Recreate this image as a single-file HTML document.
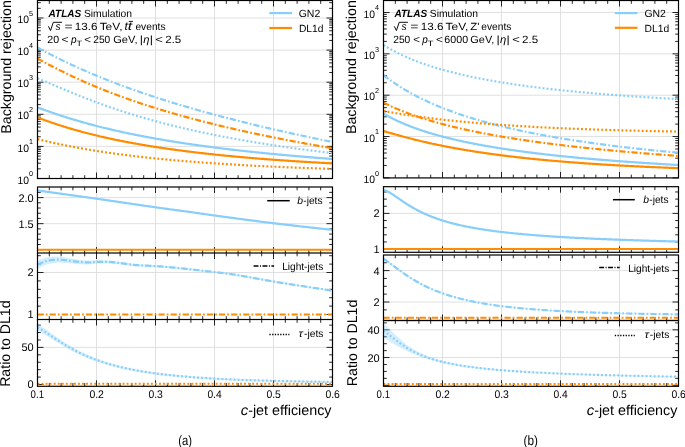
<!DOCTYPE html>
<html><head><meta charset="utf-8"><style>
html,body{margin:0;padding:0;background:#fff;}
body{width:685px;height:447px;overflow:hidden;}
svg{display:block;text-rendering:geometricPrecision;will-change:transform;}
</style></head><body>
<svg width="685" height="447" viewBox="0 0 685 447" font-family="'Liberation Sans', sans-serif">
<rect width="685" height="447" fill="#fff"/>
<defs>
<clipPath id="Amain"><rect x="37.5" y="0.5" width="295" height="178"/></clipPath>
<clipPath id="Ab"><rect x="37.5" y="187" width="295" height="66"/></clipPath>
<clipPath id="Al"><rect x="37.5" y="253" width="295" height="66.5"/></clipPath>
<clipPath id="At"><rect x="37.5" y="319.5" width="295" height="66.8"/></clipPath>
<clipPath id="Bmain"><rect x="383.5" y="0.5" width="295" height="177.4"/></clipPath>
<clipPath id="Bb"><rect x="383.5" y="186.7" width="295" height="65.6"/></clipPath>
<clipPath id="Bl"><rect x="383.5" y="255" width="295" height="65.5"/></clipPath>
<clipPath id="Bt"><rect x="383.5" y="320.5" width="295" height="65.8"/></clipPath>
</defs>
<line x1="96.5" y1="0.5" x2="96.5" y2="178.5" stroke="#dcdcdc" stroke-width="0.9"/>
<line x1="155.5" y1="0.5" x2="155.5" y2="178.5" stroke="#dcdcdc" stroke-width="0.9"/>
<line x1="214.5" y1="0.5" x2="214.5" y2="178.5" stroke="#dcdcdc" stroke-width="0.9"/>
<line x1="273.5" y1="0.5" x2="273.5" y2="178.5" stroke="#dcdcdc" stroke-width="0.9"/>
<line x1="37.5" y1="146.4" x2="332.5" y2="146.4" stroke="#dcdcdc" stroke-width="0.9"/>
<line x1="37.5" y1="114.3" x2="332.5" y2="114.3" stroke="#dcdcdc" stroke-width="0.9"/>
<line x1="37.5" y1="82.2" x2="332.5" y2="82.2" stroke="#dcdcdc" stroke-width="0.9"/>
<line x1="37.5" y1="50.1" x2="332.5" y2="50.1" stroke="#dcdcdc" stroke-width="0.9"/>
<line x1="37.5" y1="18" x2="332.5" y2="18" stroke="#dcdcdc" stroke-width="0.9"/>
<line x1="96.5" y1="187" x2="96.5" y2="253" stroke="#dcdcdc" stroke-width="0.9"/>
<line x1="155.5" y1="187" x2="155.5" y2="253" stroke="#dcdcdc" stroke-width="0.9"/>
<line x1="214.5" y1="187" x2="214.5" y2="253" stroke="#dcdcdc" stroke-width="0.9"/>
<line x1="273.5" y1="187" x2="273.5" y2="253" stroke="#dcdcdc" stroke-width="0.9"/>
<line x1="37.5" y1="197.6" x2="332.5" y2="197.6" stroke="#dcdcdc" stroke-width="0.9"/>
<line x1="37.5" y1="223.65" x2="332.5" y2="223.65" stroke="#dcdcdc" stroke-width="0.9"/>
<line x1="96.5" y1="253" x2="96.5" y2="319.5" stroke="#dcdcdc" stroke-width="0.9"/>
<line x1="155.5" y1="253" x2="155.5" y2="319.5" stroke="#dcdcdc" stroke-width="0.9"/>
<line x1="214.5" y1="253" x2="214.5" y2="319.5" stroke="#dcdcdc" stroke-width="0.9"/>
<line x1="273.5" y1="253" x2="273.5" y2="319.5" stroke="#dcdcdc" stroke-width="0.9"/>
<line x1="37.5" y1="272.5" x2="332.5" y2="272.5" stroke="#dcdcdc" stroke-width="0.9"/>
<line x1="96.5" y1="319.5" x2="96.5" y2="386.3" stroke="#dcdcdc" stroke-width="0.9"/>
<line x1="155.5" y1="319.5" x2="155.5" y2="386.3" stroke="#dcdcdc" stroke-width="0.9"/>
<line x1="214.5" y1="319.5" x2="214.5" y2="386.3" stroke="#dcdcdc" stroke-width="0.9"/>
<line x1="273.5" y1="319.5" x2="273.5" y2="386.3" stroke="#dcdcdc" stroke-width="0.9"/>
<line x1="37.5" y1="347.4" x2="332.5" y2="347.4" stroke="#dcdcdc" stroke-width="0.9"/>
<line x1="442.5" y1="0.5" x2="442.5" y2="177.9" stroke="#dcdcdc" stroke-width="0.9"/>
<line x1="501.5" y1="0.5" x2="501.5" y2="177.9" stroke="#dcdcdc" stroke-width="0.9"/>
<line x1="560.5" y1="0.5" x2="560.5" y2="177.9" stroke="#dcdcdc" stroke-width="0.9"/>
<line x1="619.5" y1="0.5" x2="619.5" y2="177.9" stroke="#dcdcdc" stroke-width="0.9"/>
<line x1="383.5" y1="136.55" x2="678.5" y2="136.55" stroke="#dcdcdc" stroke-width="0.9"/>
<line x1="383.5" y1="95.2" x2="678.5" y2="95.2" stroke="#dcdcdc" stroke-width="0.9"/>
<line x1="383.5" y1="53.85" x2="678.5" y2="53.85" stroke="#dcdcdc" stroke-width="0.9"/>
<line x1="383.5" y1="12.5" x2="678.5" y2="12.5" stroke="#dcdcdc" stroke-width="0.9"/>
<line x1="442.5" y1="186.7" x2="442.5" y2="252.3" stroke="#dcdcdc" stroke-width="0.9"/>
<line x1="501.5" y1="186.7" x2="501.5" y2="252.3" stroke="#dcdcdc" stroke-width="0.9"/>
<line x1="560.5" y1="186.7" x2="560.5" y2="252.3" stroke="#dcdcdc" stroke-width="0.9"/>
<line x1="619.5" y1="186.7" x2="619.5" y2="252.3" stroke="#dcdcdc" stroke-width="0.9"/>
<line x1="383.5" y1="213.4" x2="678.5" y2="213.4" stroke="#dcdcdc" stroke-width="0.9"/>
<line x1="442.5" y1="255" x2="442.5" y2="320.5" stroke="#dcdcdc" stroke-width="0.9"/>
<line x1="501.5" y1="255" x2="501.5" y2="320.5" stroke="#dcdcdc" stroke-width="0.9"/>
<line x1="560.5" y1="255" x2="560.5" y2="320.5" stroke="#dcdcdc" stroke-width="0.9"/>
<line x1="619.5" y1="255" x2="619.5" y2="320.5" stroke="#dcdcdc" stroke-width="0.9"/>
<line x1="383.5" y1="302" x2="678.5" y2="302" stroke="#dcdcdc" stroke-width="0.9"/>
<line x1="383.5" y1="270.6" x2="678.5" y2="270.6" stroke="#dcdcdc" stroke-width="0.9"/>
<line x1="442.5" y1="320.5" x2="442.5" y2="386.3" stroke="#dcdcdc" stroke-width="0.9"/>
<line x1="501.5" y1="320.5" x2="501.5" y2="386.3" stroke="#dcdcdc" stroke-width="0.9"/>
<line x1="560.5" y1="320.5" x2="560.5" y2="386.3" stroke="#dcdcdc" stroke-width="0.9"/>
<line x1="619.5" y1="320.5" x2="619.5" y2="386.3" stroke="#dcdcdc" stroke-width="0.9"/>
<line x1="383.5" y1="357.56" x2="678.5" y2="357.56" stroke="#dcdcdc" stroke-width="0.9"/>
<line x1="383.5" y1="329.82" x2="678.5" y2="329.82" stroke="#dcdcdc" stroke-width="0.9"/>
<path d="M37.5 0.5v6M37.5 178.5v-6M49.3 0.5v3.3M49.3 178.5v-3.3M61.1 0.5v3.3M61.1 178.5v-3.3M72.9 0.5v3.3M72.9 178.5v-3.3M84.7 0.5v3.3M84.7 178.5v-3.3M96.5 0.5v6M96.5 178.5v-6M108.3 0.5v3.3M108.3 178.5v-3.3M120.1 0.5v3.3M120.1 178.5v-3.3M131.9 0.5v3.3M131.9 178.5v-3.3M143.7 0.5v3.3M143.7 178.5v-3.3M155.5 0.5v6M155.5 178.5v-6M167.3 0.5v3.3M167.3 178.5v-3.3M179.1 0.5v3.3M179.1 178.5v-3.3M190.9 0.5v3.3M190.9 178.5v-3.3M202.7 0.5v3.3M202.7 178.5v-3.3M214.5 0.5v6M214.5 178.5v-6M226.3 0.5v3.3M226.3 178.5v-3.3M238.1 0.5v3.3M238.1 178.5v-3.3M249.9 0.5v3.3M249.9 178.5v-3.3M261.7 0.5v3.3M261.7 178.5v-3.3M273.5 0.5v6M273.5 178.5v-6M285.3 0.5v3.3M285.3 178.5v-3.3M297.1 0.5v3.3M297.1 178.5v-3.3M308.9 0.5v3.3M308.9 178.5v-3.3M320.7 0.5v3.3M320.7 178.5v-3.3M332.5 0.5v6M332.5 178.5v-6" stroke="#000" stroke-width="0.85" fill="none"/>
<path d="M37.5 178.5h6M332.5 178.5h-6M37.5 146.4h6M332.5 146.4h-6M37.5 114.3h6M332.5 114.3h-6M37.5 82.2h6M332.5 82.2h-6M37.5 50.1h6M332.5 50.1h-6M37.5 18h6M332.5 18h-6M37.5 168.84h3.3M332.5 168.84h-3.3M37.5 163.18h3.3M332.5 163.18h-3.3M37.5 159.17h3.3M332.5 159.17h-3.3M37.5 156.06h3.3M332.5 156.06h-3.3M37.5 153.52h3.3M332.5 153.52h-3.3M37.5 151.37h3.3M332.5 151.37h-3.3M37.5 149.51h3.3M332.5 149.51h-3.3M37.5 147.87h3.3M332.5 147.87h-3.3M37.5 136.74h3.3M332.5 136.74h-3.3M37.5 131.08h3.3M332.5 131.08h-3.3M37.5 127.07h3.3M332.5 127.07h-3.3M37.5 123.96h3.3M332.5 123.96h-3.3M37.5 121.42h3.3M332.5 121.42h-3.3M37.5 119.27h3.3M332.5 119.27h-3.3M37.5 117.41h3.3M332.5 117.41h-3.3M37.5 115.77h3.3M332.5 115.77h-3.3M37.5 104.64h3.3M332.5 104.64h-3.3M37.5 98.98h3.3M332.5 98.98h-3.3M37.5 94.97h3.3M332.5 94.97h-3.3M37.5 91.86h3.3M332.5 91.86h-3.3M37.5 89.32h3.3M332.5 89.32h-3.3M37.5 87.17h3.3M332.5 87.17h-3.3M37.5 85.31h3.3M332.5 85.31h-3.3M37.5 83.67h3.3M332.5 83.67h-3.3M37.5 72.54h3.3M332.5 72.54h-3.3M37.5 66.88h3.3M332.5 66.88h-3.3M37.5 62.87h3.3M332.5 62.87h-3.3M37.5 59.76h3.3M332.5 59.76h-3.3M37.5 57.22h3.3M332.5 57.22h-3.3M37.5 55.07h3.3M332.5 55.07h-3.3M37.5 53.21h3.3M332.5 53.21h-3.3M37.5 51.57h3.3M332.5 51.57h-3.3M37.5 40.44h3.3M332.5 40.44h-3.3M37.5 34.78h3.3M332.5 34.78h-3.3M37.5 30.77h3.3M332.5 30.77h-3.3M37.5 27.66h3.3M332.5 27.66h-3.3M37.5 25.12h3.3M332.5 25.12h-3.3M37.5 22.97h3.3M332.5 22.97h-3.3M37.5 21.11h3.3M332.5 21.11h-3.3M37.5 19.47h3.3M332.5 19.47h-3.3M37.5 8.34h3.3M332.5 8.34h-3.3M37.5 2.68h3.3M332.5 2.68h-3.3" stroke="#000" stroke-width="0.85" fill="none"/>
<path d="M37.5 187v6M37.5 253v-6M49.3 187v3.3M49.3 253v-3.3M61.1 187v3.3M61.1 253v-3.3M72.9 187v3.3M72.9 253v-3.3M84.7 187v3.3M84.7 253v-3.3M96.5 187v6M96.5 253v-6M108.3 187v3.3M108.3 253v-3.3M120.1 187v3.3M120.1 253v-3.3M131.9 187v3.3M131.9 253v-3.3M143.7 187v3.3M143.7 253v-3.3M155.5 187v6M155.5 253v-6M167.3 187v3.3M167.3 253v-3.3M179.1 187v3.3M179.1 253v-3.3M190.9 187v3.3M190.9 253v-3.3M202.7 187v3.3M202.7 253v-3.3M214.5 187v6M214.5 253v-6M226.3 187v3.3M226.3 253v-3.3M238.1 187v3.3M238.1 253v-3.3M249.9 187v3.3M249.9 253v-3.3M261.7 187v3.3M261.7 253v-3.3M273.5 187v6M273.5 253v-6M285.3 187v3.3M285.3 253v-3.3M297.1 187v3.3M297.1 253v-3.3M308.9 187v3.3M308.9 253v-3.3M320.7 187v3.3M320.7 253v-3.3M332.5 187v6M332.5 253v-6" stroke="#000" stroke-width="0.85" fill="none"/>
<path d="M37.5 249.7h6M332.5 249.7h-6M37.5 223.65h6M332.5 223.65h-6M37.5 197.6h6M332.5 197.6h-6M37.5 244.49h3.3M332.5 244.49h-3.3M37.5 239.28h3.3M332.5 239.28h-3.3M37.5 234.07h3.3M332.5 234.07h-3.3M37.5 228.86h3.3M332.5 228.86h-3.3M37.5 218.44h3.3M332.5 218.44h-3.3M37.5 213.23h3.3M332.5 213.23h-3.3M37.5 208.02h3.3M332.5 208.02h-3.3M37.5 202.81h3.3M332.5 202.81h-3.3M37.5 192.39h3.3M332.5 192.39h-3.3" stroke="#000" stroke-width="0.85" fill="none"/>
<path d="M37.5 253v6M37.5 319.5v-6M49.3 253v3.3M49.3 319.5v-3.3M61.1 253v3.3M61.1 319.5v-3.3M72.9 253v3.3M72.9 319.5v-3.3M84.7 253v3.3M84.7 319.5v-3.3M96.5 253v6M96.5 319.5v-6M108.3 253v3.3M108.3 319.5v-3.3M120.1 253v3.3M120.1 319.5v-3.3M131.9 253v3.3M131.9 319.5v-3.3M143.7 253v3.3M143.7 319.5v-3.3M155.5 253v6M155.5 319.5v-6M167.3 253v3.3M167.3 319.5v-3.3M179.1 253v3.3M179.1 319.5v-3.3M190.9 253v3.3M190.9 319.5v-3.3M202.7 253v3.3M202.7 319.5v-3.3M214.5 253v6M214.5 319.5v-6M226.3 253v3.3M226.3 319.5v-3.3M238.1 253v3.3M238.1 319.5v-3.3M249.9 253v3.3M249.9 319.5v-3.3M261.7 253v3.3M261.7 319.5v-3.3M273.5 253v6M273.5 319.5v-6M285.3 253v3.3M285.3 319.5v-3.3M297.1 253v3.3M297.1 319.5v-3.3M308.9 253v3.3M308.9 319.5v-3.3M320.7 253v3.3M320.7 319.5v-3.3M332.5 253v6M332.5 319.5v-6" stroke="#000" stroke-width="0.85" fill="none"/>
<path d="M37.5 314.5h6M332.5 314.5h-6M37.5 272.5h6M332.5 272.5h-6M37.5 306.1h3.3M332.5 306.1h-3.3M37.5 297.7h3.3M332.5 297.7h-3.3M37.5 289.3h3.3M332.5 289.3h-3.3M37.5 280.9h3.3M332.5 280.9h-3.3M37.5 264.1h3.3M332.5 264.1h-3.3M37.5 255.7h3.3M332.5 255.7h-3.3" stroke="#000" stroke-width="0.85" fill="none"/>
<path d="M37.5 319.5v6M37.5 386.3v-6M49.3 319.5v3.3M49.3 386.3v-3.3M61.1 319.5v3.3M61.1 386.3v-3.3M72.9 319.5v3.3M72.9 386.3v-3.3M84.7 319.5v3.3M84.7 386.3v-3.3M96.5 319.5v6M96.5 386.3v-6M108.3 319.5v3.3M108.3 386.3v-3.3M120.1 319.5v3.3M120.1 386.3v-3.3M131.9 319.5v3.3M131.9 386.3v-3.3M143.7 319.5v3.3M143.7 386.3v-3.3M155.5 319.5v6M155.5 386.3v-6M167.3 319.5v3.3M167.3 386.3v-3.3M179.1 319.5v3.3M179.1 386.3v-3.3M190.9 319.5v3.3M190.9 386.3v-3.3M202.7 319.5v3.3M202.7 386.3v-3.3M214.5 319.5v6M214.5 386.3v-6M226.3 319.5v3.3M226.3 386.3v-3.3M238.1 319.5v3.3M238.1 386.3v-3.3M249.9 319.5v3.3M249.9 386.3v-3.3M261.7 319.5v3.3M261.7 386.3v-3.3M273.5 319.5v6M273.5 386.3v-6M285.3 319.5v3.3M285.3 386.3v-3.3M297.1 319.5v3.3M297.1 386.3v-3.3M308.9 319.5v3.3M308.9 386.3v-3.3M320.7 319.5v3.3M320.7 386.3v-3.3M332.5 319.5v6M332.5 386.3v-6" stroke="#000" stroke-width="0.85" fill="none"/>
<path d="M37.5 384.5h6M332.5 384.5h-6M37.5 347.4h6M332.5 347.4h-6M37.5 377.08h3.3M332.5 377.08h-3.3M37.5 369.66h3.3M332.5 369.66h-3.3M37.5 362.24h3.3M332.5 362.24h-3.3M37.5 354.82h3.3M332.5 354.82h-3.3M37.5 339.98h3.3M332.5 339.98h-3.3M37.5 332.56h3.3M332.5 332.56h-3.3M37.5 325.14h3.3M332.5 325.14h-3.3" stroke="#000" stroke-width="0.85" fill="none"/>
<path d="M383.5 0.5v6M383.5 177.9v-6M395.3 0.5v3.3M395.3 177.9v-3.3M407.1 0.5v3.3M407.1 177.9v-3.3M418.9 0.5v3.3M418.9 177.9v-3.3M430.7 0.5v3.3M430.7 177.9v-3.3M442.5 0.5v6M442.5 177.9v-6M454.3 0.5v3.3M454.3 177.9v-3.3M466.1 0.5v3.3M466.1 177.9v-3.3M477.9 0.5v3.3M477.9 177.9v-3.3M489.7 0.5v3.3M489.7 177.9v-3.3M501.5 0.5v6M501.5 177.9v-6M513.3 0.5v3.3M513.3 177.9v-3.3M525.1 0.5v3.3M525.1 177.9v-3.3M536.9 0.5v3.3M536.9 177.9v-3.3M548.7 0.5v3.3M548.7 177.9v-3.3M560.5 0.5v6M560.5 177.9v-6M572.3 0.5v3.3M572.3 177.9v-3.3M584.1 0.5v3.3M584.1 177.9v-3.3M595.9 0.5v3.3M595.9 177.9v-3.3M607.7 0.5v3.3M607.7 177.9v-3.3M619.5 0.5v6M619.5 177.9v-6M631.3 0.5v3.3M631.3 177.9v-3.3M643.1 0.5v3.3M643.1 177.9v-3.3M654.9 0.5v3.3M654.9 177.9v-3.3M666.7 0.5v3.3M666.7 177.9v-3.3M678.5 0.5v6M678.5 177.9v-6" stroke="#000" stroke-width="0.85" fill="none"/>
<path d="M383.5 177.9h6M678.5 177.9h-6M383.5 136.55h6M678.5 136.55h-6M383.5 95.2h6M678.5 95.2h-6M383.5 53.85h6M678.5 53.85h-6M383.5 12.5h6M678.5 12.5h-6M383.5 165.45h3.3M678.5 165.45h-3.3M383.5 158.17h3.3M678.5 158.17h-3.3M383.5 153h3.3M678.5 153h-3.3M383.5 149h3.3M678.5 149h-3.3M383.5 145.72h3.3M678.5 145.72h-3.3M383.5 142.96h3.3M678.5 142.96h-3.3M383.5 140.56h3.3M678.5 140.56h-3.3M383.5 138.44h3.3M678.5 138.44h-3.3M383.5 124.1h3.3M678.5 124.1h-3.3M383.5 116.82h3.3M678.5 116.82h-3.3M383.5 111.65h3.3M678.5 111.65h-3.3M383.5 107.65h3.3M678.5 107.65h-3.3M383.5 104.37h3.3M678.5 104.37h-3.3M383.5 101.61h3.3M678.5 101.61h-3.3M383.5 99.21h3.3M678.5 99.21h-3.3M383.5 97.09h3.3M678.5 97.09h-3.3M383.5 82.75h3.3M678.5 82.75h-3.3M383.5 75.47h3.3M678.5 75.47h-3.3M383.5 70.3h3.3M678.5 70.3h-3.3M383.5 66.3h3.3M678.5 66.3h-3.3M383.5 63.02h3.3M678.5 63.02h-3.3M383.5 60.26h3.3M678.5 60.26h-3.3M383.5 57.86h3.3M678.5 57.86h-3.3M383.5 55.74h3.3M678.5 55.74h-3.3M383.5 41.4h3.3M678.5 41.4h-3.3M383.5 34.12h3.3M678.5 34.12h-3.3M383.5 28.95h3.3M678.5 28.95h-3.3M383.5 24.95h3.3M678.5 24.95h-3.3M383.5 21.67h3.3M678.5 21.67h-3.3M383.5 18.91h3.3M678.5 18.91h-3.3M383.5 16.51h3.3M678.5 16.51h-3.3M383.5 14.39h3.3M678.5 14.39h-3.3" stroke="#000" stroke-width="0.85" fill="none"/>
<path d="M383.5 186.7v6M383.5 252.3v-6M395.3 186.7v3.3M395.3 252.3v-3.3M407.1 186.7v3.3M407.1 252.3v-3.3M418.9 186.7v3.3M418.9 252.3v-3.3M430.7 186.7v3.3M430.7 252.3v-3.3M442.5 186.7v6M442.5 252.3v-6M454.3 186.7v3.3M454.3 252.3v-3.3M466.1 186.7v3.3M466.1 252.3v-3.3M477.9 186.7v3.3M477.9 252.3v-3.3M489.7 186.7v3.3M489.7 252.3v-3.3M501.5 186.7v6M501.5 252.3v-6M513.3 186.7v3.3M513.3 252.3v-3.3M525.1 186.7v3.3M525.1 252.3v-3.3M536.9 186.7v3.3M536.9 252.3v-3.3M548.7 186.7v3.3M548.7 252.3v-3.3M560.5 186.7v6M560.5 252.3v-6M572.3 186.7v3.3M572.3 252.3v-3.3M584.1 186.7v3.3M584.1 252.3v-3.3M595.9 186.7v3.3M595.9 252.3v-3.3M607.7 186.7v3.3M607.7 252.3v-3.3M619.5 186.7v6M619.5 252.3v-6M631.3 186.7v3.3M631.3 252.3v-3.3M643.1 186.7v3.3M643.1 252.3v-3.3M654.9 186.7v3.3M654.9 252.3v-3.3M666.7 186.7v3.3M666.7 252.3v-3.3M678.5 186.7v6M678.5 252.3v-6" stroke="#000" stroke-width="0.85" fill="none"/>
<path d="M383.5 249.1h6M678.5 249.1h-6M383.5 213.4h6M678.5 213.4h-6M383.5 241.96h3.3M678.5 241.96h-3.3M383.5 234.82h3.3M678.5 234.82h-3.3M383.5 227.68h3.3M678.5 227.68h-3.3M383.5 220.54h3.3M678.5 220.54h-3.3M383.5 206.26h3.3M678.5 206.26h-3.3M383.5 199.12h3.3M678.5 199.12h-3.3M383.5 191.98h3.3M678.5 191.98h-3.3" stroke="#000" stroke-width="0.85" fill="none"/>
<path d="M383.5 255v6M383.5 320.5v-6M395.3 255v3.3M395.3 320.5v-3.3M407.1 255v3.3M407.1 320.5v-3.3M418.9 255v3.3M418.9 320.5v-3.3M430.7 255v3.3M430.7 320.5v-3.3M442.5 255v6M442.5 320.5v-6M454.3 255v3.3M454.3 320.5v-3.3M466.1 255v3.3M466.1 320.5v-3.3M477.9 255v3.3M477.9 320.5v-3.3M489.7 255v3.3M489.7 320.5v-3.3M501.5 255v6M501.5 320.5v-6M513.3 255v3.3M513.3 320.5v-3.3M525.1 255v3.3M525.1 320.5v-3.3M536.9 255v3.3M536.9 320.5v-3.3M548.7 255v3.3M548.7 320.5v-3.3M560.5 255v6M560.5 320.5v-6M572.3 255v3.3M572.3 320.5v-3.3M584.1 255v3.3M584.1 320.5v-3.3M595.9 255v3.3M595.9 320.5v-3.3M607.7 255v3.3M607.7 320.5v-3.3M619.5 255v6M619.5 320.5v-6M631.3 255v3.3M631.3 320.5v-3.3M643.1 255v3.3M643.1 320.5v-3.3M654.9 255v3.3M654.9 320.5v-3.3M666.7 255v3.3M666.7 320.5v-3.3M678.5 255v6M678.5 320.5v-6" stroke="#000" stroke-width="0.85" fill="none"/>
<path d="M383.5 302h6M678.5 302h-6M383.5 270.6h6M678.5 270.6h-6M383.5 317.7h3.3M678.5 317.7h-3.3M383.5 309.85h3.3M678.5 309.85h-3.3M383.5 294.15h3.3M678.5 294.15h-3.3M383.5 286.3h3.3M678.5 286.3h-3.3M383.5 278.45h3.3M678.5 278.45h-3.3M383.5 262.75h3.3M678.5 262.75h-3.3" stroke="#000" stroke-width="0.85" fill="none"/>
<path d="M383.5 320.5v6M383.5 386.3v-6M395.3 320.5v3.3M395.3 386.3v-3.3M407.1 320.5v3.3M407.1 386.3v-3.3M418.9 320.5v3.3M418.9 386.3v-3.3M430.7 320.5v3.3M430.7 386.3v-3.3M442.5 320.5v6M442.5 386.3v-6M454.3 320.5v3.3M454.3 386.3v-3.3M466.1 320.5v3.3M466.1 386.3v-3.3M477.9 320.5v3.3M477.9 386.3v-3.3M489.7 320.5v3.3M489.7 386.3v-3.3M501.5 320.5v6M501.5 386.3v-6M513.3 320.5v3.3M513.3 386.3v-3.3M525.1 320.5v3.3M525.1 386.3v-3.3M536.9 320.5v3.3M536.9 386.3v-3.3M548.7 320.5v3.3M548.7 386.3v-3.3M560.5 320.5v6M560.5 386.3v-6M572.3 320.5v3.3M572.3 386.3v-3.3M584.1 320.5v3.3M584.1 386.3v-3.3M595.9 320.5v3.3M595.9 386.3v-3.3M607.7 320.5v3.3M607.7 386.3v-3.3M619.5 320.5v6M619.5 386.3v-6M631.3 320.5v3.3M631.3 386.3v-3.3M643.1 320.5v3.3M643.1 386.3v-3.3M654.9 320.5v3.3M654.9 386.3v-3.3M666.7 320.5v3.3M666.7 386.3v-3.3M678.5 320.5v6M678.5 386.3v-6" stroke="#000" stroke-width="0.85" fill="none"/>
<path d="M383.5 385.3h6M678.5 385.3h-6M383.5 357.56h6M678.5 357.56h-6M383.5 329.82h6M678.5 329.82h-6M383.5 378.37h3.3M678.5 378.37h-3.3M383.5 371.43h3.3M678.5 371.43h-3.3M383.5 364.5h3.3M678.5 364.5h-3.3M383.5 350.62h3.3M678.5 350.62h-3.3M383.5 343.69h3.3M678.5 343.69h-3.3M383.5 336.75h3.3M678.5 336.75h-3.3M383.5 322.88h3.3M678.5 322.88h-3.3" stroke="#000" stroke-width="0.85" fill="none"/>
<path d="M37.5 47.5 L38.5 48.05 L39.5 48.59 L40.5 49.12 L41.5 49.66 L42.5 50.19 L43.5 50.73 L44.5 51.26 L45.5 51.78 L46.5 52.31 L47.5 52.83 L48.5 53.35 L49.5 53.87 L50.5 54.39 L51.5 54.9 L52.5 55.41 L53.5 55.92 L54.5 56.43 L55.5 56.93 L56.5 57.44 L57.5 57.94 L58.5 58.43 L59.5 58.93 L60.5 59.42 L61.5 59.91 L62.5 60.4 L63.5 60.88 L64.5 61.37 L65.5 61.85 L66.5 62.33 L67.5 62.8 L68.5 63.28 L69.5 63.75 L70.5 64.22 L71.5 64.68 L72.5 65.15 L73.5 65.61 L74.5 66.07 L75.5 66.53 L76.5 66.99 L77.5 67.44 L78.5 67.89 L79.5 68.34 L80.5 68.79 L81.5 69.23 L82.5 69.67 L83.5 70.12 L84.5 70.55 L85.5 70.99 L86.5 71.43 L87.5 71.86 L88.5 72.29 L89.5 72.72 L90.5 73.14 L91.5 73.57 L92.5 73.99 L93.5 74.41 L94.5 74.83 L95.5 75.25 L96.5 75.66 L97.5 76.07 L98.5 76.49 L99.5 76.89 L100.5 77.3 L101.5 77.71 L102.5 78.11 L103.5 78.51 L104.5 78.91 L105.5 79.31 L106.5 79.71 L107.5 80.1 L108.5 80.5 L109.5 80.89 L110.5 81.28 L111.5 81.67 L112.5 82.05 L113.5 82.44 L114.5 82.82 L115.5 83.2 L116.5 83.58 L117.5 83.96 L118.5 84.34 L119.5 84.71 L120.5 85.09 L121.5 85.46 L122.5 85.83 L123.5 86.2 L124.5 86.57 L125.5 86.93 L126.5 87.3 L127.5 87.66 L128.5 88.02 L129.5 88.38 L130.5 88.74 L131.5 89.1 L132.5 89.46 L133.5 89.81 L134.5 90.16 L135.5 90.52 L136.5 90.87 L137.5 91.22 L138.5 91.56 L139.5 91.91 L140.5 92.26 L141.5 92.6 L142.5 92.94 L143.5 93.28 L144.5 93.62 L145.5 93.96 L146.5 94.3 L147.5 94.63 L148.5 94.97 L149.5 95.3 L150.5 95.63 L151.5 95.97 L152.5 96.3 L153.5 96.62 L154.5 96.95 L155.5 97.28 L156.5 97.6 L157.5 97.93 L158.5 98.25 L159.5 98.57 L160.5 98.89 L161.5 99.21 L162.5 99.53 L163.5 99.85 L164.5 100.16 L165.5 100.48 L166.5 100.79 L167.5 101.1 L168.5 101.42 L169.5 101.73 L170.5 102.04 L171.5 102.34 L172.5 102.65 L173.5 102.96 L174.5 103.26 L175.5 103.57 L176.5 103.87 L177.5 104.17 L178.5 104.47 L179.5 104.78 L180.5 105.07 L181.5 105.37 L182.5 105.67 L183.5 105.97 L184.5 106.26 L185.5 106.56 L186.5 106.85 L187.5 107.14 L188.5 107.43 L189.5 107.72 L190.5 108.01 L191.5 108.3 L192.5 108.59 L193.5 108.88 L194.5 109.16 L195.5 109.45 L196.5 109.73 L197.5 110.02 L198.5 110.3 L199.5 110.58 L200.5 110.86 L201.5 111.14 L202.5 111.42 L203.5 111.7 L204.5 111.98 L205.5 112.25 L206.5 112.53 L207.5 112.8 L208.5 113.08 L209.5 113.35 L210.5 113.62 L211.5 113.89 L212.5 114.16 L213.5 114.43 L214.5 114.7 L215.5 114.97 L216.5 115.24 L217.5 115.51 L218.5 115.77 L219.5 116.04 L220.5 116.3 L221.5 116.57 L222.5 116.83 L223.5 117.09 L224.5 117.35 L225.5 117.61 L226.5 117.87 L227.5 118.13 L228.5 118.39 L229.5 118.65 L230.5 118.91 L231.5 119.16 L232.5 119.42 L233.5 119.67 L234.5 119.93 L235.5 120.18 L236.5 120.43 L237.5 120.69 L238.5 120.94 L239.5 121.19 L240.5 121.44 L241.5 121.69 L242.5 121.94 L243.5 122.18 L244.5 122.43 L245.5 122.68 L246.5 122.93 L247.5 123.17 L248.5 123.42 L249.5 123.66 L250.5 123.9 L251.5 124.15 L252.5 124.39 L253.5 124.63 L254.5 124.87 L255.5 125.11 L256.5 125.35 L257.5 125.59 L258.5 125.83 L259.5 126.07 L260.5 126.3 L261.5 126.54 L262.5 126.78 L263.5 127.01 L264.5 127.25 L265.5 127.48 L266.5 127.71 L267.5 127.95 L268.5 128.18 L269.5 128.41 L270.5 128.64 L271.5 128.87 L272.5 129.1 L273.5 129.33 L274.5 129.56 L275.5 129.79 L276.5 130.02 L277.5 130.25 L278.5 130.47 L279.5 130.7 L280.5 130.92 L281.5 131.15 L282.5 131.37 L283.5 131.6 L284.5 131.82 L285.5 132.05 L286.5 132.27 L287.5 132.49 L288.5 132.71 L289.5 132.93 L290.5 133.15 L291.5 133.37 L292.5 133.59 L293.5 133.81 L294.5 134.03 L295.5 134.25 L296.5 134.46 L297.5 134.68 L298.5 134.9 L299.5 135.11 L300.5 135.33 L301.5 135.54 L302.5 135.76 L303.5 135.97 L304.5 136.18 L305.5 136.4 L306.5 136.61 L307.5 136.82 L308.5 137.03 L309.5 137.24 L310.5 137.45 L311.5 137.66 L312.5 137.87 L313.5 138.08 L314.5 138.29 L315.5 138.5 L316.5 138.71 L317.5 138.91 L318.5 139.12 L319.5 139.33 L320.5 139.53 L321.5 139.74 L322.5 139.94 L323.5 140.15 L324.5 140.35 L325.5 140.55 L326.5 140.76 L327.5 140.96 L328.5 141.16 L329.5 141.36 L330.5 141.57 L331.5 141.77 L332.5 141.97" fill="none" stroke="#87cefa" stroke-width="2.2" stroke-dasharray="6.2 2.1 1.7 2.1" clip-path="url(#Amain)"/>
<path d="M37.5 58.52 L38.5 59.07 L39.5 59.61 L40.5 60.16 L41.5 60.7 L42.5 61.24 L43.5 61.77 L44.5 62.31 L45.5 62.85 L46.5 63.38 L47.5 63.91 L48.5 64.44 L49.5 64.97 L50.5 65.49 L51.5 66.01 L52.5 66.53 L53.5 67.05 L54.5 67.57 L55.5 68.08 L56.5 68.59 L57.5 69.1 L58.5 69.6 L59.5 70.11 L60.5 70.61 L61.5 71.11 L62.5 71.6 L63.5 72.09 L64.5 72.59 L65.5 73.07 L66.5 73.56 L67.5 74.04 L68.5 74.52 L69.5 75 L70.5 75.48 L71.5 75.95 L72.5 76.42 L73.5 76.89 L74.5 77.35 L75.5 77.82 L76.5 78.28 L77.5 78.74 L78.5 79.19 L79.5 79.65 L80.5 80.1 L81.5 80.55 L82.5 80.99 L83.5 81.43 L84.5 81.88 L85.5 82.32 L86.5 82.75 L87.5 83.19 L88.5 83.62 L89.5 84.05 L90.5 84.48 L91.5 84.9 L92.5 85.32 L93.5 85.74 L94.5 86.16 L95.5 86.58 L96.5 86.99 L97.5 87.4 L98.5 87.81 L99.5 88.22 L100.5 88.63 L101.5 89.03 L102.5 89.43 L103.5 89.83 L104.5 90.23 L105.5 90.62 L106.5 91.02 L107.5 91.41 L108.5 91.8 L109.5 92.18 L110.5 92.57 L111.5 92.95 L112.5 93.33 L113.5 93.71 L114.5 94.09 L115.5 94.47 L116.5 94.84 L117.5 95.21 L118.5 95.58 L119.5 95.95 L120.5 96.32 L121.5 96.68 L122.5 97.04 L123.5 97.41 L124.5 97.76 L125.5 98.12 L126.5 98.48 L127.5 98.83 L128.5 99.18 L129.5 99.54 L130.5 99.88 L131.5 100.23 L132.5 100.58 L133.5 100.92 L134.5 101.26 L135.5 101.6 L136.5 101.94 L137.5 102.28 L138.5 102.62 L139.5 102.95 L140.5 103.29 L141.5 103.62 L142.5 103.95 L143.5 104.28 L144.5 104.6 L145.5 104.93 L146.5 105.25 L147.5 105.57 L148.5 105.9 L149.5 106.22 L150.5 106.53 L151.5 106.85 L152.5 107.17 L153.5 107.48 L154.5 107.79 L155.5 108.1 L156.5 108.41 L157.5 108.72 L158.5 109.03 L159.5 109.33 L160.5 109.64 L161.5 109.94 L162.5 110.24 L163.5 110.55 L164.5 110.84 L165.5 111.14 L166.5 111.44 L167.5 111.73 L168.5 112.03 L169.5 112.32 L170.5 112.61 L171.5 112.9 L172.5 113.19 L173.5 113.48 L174.5 113.77 L175.5 114.05 L176.5 114.34 L177.5 114.62 L178.5 114.91 L179.5 115.19 L180.5 115.47 L181.5 115.75 L182.5 116.02 L183.5 116.3 L184.5 116.58 L185.5 116.85 L186.5 117.12 L187.5 117.4 L188.5 117.67 L189.5 117.94 L190.5 118.21 L191.5 118.47 L192.5 118.74 L193.5 119.01 L194.5 119.27 L195.5 119.54 L196.5 119.8 L197.5 120.06 L198.5 120.32 L199.5 120.58 L200.5 120.84 L201.5 121.1 L202.5 121.35 L203.5 121.61 L204.5 121.86 L205.5 122.12 L206.5 122.37 L207.5 122.62 L208.5 122.87 L209.5 123.12 L210.5 123.37 L211.5 123.62 L212.5 123.87 L213.5 124.12 L214.5 124.36 L215.5 124.61 L216.5 124.85 L217.5 125.09 L218.5 125.33 L219.5 125.58 L220.5 125.82 L221.5 126.06 L222.5 126.29 L223.5 126.53 L224.5 126.77 L225.5 127 L226.5 127.24 L227.5 127.47 L228.5 127.71 L229.5 127.94 L230.5 128.17 L231.5 128.4 L232.5 128.63 L233.5 128.86 L234.5 129.09 L235.5 129.32 L236.5 129.55 L237.5 129.77 L238.5 130 L239.5 130.22 L240.5 130.45 L241.5 130.67 L242.5 130.89 L243.5 131.11 L244.5 131.33 L245.5 131.55 L246.5 131.77 L247.5 131.99 L248.5 132.21 L249.5 132.43 L250.5 132.64 L251.5 132.86 L252.5 133.08 L253.5 133.29 L254.5 133.5 L255.5 133.72 L256.5 133.93 L257.5 134.14 L258.5 134.35 L259.5 134.56 L260.5 134.77 L261.5 134.98 L262.5 135.19 L263.5 135.4 L264.5 135.6 L265.5 135.81 L266.5 136.01 L267.5 136.22 L268.5 136.42 L269.5 136.63 L270.5 136.83 L271.5 137.03 L272.5 137.23 L273.5 137.43 L274.5 137.63 L275.5 137.83 L276.5 138.03 L277.5 138.23 L278.5 138.43 L279.5 138.63 L280.5 138.82 L281.5 139.02 L282.5 139.21 L283.5 139.41 L284.5 139.6 L285.5 139.8 L286.5 139.99 L287.5 140.18 L288.5 140.37 L289.5 140.57 L290.5 140.76 L291.5 140.95 L292.5 141.14 L293.5 141.33 L294.5 141.51 L295.5 141.7 L296.5 141.89 L297.5 142.08 L298.5 142.26 L299.5 142.45 L300.5 142.63 L301.5 142.82 L302.5 143 L303.5 143.18 L304.5 143.37 L305.5 143.55 L306.5 143.73 L307.5 143.91 L308.5 144.09 L309.5 144.27 L310.5 144.45 L311.5 144.63 L312.5 144.81 L313.5 144.99 L314.5 145.17 L315.5 145.34 L316.5 145.52 L317.5 145.7 L318.5 145.87 L319.5 146.05 L320.5 146.22 L321.5 146.4 L322.5 146.57 L323.5 146.74 L324.5 146.92 L325.5 147.09 L326.5 147.26 L327.5 147.43 L328.5 147.6 L329.5 147.77 L330.5 147.94 L331.5 148.11 L332.5 148.28" fill="none" stroke="#ff8c00" stroke-width="2.2" stroke-dasharray="6.2 2.1 1.7 2.1" clip-path="url(#Amain)"/>
<path d="M37.5 78.46 L38.5 78.84 L39.5 79.23 L40.5 79.62 L41.5 80.02 L42.5 80.42 L43.5 80.82 L44.5 81.23 L45.5 81.64 L46.5 82.05 L47.5 82.46 L48.5 82.88 L49.5 83.3 L50.5 83.72 L51.5 84.14 L52.5 84.56 L53.5 84.98 L54.5 85.4 L55.5 85.83 L56.5 86.25 L57.5 86.67 L58.5 87.1 L59.5 87.52 L60.5 87.94 L61.5 88.36 L62.5 88.79 L63.5 89.21 L64.5 89.63 L65.5 90.05 L66.5 90.47 L67.5 90.88 L68.5 91.3 L69.5 91.72 L70.5 92.13 L71.5 92.54 L72.5 92.95 L73.5 93.36 L74.5 93.77 L75.5 94.18 L76.5 94.59 L77.5 94.99 L78.5 95.39 L79.5 95.8 L80.5 96.19 L81.5 96.59 L82.5 96.99 L83.5 97.38 L84.5 97.78 L85.5 98.17 L86.5 98.56 L87.5 98.94 L88.5 99.33 L89.5 99.71 L90.5 100.1 L91.5 100.48 L92.5 100.86 L93.5 101.23 L94.5 101.61 L95.5 101.98 L96.5 102.35 L97.5 102.72 L98.5 103.09 L99.5 103.45 L100.5 103.82 L101.5 104.18 L102.5 104.54 L103.5 104.9 L104.5 105.26 L105.5 105.61 L106.5 105.96 L107.5 106.32 L108.5 106.66 L109.5 107.01 L110.5 107.36 L111.5 107.7 L112.5 108.04 L113.5 108.38 L114.5 108.72 L115.5 109.06 L116.5 109.39 L117.5 109.73 L118.5 110.06 L119.5 110.39 L120.5 110.72 L121.5 111.04 L122.5 111.37 L123.5 111.69 L124.5 112.01 L125.5 112.33 L126.5 112.65 L127.5 112.96 L128.5 113.28 L129.5 113.59 L130.5 113.9 L131.5 114.21 L132.5 114.52 L133.5 114.82 L134.5 115.13 L135.5 115.43 L136.5 115.73 L137.5 116.03 L138.5 116.33 L139.5 116.62 L140.5 116.92 L141.5 117.21 L142.5 117.5 L143.5 117.79 L144.5 118.08 L145.5 118.37 L146.5 118.65 L147.5 118.94 L148.5 119.22 L149.5 119.5 L150.5 119.78 L151.5 120.06 L152.5 120.33 L153.5 120.61 L154.5 120.88 L155.5 121.15 L156.5 121.42 L157.5 121.69 L158.5 121.96 L159.5 122.23 L160.5 122.49 L161.5 122.75 L162.5 123.02 L163.5 123.28 L164.5 123.54 L165.5 123.79 L166.5 124.05 L167.5 124.31 L168.5 124.56 L169.5 124.81 L170.5 125.06 L171.5 125.31 L172.5 125.56 L173.5 125.81 L174.5 126.06 L175.5 126.3 L176.5 126.55 L177.5 126.79 L178.5 127.03 L179.5 127.27 L180.5 127.51 L181.5 127.74 L182.5 127.98 L183.5 128.22 L184.5 128.45 L185.5 128.68 L186.5 128.91 L187.5 129.14 L188.5 129.37 L189.5 129.6 L190.5 129.83 L191.5 130.05 L192.5 130.28 L193.5 130.5 L194.5 130.72 L195.5 130.95 L196.5 131.17 L197.5 131.38 L198.5 131.6 L199.5 131.82 L200.5 132.03 L201.5 132.25 L202.5 132.46 L203.5 132.68 L204.5 132.89 L205.5 133.1 L206.5 133.31 L207.5 133.51 L208.5 133.72 L209.5 133.93 L210.5 134.13 L211.5 134.34 L212.5 134.54 L213.5 134.74 L214.5 134.94 L215.5 135.14 L216.5 135.34 L217.5 135.54 L218.5 135.74 L219.5 135.94 L220.5 136.13 L221.5 136.33 L222.5 136.52 L223.5 136.71 L224.5 136.9 L225.5 137.09 L226.5 137.28 L227.5 137.47 L228.5 137.66 L229.5 137.85 L230.5 138.03 L231.5 138.22 L232.5 138.4 L233.5 138.59 L234.5 138.77 L235.5 138.95 L236.5 139.13 L237.5 139.31 L238.5 139.49 L239.5 139.67 L240.5 139.85 L241.5 140.02 L242.5 140.2 L243.5 140.37 L244.5 140.55 L245.5 140.72 L246.5 140.89 L247.5 141.07 L248.5 141.24 L249.5 141.41 L250.5 141.58 L251.5 141.74 L252.5 141.91 L253.5 142.08 L254.5 142.24 L255.5 142.41 L256.5 142.57 L257.5 142.74 L258.5 142.9 L259.5 143.06 L260.5 143.23 L261.5 143.39 L262.5 143.55 L263.5 143.71 L264.5 143.86 L265.5 144.02 L266.5 144.18 L267.5 144.33 L268.5 144.49 L269.5 144.65 L270.5 144.8 L271.5 144.95 L272.5 145.11 L273.5 145.26 L274.5 145.41 L275.5 145.56 L276.5 145.71 L277.5 145.86 L278.5 146.01 L279.5 146.16 L280.5 146.3 L281.5 146.45 L282.5 146.6 L283.5 146.74 L284.5 146.89 L285.5 147.03 L286.5 147.17 L287.5 147.32 L288.5 147.46 L289.5 147.6 L290.5 147.74 L291.5 147.88 L292.5 148.02 L293.5 148.16 L294.5 148.3 L295.5 148.43 L296.5 148.57 L297.5 148.71 L298.5 148.84 L299.5 148.98 L300.5 149.11 L301.5 149.25 L302.5 149.38 L303.5 149.51 L304.5 149.65 L305.5 149.78 L306.5 149.91 L307.5 150.04 L308.5 150.17 L309.5 150.3 L310.5 150.43 L311.5 150.55 L312.5 150.68 L313.5 150.81 L314.5 150.94 L315.5 151.06 L316.5 151.19 L317.5 151.31 L318.5 151.44 L319.5 151.56 L320.5 151.68 L321.5 151.81 L322.5 151.93 L323.5 152.05 L324.5 152.17 L325.5 152.29 L326.5 152.41 L327.5 152.53 L328.5 152.65 L329.5 152.77 L330.5 152.88 L331.5 153 L332.5 153.12" fill="none" stroke="#87cefa" stroke-width="2.2" stroke-dasharray="1.9 2.15" clip-path="url(#Amain)"/>
<path d="M37.5 107.42 L38.5 107.79 L39.5 108.15 L40.5 108.51 L41.5 108.88 L42.5 109.24 L43.5 109.6 L44.5 109.96 L45.5 110.31 L46.5 110.67 L47.5 111.02 L48.5 111.37 L49.5 111.72 L50.5 112.07 L51.5 112.42 L52.5 112.76 L53.5 113.11 L54.5 113.45 L55.5 113.79 L56.5 114.12 L57.5 114.46 L58.5 114.79 L59.5 115.12 L60.5 115.45 L61.5 115.78 L62.5 116.1 L63.5 116.43 L64.5 116.75 L65.5 117.06 L66.5 117.38 L67.5 117.7 L68.5 118.01 L69.5 118.32 L70.5 118.63 L71.5 118.93 L72.5 119.24 L73.5 119.54 L74.5 119.84 L75.5 120.14 L76.5 120.43 L77.5 120.73 L78.5 121.02 L79.5 121.31 L80.5 121.6 L81.5 121.88 L82.5 122.17 L83.5 122.45 L84.5 122.73 L85.5 123.01 L86.5 123.28 L87.5 123.56 L88.5 123.83 L89.5 124.1 L90.5 124.37 L91.5 124.64 L92.5 124.9 L93.5 125.17 L94.5 125.43 L95.5 125.69 L96.5 125.95 L97.5 126.2 L98.5 126.46 L99.5 126.71 L100.5 126.96 L101.5 127.21 L102.5 127.46 L103.5 127.71 L104.5 127.95 L105.5 128.2 L106.5 128.44 L107.5 128.68 L108.5 128.92 L109.5 129.15 L110.5 129.39 L111.5 129.62 L112.5 129.86 L113.5 130.09 L114.5 130.32 L115.5 130.54 L116.5 130.77 L117.5 131 L118.5 131.22 L119.5 131.44 L120.5 131.66 L121.5 131.88 L122.5 132.1 L123.5 132.32 L124.5 132.53 L125.5 132.74 L126.5 132.96 L127.5 133.17 L128.5 133.38 L129.5 133.59 L130.5 133.79 L131.5 134 L132.5 134.2 L133.5 134.41 L134.5 134.61 L135.5 134.81 L136.5 135.01 L137.5 135.21 L138.5 135.4 L139.5 135.6 L140.5 135.79 L141.5 135.99 L142.5 136.18 L143.5 136.37 L144.5 136.56 L145.5 136.75 L146.5 136.94 L147.5 137.12 L148.5 137.31 L149.5 137.49 L150.5 137.68 L151.5 137.86 L152.5 138.04 L153.5 138.22 L154.5 138.4 L155.5 138.58 L156.5 138.75 L157.5 138.93 L158.5 139.1 L159.5 139.28 L160.5 139.45 L161.5 139.62 L162.5 139.79 L163.5 139.96 L164.5 140.13 L165.5 140.3 L166.5 140.47 L167.5 140.63 L168.5 140.8 L169.5 140.96 L170.5 141.13 L171.5 141.29 L172.5 141.45 L173.5 141.61 L174.5 141.77 L175.5 141.93 L176.5 142.08 L177.5 142.24 L178.5 142.4 L179.5 142.55 L180.5 142.71 L181.5 142.86 L182.5 143.01 L183.5 143.16 L184.5 143.32 L185.5 143.47 L186.5 143.61 L187.5 143.76 L188.5 143.91 L189.5 144.06 L190.5 144.2 L191.5 144.35 L192.5 144.49 L193.5 144.64 L194.5 144.78 L195.5 144.92 L196.5 145.06 L197.5 145.2 L198.5 145.34 L199.5 145.48 L200.5 145.62 L201.5 145.76 L202.5 145.89 L203.5 146.03 L204.5 146.17 L205.5 146.3 L206.5 146.44 L207.5 146.57 L208.5 146.7 L209.5 146.83 L210.5 146.96 L211.5 147.09 L212.5 147.22 L213.5 147.35 L214.5 147.48 L215.5 147.61 L216.5 147.74 L217.5 147.86 L218.5 147.99 L219.5 148.12 L220.5 148.24 L221.5 148.36 L222.5 148.49 L223.5 148.61 L224.5 148.73 L225.5 148.85 L226.5 148.97 L227.5 149.09 L228.5 149.21 L229.5 149.33 L230.5 149.45 L231.5 149.57 L232.5 149.69 L233.5 149.8 L234.5 149.92 L235.5 150.04 L236.5 150.15 L237.5 150.26 L238.5 150.38 L239.5 150.49 L240.5 150.6 L241.5 150.72 L242.5 150.83 L243.5 150.94 L244.5 151.05 L245.5 151.16 L246.5 151.27 L247.5 151.38 L248.5 151.49 L249.5 151.59 L250.5 151.7 L251.5 151.81 L252.5 151.91 L253.5 152.02 L254.5 152.13 L255.5 152.23 L256.5 152.34 L257.5 152.44 L258.5 152.54 L259.5 152.64 L260.5 152.75 L261.5 152.85 L262.5 152.95 L263.5 153.05 L264.5 153.15 L265.5 153.25 L266.5 153.35 L267.5 153.45 L268.5 153.55 L269.5 153.65 L270.5 153.74 L271.5 153.84 L272.5 153.94 L273.5 154.03 L274.5 154.13 L275.5 154.22 L276.5 154.32 L277.5 154.41 L278.5 154.51 L279.5 154.6 L280.5 154.69 L281.5 154.79 L282.5 154.88 L283.5 154.97 L284.5 155.06 L285.5 155.15 L286.5 155.24 L287.5 155.33 L288.5 155.42 L289.5 155.51 L290.5 155.6 L291.5 155.69 L292.5 155.78 L293.5 155.87 L294.5 155.95 L295.5 156.04 L296.5 156.13 L297.5 156.21 L298.5 156.3 L299.5 156.38 L300.5 156.47 L301.5 156.55 L302.5 156.64 L303.5 156.72 L304.5 156.81 L305.5 156.89 L306.5 156.97 L307.5 157.05 L308.5 157.14 L309.5 157.22 L310.5 157.3 L311.5 157.38 L312.5 157.46 L313.5 157.54 L314.5 157.62 L315.5 157.7 L316.5 157.78 L317.5 157.86 L318.5 157.94 L319.5 158.01 L320.5 158.09 L321.5 158.17 L322.5 158.25 L323.5 158.32 L324.5 158.4 L325.5 158.47 L326.5 158.55 L327.5 158.63 L328.5 158.7 L329.5 158.77 L330.5 158.85 L331.5 158.92 L332.5 159" fill="none" stroke="#87cefa" stroke-width="2.2" clip-path="url(#Amain)"/>
<path d="M37.5 117.47 L38.5 117.84 L39.5 118.22 L40.5 118.59 L41.5 118.95 L42.5 119.32 L43.5 119.68 L44.5 120.05 L45.5 120.41 L46.5 120.76 L47.5 121.12 L48.5 121.47 L49.5 121.82 L50.5 122.17 L51.5 122.51 L52.5 122.85 L53.5 123.19 L54.5 123.53 L55.5 123.86 L56.5 124.2 L57.5 124.53 L58.5 124.85 L59.5 125.18 L60.5 125.5 L61.5 125.82 L62.5 126.13 L63.5 126.45 L64.5 126.76 L65.5 127.07 L66.5 127.38 L67.5 127.68 L68.5 127.98 L69.5 128.28 L70.5 128.58 L71.5 128.87 L72.5 129.17 L73.5 129.46 L74.5 129.74 L75.5 130.03 L76.5 130.31 L77.5 130.59 L78.5 130.87 L79.5 131.15 L80.5 131.42 L81.5 131.69 L82.5 131.96 L83.5 132.23 L84.5 132.5 L85.5 132.76 L86.5 133.02 L87.5 133.28 L88.5 133.54 L89.5 133.79 L90.5 134.04 L91.5 134.29 L92.5 134.54 L93.5 134.79 L94.5 135.03 L95.5 135.28 L96.5 135.52 L97.5 135.76 L98.5 136 L99.5 136.23 L100.5 136.46 L101.5 136.7 L102.5 136.93 L103.5 137.15 L104.5 137.38 L105.5 137.61 L106.5 137.83 L107.5 138.05 L108.5 138.27 L109.5 138.49 L110.5 138.7 L111.5 138.92 L112.5 139.13 L113.5 139.34 L114.5 139.55 L115.5 139.76 L116.5 139.97 L117.5 140.17 L118.5 140.38 L119.5 140.58 L120.5 140.78 L121.5 140.98 L122.5 141.17 L123.5 141.37 L124.5 141.56 L125.5 141.76 L126.5 141.95 L127.5 142.14 L128.5 142.33 L129.5 142.52 L130.5 142.7 L131.5 142.89 L132.5 143.07 L133.5 143.25 L134.5 143.43 L135.5 143.61 L136.5 143.79 L137.5 143.97 L138.5 144.14 L139.5 144.32 L140.5 144.49 L141.5 144.66 L142.5 144.83 L143.5 145 L144.5 145.17 L145.5 145.34 L146.5 145.5 L147.5 145.67 L148.5 145.83 L149.5 146 L150.5 146.16 L151.5 146.32 L152.5 146.48 L153.5 146.63 L154.5 146.79 L155.5 146.95 L156.5 147.1 L157.5 147.25 L158.5 147.41 L159.5 147.56 L160.5 147.71 L161.5 147.86 L162.5 148.01 L163.5 148.15 L164.5 148.3 L165.5 148.45 L166.5 148.59 L167.5 148.73 L168.5 148.88 L169.5 149.02 L170.5 149.16 L171.5 149.3 L172.5 149.44 L173.5 149.58 L174.5 149.71 L175.5 149.85 L176.5 149.98 L177.5 150.12 L178.5 150.25 L179.5 150.38 L180.5 150.52 L181.5 150.65 L182.5 150.78 L183.5 150.9 L184.5 151.03 L185.5 151.16 L186.5 151.29 L187.5 151.41 L188.5 151.54 L189.5 151.66 L190.5 151.78 L191.5 151.91 L192.5 152.03 L193.5 152.15 L194.5 152.27 L195.5 152.39 L196.5 152.51 L197.5 152.62 L198.5 152.74 L199.5 152.86 L200.5 152.97 L201.5 153.09 L202.5 153.2 L203.5 153.32 L204.5 153.43 L205.5 153.54 L206.5 153.65 L207.5 153.76 L208.5 153.87 L209.5 153.98 L210.5 154.09 L211.5 154.2 L212.5 154.3 L213.5 154.41 L214.5 154.52 L215.5 154.62 L216.5 154.72 L217.5 154.83 L218.5 154.93 L219.5 155.03 L220.5 155.14 L221.5 155.24 L222.5 155.34 L223.5 155.44 L224.5 155.54 L225.5 155.64 L226.5 155.73 L227.5 155.83 L228.5 155.93 L229.5 156.02 L230.5 156.12 L231.5 156.21 L232.5 156.31 L233.5 156.4 L234.5 156.5 L235.5 156.59 L236.5 156.68 L237.5 156.77 L238.5 156.86 L239.5 156.95 L240.5 157.04 L241.5 157.13 L242.5 157.22 L243.5 157.31 L244.5 157.4 L245.5 157.49 L246.5 157.57 L247.5 157.66 L248.5 157.75 L249.5 157.83 L250.5 157.91 L251.5 158 L252.5 158.08 L253.5 158.17 L254.5 158.25 L255.5 158.33 L256.5 158.41 L257.5 158.49 L258.5 158.57 L259.5 158.65 L260.5 158.73 L261.5 158.81 L262.5 158.89 L263.5 158.97 L264.5 159.05 L265.5 159.13 L266.5 159.2 L267.5 159.28 L268.5 159.35 L269.5 159.43 L270.5 159.51 L271.5 159.58 L272.5 159.65 L273.5 159.73 L274.5 159.8 L275.5 159.87 L276.5 159.95 L277.5 160.02 L278.5 160.09 L279.5 160.16 L280.5 160.23 L281.5 160.3 L282.5 160.37 L283.5 160.44 L284.5 160.51 L285.5 160.58 L286.5 160.65 L287.5 160.72 L288.5 160.78 L289.5 160.85 L290.5 160.92 L291.5 160.98 L292.5 161.05 L293.5 161.11 L294.5 161.18 L295.5 161.24 L296.5 161.31 L297.5 161.37 L298.5 161.44 L299.5 161.5 L300.5 161.56 L301.5 161.62 L302.5 161.69 L303.5 161.75 L304.5 161.81 L305.5 161.87 L306.5 161.93 L307.5 161.99 L308.5 162.05 L309.5 162.11 L310.5 162.17 L311.5 162.23 L312.5 162.29 L313.5 162.34 L314.5 162.4 L315.5 162.46 L316.5 162.52 L317.5 162.57 L318.5 162.63 L319.5 162.69 L320.5 162.74 L321.5 162.8 L322.5 162.85 L323.5 162.91 L324.5 162.96 L325.5 163.02 L326.5 163.07 L327.5 163.12 L328.5 163.18 L329.5 163.23 L330.5 163.28 L331.5 163.33 L332.5 163.39" fill="none" stroke="#ff8c00" stroke-width="2.2" clip-path="url(#Amain)"/>
<path d="M37.5 139.16 L38.5 139.4 L39.5 139.63 L40.5 139.87 L41.5 140.11 L42.5 140.34 L43.5 140.57 L44.5 140.81 L45.5 141.04 L46.5 141.27 L47.5 141.49 L48.5 141.72 L49.5 141.95 L50.5 142.17 L51.5 142.39 L52.5 142.62 L53.5 142.84 L54.5 143.06 L55.5 143.27 L56.5 143.49 L57.5 143.7 L58.5 143.92 L59.5 144.13 L60.5 144.34 L61.5 144.54 L62.5 144.75 L63.5 144.96 L64.5 145.16 L65.5 145.36 L66.5 145.56 L67.5 145.76 L68.5 145.96 L69.5 146.16 L70.5 146.35 L71.5 146.54 L72.5 146.74 L73.5 146.93 L74.5 147.11 L75.5 147.3 L76.5 147.49 L77.5 147.67 L78.5 147.85 L79.5 148.04 L80.5 148.22 L81.5 148.39 L82.5 148.57 L83.5 148.75 L84.5 148.92 L85.5 149.1 L86.5 149.27 L87.5 149.44 L88.5 149.61 L89.5 149.77 L90.5 149.94 L91.5 150.11 L92.5 150.27 L93.5 150.43 L94.5 150.59 L95.5 150.75 L96.5 150.91 L97.5 151.07 L98.5 151.23 L99.5 151.38 L100.5 151.54 L101.5 151.69 L102.5 151.84 L103.5 151.99 L104.5 152.14 L105.5 152.29 L106.5 152.43 L107.5 152.58 L108.5 152.72 L109.5 152.87 L110.5 153.01 L111.5 153.15 L112.5 153.29 L113.5 153.43 L114.5 153.57 L115.5 153.71 L116.5 153.84 L117.5 153.98 L118.5 154.11 L119.5 154.24 L120.5 154.38 L121.5 154.51 L122.5 154.64 L123.5 154.77 L124.5 154.89 L125.5 155.02 L126.5 155.15 L127.5 155.27 L128.5 155.4 L129.5 155.52 L130.5 155.64 L131.5 155.76 L132.5 155.88 L133.5 156 L134.5 156.12 L135.5 156.24 L136.5 156.36 L137.5 156.47 L138.5 156.59 L139.5 156.7 L140.5 156.82 L141.5 156.93 L142.5 157.04 L143.5 157.15 L144.5 157.26 L145.5 157.37 L146.5 157.48 L147.5 157.59 L148.5 157.7 L149.5 157.8 L150.5 157.91 L151.5 158.01 L152.5 158.12 L153.5 158.22 L154.5 158.32 L155.5 158.43 L156.5 158.53 L157.5 158.63 L158.5 158.73 L159.5 158.83 L160.5 158.93 L161.5 159.02 L162.5 159.12 L163.5 159.22 L164.5 159.31 L165.5 159.41 L166.5 159.5 L167.5 159.6 L168.5 159.69 L169.5 159.78 L170.5 159.87 L171.5 159.96 L172.5 160.05 L173.5 160.14 L174.5 160.23 L175.5 160.32 L176.5 160.41 L177.5 160.5 L178.5 160.58 L179.5 160.67 L180.5 160.76 L181.5 160.84 L182.5 160.93 L183.5 161.01 L184.5 161.09 L185.5 161.18 L186.5 161.26 L187.5 161.34 L188.5 161.42 L189.5 161.5 L190.5 161.58 L191.5 161.66 L192.5 161.74 L193.5 161.82 L194.5 161.9 L195.5 161.97 L196.5 162.05 L197.5 162.13 L198.5 162.2 L199.5 162.28 L200.5 162.35 L201.5 162.43 L202.5 162.5 L203.5 162.57 L204.5 162.65 L205.5 162.72 L206.5 162.79 L207.5 162.86 L208.5 162.93 L209.5 163 L210.5 163.07 L211.5 163.14 L212.5 163.21 L213.5 163.28 L214.5 163.35 L215.5 163.41 L216.5 163.48 L217.5 163.55 L218.5 163.61 L219.5 163.68 L220.5 163.75 L221.5 163.81 L222.5 163.88 L223.5 163.94 L224.5 164 L225.5 164.07 L226.5 164.13 L227.5 164.19 L228.5 164.25 L229.5 164.32 L230.5 164.38 L231.5 164.44 L232.5 164.5 L233.5 164.56 L234.5 164.62 L235.5 164.68 L236.5 164.74 L237.5 164.79 L238.5 164.85 L239.5 164.91 L240.5 164.97 L241.5 165.02 L242.5 165.08 L243.5 165.14 L244.5 165.19 L245.5 165.25 L246.5 165.3 L247.5 165.36 L248.5 165.41 L249.5 165.47 L250.5 165.52 L251.5 165.57 L252.5 165.63 L253.5 165.68 L254.5 165.73 L255.5 165.78 L256.5 165.84 L257.5 165.89 L258.5 165.94 L259.5 165.99 L260.5 166.04 L261.5 166.09 L262.5 166.14 L263.5 166.19 L264.5 166.24 L265.5 166.29 L266.5 166.33 L267.5 166.38 L268.5 166.43 L269.5 166.48 L270.5 166.52 L271.5 166.57 L272.5 166.62 L273.5 166.66 L274.5 166.71 L275.5 166.76 L276.5 166.8 L277.5 166.85 L278.5 166.89 L279.5 166.94 L280.5 166.98 L281.5 167.02 L282.5 167.07 L283.5 167.11 L284.5 167.15 L285.5 167.2 L286.5 167.24 L287.5 167.28 L288.5 167.32 L289.5 167.36 L290.5 167.41 L291.5 167.45 L292.5 167.49 L293.5 167.53 L294.5 167.57 L295.5 167.61 L296.5 167.65 L297.5 167.69 L298.5 167.73 L299.5 167.77 L300.5 167.81 L301.5 167.84 L302.5 167.88 L303.5 167.92 L304.5 167.96 L305.5 168 L306.5 168.03 L307.5 168.07 L308.5 168.11 L309.5 168.14 L310.5 168.18 L311.5 168.22 L312.5 168.25 L313.5 168.29 L314.5 168.32 L315.5 168.36 L316.5 168.39 L317.5 168.43 L318.5 168.46 L319.5 168.5 L320.5 168.53 L321.5 168.56 L322.5 168.6 L323.5 168.63 L324.5 168.66 L325.5 168.7 L326.5 168.73 L327.5 168.76 L328.5 168.79 L329.5 168.83 L330.5 168.86 L331.5 168.89 L332.5 168.92" fill="none" stroke="#ff8c00" stroke-width="2.2" stroke-dasharray="1.9 2.15" clip-path="url(#Amain)"/>
<line x1="37.5" y1="249.7" x2="332.5" y2="249.7" stroke="#ff8c00" stroke-width="2.0"/>
<path d="M37.5 190.5 L38.5 190.64 L39.5 190.77 L40.5 190.91 L41.5 191.04 L42.5 191.18 L43.5 191.32 L44.5 191.45 L45.5 191.59 L46.5 191.73 L47.5 191.86 L48.5 192 L49.5 192.14 L50.5 192.27 L51.5 192.41 L52.5 192.55 L53.5 192.68 L54.5 192.82 L55.5 192.96 L56.5 193.1 L57.5 193.24 L58.5 193.37 L59.5 193.51 L60.5 193.65 L61.5 193.79 L62.5 193.93 L63.5 194.06 L64.5 194.2 L65.5 194.34 L66.5 194.48 L67.5 194.62 L68.5 194.76 L69.5 194.9 L70.5 195.04 L71.5 195.18 L72.5 195.32 L73.5 195.46 L74.5 195.6 L75.5 195.74 L76.5 195.88 L77.5 196.02 L78.5 196.16 L79.5 196.3 L80.5 196.44 L81.5 196.58 L82.5 196.72 L83.5 196.86 L84.5 197 L85.5 197.14 L86.5 197.28 L87.5 197.42 L88.5 197.57 L89.5 197.71 L90.5 197.85 L91.5 197.99 L92.5 198.13 L93.5 198.27 L94.5 198.42 L95.5 198.56 L96.5 198.7 L97.5 198.84 L98.5 198.99 L99.5 199.13 L100.5 199.27 L101.5 199.42 L102.5 199.56 L103.5 199.71 L104.5 199.85 L105.5 200 L106.5 200.14 L107.5 200.29 L108.5 200.43 L109.5 200.58 L110.5 200.73 L111.5 200.87 L112.5 201.02 L113.5 201.17 L114.5 201.31 L115.5 201.46 L116.5 201.61 L117.5 201.76 L118.5 201.9 L119.5 202.05 L120.5 202.2 L121.5 202.35 L122.5 202.5 L123.5 202.64 L124.5 202.79 L125.5 202.94 L126.5 203.09 L127.5 203.24 L128.5 203.38 L129.5 203.53 L130.5 203.68 L131.5 203.83 L132.5 203.97 L133.5 204.12 L134.5 204.27 L135.5 204.42 L136.5 204.56 L137.5 204.71 L138.5 204.86 L139.5 205 L140.5 205.15 L141.5 205.29 L142.5 205.44 L143.5 205.58 L144.5 205.73 L145.5 205.87 L146.5 206.02 L147.5 206.16 L148.5 206.31 L149.5 206.45 L150.5 206.59 L151.5 206.73 L152.5 206.88 L153.5 207.02 L154.5 207.16 L155.5 207.3 L156.5 207.44 L157.5 207.58 L158.5 207.72 L159.5 207.86 L160.5 207.99 L161.5 208.13 L162.5 208.27 L163.5 208.4 L164.5 208.54 L165.5 208.68 L166.5 208.81 L167.5 208.95 L168.5 209.08 L169.5 209.22 L170.5 209.35 L171.5 209.49 L172.5 209.62 L173.5 209.75 L174.5 209.89 L175.5 210.02 L176.5 210.16 L177.5 210.29 L178.5 210.43 L179.5 210.56 L180.5 210.7 L181.5 210.83 L182.5 210.97 L183.5 211.1 L184.5 211.24 L185.5 211.38 L186.5 211.51 L187.5 211.65 L188.5 211.79 L189.5 211.93 L190.5 212.07 L191.5 212.21 L192.5 212.35 L193.5 212.49 L194.5 212.64 L195.5 212.78 L196.5 212.92 L197.5 213.07 L198.5 213.21 L199.5 213.36 L200.5 213.5 L201.5 213.65 L202.5 213.79 L203.5 213.94 L204.5 214.08 L205.5 214.23 L206.5 214.37 L207.5 214.52 L208.5 214.66 L209.5 214.8 L210.5 214.94 L211.5 215.08 L212.5 215.22 L213.5 215.36 L214.5 215.5 L215.5 215.64 L216.5 215.77 L217.5 215.91 L218.5 216.05 L219.5 216.18 L220.5 216.32 L221.5 216.46 L222.5 216.59 L223.5 216.73 L224.5 216.87 L225.5 217 L226.5 217.14 L227.5 217.27 L228.5 217.41 L229.5 217.54 L230.5 217.68 L231.5 217.81 L232.5 217.95 L233.5 218.08 L234.5 218.21 L235.5 218.35 L236.5 218.48 L237.5 218.61 L238.5 218.75 L239.5 218.88 L240.5 219.01 L241.5 219.14 L242.5 219.27 L243.5 219.41 L244.5 219.54 L245.5 219.67 L246.5 219.8 L247.5 219.93 L248.5 220.06 L249.5 220.19 L250.5 220.32 L251.5 220.45 L252.5 220.58 L253.5 220.71 L254.5 220.83 L255.5 220.96 L256.5 221.09 L257.5 221.22 L258.5 221.34 L259.5 221.47 L260.5 221.6 L261.5 221.72 L262.5 221.85 L263.5 221.97 L264.5 222.1 L265.5 222.22 L266.5 222.34 L267.5 222.47 L268.5 222.59 L269.5 222.71 L270.5 222.84 L271.5 222.96 L272.5 223.08 L273.5 223.2 L274.5 223.32 L275.5 223.44 L276.5 223.56 L277.5 223.68 L278.5 223.8 L279.5 223.92 L280.5 224.04 L281.5 224.16 L282.5 224.28 L283.5 224.39 L284.5 224.51 L285.5 224.63 L286.5 224.75 L287.5 224.86 L288.5 224.98 L289.5 225.1 L290.5 225.21 L291.5 225.33 L292.5 225.44 L293.5 225.56 L294.5 225.67 L295.5 225.79 L296.5 225.9 L297.5 226.02 L298.5 226.13 L299.5 226.25 L300.5 226.36 L301.5 226.47 L302.5 226.58 L303.5 226.7 L304.5 226.81 L305.5 226.92 L306.5 227.03 L307.5 227.14 L308.5 227.25 L309.5 227.36 L310.5 227.47 L311.5 227.58 L312.5 227.69 L313.5 227.8 L314.5 227.91 L315.5 228.02 L316.5 228.13 L317.5 228.24 L318.5 228.35 L319.5 228.45 L320.5 228.56 L321.5 228.67 L322.5 228.77 L323.5 228.88 L324.5 228.99 L325.5 229.09 L326.5 229.2 L327.5 229.3 L328.5 229.41 L329.5 229.51 L330.5 229.61 L331.5 229.72 L332.5 229.82" fill="none" stroke="#87cefa" stroke-width="2.2" clip-path="url(#Ab)"/>
<path d="M37.5 260.8 L38.5 260.33 L39.5 259.88 L40.5 259.46 L41.5 259.05 L42.5 258.67 L43.5 258.33 L44.5 258.01 L45.5 257.72 L46.5 257.47 L47.5 257.26 L48.5 257.09 L49.5 256.96 L50.5 256.87 L51.5 256.78 L52.5 256.71 L53.5 256.65 L54.5 256.6 L55.5 256.57 L56.5 256.56 L57.5 256.58 L58.5 256.62 L59.5 256.69 L60.5 256.78 L61.5 256.9 L62.5 257.03 L63.5 257.18 L64.5 257.34 L65.5 257.5 L66.5 257.67 L67.5 257.84 L68.5 258.01 L69.5 258.16 L70.5 258.31 L71.5 258.47 L72.5 258.63 L73.5 258.8 L74.5 258.97 L75.5 259.15 L76.5 259.32 L77.5 259.48 L78.5 259.64 L79.5 259.78 L80.5 259.91 L81.5 260.02 L82.5 260.12 L83.5 260.21 L84.5 260.3 L85.5 260.38 L86.5 260.46 L87.5 260.53 L88.5 260.59 L89.5 260.64 L90.5 260.67 L91.5 260.64 L92.5 260.57 L93.5 260.47 L94.5 260.38 L95.5 260.32 L96.5 260.3 L97.5 260.29 L98.5 260.28 L99.5 260.28 L100.5 260.27 L101.5 260.27 L102.5 260.27 L103.5 260.27 L104.5 260.28 L105.5 260.29 L106.5 260.3 L107.5 260.33 L108.5 260.38 L109.5 260.46 L110.5 260.54 L111.5 260.65 L112.5 260.76 L113.5 260.88 L114.5 261.01 L115.5 261.14 L116.5 261.28 L117.5 261.41 L118.5 261.54 L119.5 261.66 L120.5 261.78 L121.5 261.91 L122.5 262.04 L123.5 262.18 L124.5 262.33 L125.5 262.48 L126.5 262.63 L127.5 262.79 L128.5 262.94 L129.5 263.09 L130.5 263.23 L131.5 263.37 L132.5 263.5 L133.5 263.62 L134.5 263.73 L135.5 263.83 L136.5 263.91 L137.5 263.99 L138.5 264.06 L139.5 264.13 L140.5 264.2 L141.5 264.26 L142.5 264.31 L143.5 264.37 L144.5 264.42 L145.5 264.47 L146.5 264.53 L147.5 264.58 L148.5 264.63 L149.5 264.68 L150.5 264.74 L151.5 264.8 L152.5 264.86 L153.5 264.92 L154.5 264.99 L155.5 265.06 L156.5 265.13 L157.5 265.21 L158.5 265.29 L159.5 265.37 L160.5 265.45 L161.5 265.53 L162.5 265.6 L163.5 265.69 L164.5 265.77 L165.5 265.85 L166.5 265.94 L167.5 266.02 L168.5 266.11 L169.5 266.2 L170.5 266.3 L171.5 266.39 L172.5 266.48 L173.5 266.58 L174.5 266.68 L175.5 266.78 L176.5 266.88 L177.5 266.98 L178.5 267.08 L179.5 267.18 L180.5 267.29 L181.5 267.39 L182.5 267.5 L183.5 267.61 L184.5 267.72 L185.5 267.83 L186.5 267.94 L187.5 268.05 L188.5 268.16 L189.5 268.27 L190.5 268.38 L191.5 268.5 L192.5 268.61 L193.5 268.72 L194.5 268.84 L195.5 268.95 L196.5 269.07 L197.5 269.19 L198.5 269.3 L199.5 269.42 L200.5 269.54 L201.5 269.65 L202.5 269.77 L203.5 269.89 L204.5 270 L205.5 270.12 L206.5 270.24 L207.5 270.35 L208.5 270.47 L209.5 270.59 L210.5 270.7 L211.5 270.82 L212.5 270.93 L213.5 271.05 L214.5 271.16 L215.5 271.28 L216.5 271.39 L217.5 271.51 L218.5 271.62 L219.5 271.74 L220.5 271.86 L221.5 271.98 L222.5 272.1 L223.5 272.22 L224.5 272.35 L225.5 272.48 L226.5 272.61 L227.5 272.74 L228.5 272.87 L229.5 273.01 L230.5 273.15 L231.5 273.3 L232.5 273.44 L233.5 273.59 L234.5 273.75 L235.5 273.9 L236.5 274.06 L237.5 274.22 L238.5 274.39 L239.5 274.55 L240.5 274.72 L241.5 274.89 L242.5 275.07 L243.5 275.24 L244.5 275.41 L245.5 275.59 L246.5 275.77 L247.5 275.95 L248.5 276.13 L249.5 276.31 L250.5 276.5 L251.5 276.68 L252.5 276.86 L253.5 277.05 L254.5 277.23 L255.5 277.42 L256.5 277.6 L257.5 277.79 L258.5 277.97 L259.5 278.16 L260.5 278.34 L261.5 278.53 L262.5 278.71 L263.5 278.89 L264.5 279.07 L265.5 279.25 L266.5 279.43 L267.5 279.61 L268.5 279.78 L269.5 279.96 L270.5 280.13 L271.5 280.3 L272.5 280.47 L273.5 280.63 L274.5 280.8 L275.5 280.96 L276.5 281.12 L277.5 281.29 L278.5 281.45 L279.5 281.62 L280.5 281.78 L281.5 281.94 L282.5 282.1 L283.5 282.27 L284.5 282.43 L285.5 282.59 L286.5 282.75 L287.5 282.91 L288.5 283.07 L289.5 283.23 L290.5 283.39 L291.5 283.55 L292.5 283.71 L293.5 283.87 L294.5 284.03 L295.5 284.19 L296.5 284.35 L297.5 284.51 L298.5 284.66 L299.5 284.82 L300.5 284.98 L301.5 285.14 L302.5 285.29 L303.5 285.45 L304.5 285.6 L305.5 285.76 L306.5 285.92 L307.5 286.07 L308.5 286.22 L309.5 286.38 L310.5 286.53 L311.5 286.69 L312.5 286.84 L313.5 286.99 L314.5 287.15 L315.5 287.3 L316.5 287.45 L317.5 287.6 L318.5 287.75 L319.5 287.9 L320.5 288.05 L321.5 288.2 L322.5 288.35 L323.5 288.5 L324.5 288.65 L325.5 288.8 L326.5 288.95 L327.5 289.1 L328.5 289.24 L329.5 289.39 L330.5 289.54 L331.5 289.68 L332.5 289.83 L332.5 291.43 L331.5 291.29 L330.5 291.14 L329.5 291 L328.5 290.85 L327.5 290.71 L326.5 290.56 L325.5 290.42 L324.5 290.27 L323.5 290.12 L322.5 289.98 L321.5 289.83 L320.5 289.68 L319.5 289.53 L318.5 289.38 L317.5 289.24 L316.5 289.09 L315.5 288.94 L314.5 288.79 L313.5 288.64 L312.5 288.49 L311.5 288.34 L310.5 288.18 L309.5 288.03 L308.5 287.88 L307.5 287.73 L306.5 287.58 L305.5 287.42 L304.5 287.27 L303.5 287.12 L302.5 286.96 L301.5 286.81 L300.5 286.65 L299.5 286.5 L298.5 286.34 L297.5 286.19 L296.5 286.03 L295.5 285.88 L294.5 285.72 L293.5 285.56 L292.5 285.41 L291.5 285.25 L290.5 285.09 L289.5 284.93 L288.5 284.77 L287.5 284.62 L286.5 284.46 L285.5 284.3 L284.5 284.14 L283.5 283.98 L282.5 283.82 L281.5 283.66 L280.5 283.5 L279.5 283.34 L278.5 283.18 L277.5 283.02 L276.5 282.85 L275.5 282.69 L274.5 282.53 L273.5 282.37 L272.5 282.2 L271.5 282.04 L270.5 281.87 L269.5 281.7 L268.5 281.53 L267.5 281.36 L266.5 281.18 L265.5 281.01 L264.5 280.83 L263.5 280.65 L262.5 280.47 L261.5 280.29 L260.5 280.11 L259.5 279.93 L258.5 279.75 L257.5 279.56 L256.5 279.38 L255.5 279.2 L254.5 279.01 L253.5 278.83 L252.5 278.65 L251.5 278.47 L250.5 278.29 L249.5 278.11 L248.5 277.93 L247.5 277.75 L246.5 277.57 L245.5 277.39 L244.5 277.22 L243.5 277.05 L242.5 276.87 L241.5 276.7 L240.5 276.54 L239.5 276.37 L238.5 276.21 L237.5 276.04 L236.5 275.88 L235.5 275.73 L234.5 275.57 L233.5 275.42 L232.5 275.28 L231.5 275.13 L230.5 274.99 L229.5 274.85 L228.5 274.71 L227.5 274.58 L226.5 274.45 L225.5 274.33 L224.5 274.2 L223.5 274.08 L222.5 273.96 L221.5 273.84 L220.5 273.72 L219.5 273.6 L218.5 273.49 L217.5 273.37 L216.5 273.26 L215.5 273.15 L214.5 273.04 L213.5 272.92 L212.5 272.81 L211.5 272.7 L210.5 272.59 L209.5 272.47 L208.5 272.36 L207.5 272.24 L206.5 272.13 L205.5 272.01 L204.5 271.9 L203.5 271.79 L202.5 271.67 L201.5 271.56 L200.5 271.44 L199.5 271.33 L198.5 271.21 L197.5 271.1 L196.5 270.99 L195.5 270.87 L194.5 270.76 L193.5 270.65 L192.5 270.53 L191.5 270.42 L190.5 270.31 L189.5 270.2 L188.5 270.09 L187.5 269.98 L186.5 269.87 L185.5 269.77 L184.5 269.66 L183.5 269.55 L182.5 269.45 L181.5 269.34 L180.5 269.24 L179.5 269.14 L178.5 269.04 L177.5 268.94 L176.5 268.84 L175.5 268.74 L174.5 268.64 L173.5 268.55 L172.5 268.45 L171.5 268.36 L170.5 268.27 L169.5 268.18 L168.5 268.09 L167.5 268.01 L166.5 267.92 L165.5 267.84 L164.5 267.76 L163.5 267.68 L162.5 267.6 L161.5 267.52 L160.5 267.45 L159.5 267.38 L158.5 267.32 L157.5 267.26 L156.5 267.2 L155.5 267.14 L154.5 267.09 L153.5 267.04 L152.5 267 L151.5 266.96 L150.5 266.92 L149.5 266.88 L148.5 266.85 L147.5 266.81 L146.5 266.78 L145.5 266.75 L144.5 266.72 L143.5 266.68 L142.5 266.64 L141.5 266.61 L140.5 266.56 L139.5 266.52 L138.5 266.47 L137.5 266.42 L136.5 266.36 L135.5 266.29 L134.5 266.21 L133.5 266.12 L132.5 266.02 L131.5 265.91 L130.5 265.79 L129.5 265.66 L128.5 265.53 L127.5 265.4 L126.5 265.27 L125.5 265.13 L124.5 265 L123.5 264.87 L122.5 264.75 L121.5 264.63 L120.5 264.53 L119.5 264.43 L118.5 264.32 L117.5 264.21 L116.5 264.1 L115.5 263.98 L114.5 263.87 L113.5 263.76 L112.5 263.66 L111.5 263.56 L110.5 263.48 L109.5 263.41 L108.5 263.36 L107.5 263.32 L106.5 263.31 L105.5 263.32 L104.5 263.33 L103.5 263.34 L102.5 263.36 L101.5 263.38 L100.5 263.4 L99.5 263.42 L98.5 263.44 L97.5 263.47 L96.5 263.5 L95.5 263.59 L94.5 263.73 L93.5 263.89 L92.5 264.06 L91.5 264.21 L90.5 264.31 L89.5 264.35 L88.5 264.38 L87.5 264.39 L86.5 264.39 L85.5 264.38 L84.5 264.37 L83.5 264.35 L82.5 264.34 L81.5 264.32 L80.5 264.28 L79.5 264.22 L78.5 264.15 L77.5 264.07 L76.5 263.97 L75.5 263.88 L74.5 263.77 L73.5 263.67 L72.5 263.58 L71.5 263.48 L70.5 263.4 L69.5 263.33 L68.5 263.24 L67.5 263.15 L66.5 263.06 L65.5 262.96 L64.5 262.86 L63.5 262.78 L62.5 262.7 L61.5 262.64 L60.5 262.6 L59.5 262.58 L58.5 262.59 L57.5 262.63 L56.5 262.71 L55.5 262.81 L54.5 262.94 L53.5 263.09 L52.5 263.25 L51.5 263.42 L50.5 263.6 L49.5 263.79 L48.5 264.02 L47.5 264.29 L46.5 264.6 L45.5 264.94 L44.5 265.32 L43.5 265.74 L42.5 266.19 L41.5 266.66 L40.5 267.16 L39.5 267.69 L38.5 268.23 L37.5 268.8Z" fill="#87cefa" fill-opacity="0.35" stroke="none" clip-path="url(#Al)"/>
<line x1="37.5" y1="314.5" x2="332.5" y2="314.5" stroke="#ff8c00" stroke-width="2.0" stroke-dasharray="6.2 2.1 1.7 2.1"/>
<path d="M37.5 264.8 L38.5 264.28 L39.5 263.78 L40.5 263.31 L41.5 262.86 L42.5 262.43 L43.5 262.03 L44.5 261.67 L45.5 261.33 L46.5 261.03 L47.5 260.77 L48.5 260.55 L49.5 260.37 L50.5 260.23 L51.5 260.1 L52.5 259.98 L53.5 259.87 L54.5 259.77 L55.5 259.69 L56.5 259.63 L57.5 259.6 L58.5 259.6 L59.5 259.63 L60.5 259.69 L61.5 259.77 L62.5 259.87 L63.5 259.98 L64.5 260.1 L65.5 260.23 L66.5 260.36 L67.5 260.5 L68.5 260.62 L69.5 260.74 L70.5 260.86 L71.5 260.97 L72.5 261.1 L73.5 261.24 L74.5 261.37 L75.5 261.51 L76.5 261.65 L77.5 261.77 L78.5 261.89 L79.5 262 L80.5 262.09 L81.5 262.17 L82.5 262.23 L83.5 262.28 L84.5 262.33 L85.5 262.38 L86.5 262.43 L87.5 262.46 L88.5 262.48 L89.5 262.5 L90.5 262.49 L91.5 262.42 L92.5 262.31 L93.5 262.18 L94.5 262.05 L95.5 261.95 L96.5 261.9 L97.5 261.88 L98.5 261.86 L99.5 261.85 L100.5 261.84 L101.5 261.82 L102.5 261.81 L103.5 261.81 L104.5 261.8 L105.5 261.8 L106.5 261.8 L107.5 261.83 L108.5 261.87 L109.5 261.93 L110.5 262.01 L111.5 262.1 L112.5 262.21 L113.5 262.32 L114.5 262.44 L115.5 262.56 L116.5 262.69 L117.5 262.81 L118.5 262.93 L119.5 263.05 L120.5 263.15 L121.5 263.27 L122.5 263.4 L123.5 263.53 L124.5 263.67 L125.5 263.81 L126.5 263.95 L127.5 264.09 L128.5 264.24 L129.5 264.38 L130.5 264.51 L131.5 264.64 L132.5 264.76 L133.5 264.87 L134.5 264.97 L135.5 265.06 L136.5 265.14 L137.5 265.2 L138.5 265.27 L139.5 265.33 L140.5 265.38 L141.5 265.43 L142.5 265.48 L143.5 265.52 L144.5 265.57 L145.5 265.61 L146.5 265.65 L147.5 265.7 L148.5 265.74 L149.5 265.78 L150.5 265.83 L151.5 265.88 L152.5 265.93 L153.5 265.98 L154.5 266.04 L155.5 266.1 L156.5 266.17 L157.5 266.23 L158.5 266.3 L159.5 266.37 L160.5 266.45 L161.5 266.52 L162.5 266.6 L163.5 266.68 L164.5 266.76 L165.5 266.84 L166.5 266.93 L167.5 267.02 L168.5 267.1 L169.5 267.19 L170.5 267.28 L171.5 267.38 L172.5 267.47 L173.5 267.56 L174.5 267.66 L175.5 267.76 L176.5 267.86 L177.5 267.96 L178.5 268.06 L179.5 268.16 L180.5 268.26 L181.5 268.37 L182.5 268.47 L183.5 268.58 L184.5 268.69 L185.5 268.8 L186.5 268.9 L187.5 269.01 L188.5 269.12 L189.5 269.24 L190.5 269.35 L191.5 269.46 L192.5 269.57 L193.5 269.69 L194.5 269.8 L195.5 269.91 L196.5 270.03 L197.5 270.14 L198.5 270.26 L199.5 270.37 L200.5 270.49 L201.5 270.6 L202.5 270.72 L203.5 270.84 L204.5 270.95 L205.5 271.07 L206.5 271.18 L207.5 271.3 L208.5 271.41 L209.5 271.53 L210.5 271.64 L211.5 271.76 L212.5 271.87 L213.5 271.99 L214.5 272.1 L215.5 272.21 L216.5 272.33 L217.5 272.44 L218.5 272.56 L219.5 272.67 L220.5 272.79 L221.5 272.91 L222.5 273.03 L223.5 273.15 L224.5 273.28 L225.5 273.4 L226.5 273.53 L227.5 273.66 L228.5 273.79 L229.5 273.93 L230.5 274.07 L231.5 274.21 L232.5 274.36 L233.5 274.51 L234.5 274.66 L235.5 274.82 L236.5 274.97 L237.5 275.13 L238.5 275.3 L239.5 275.46 L240.5 275.63 L241.5 275.8 L242.5 275.97 L243.5 276.14 L244.5 276.32 L245.5 276.49 L246.5 276.67 L247.5 276.85 L248.5 277.03 L249.5 277.21 L250.5 277.39 L251.5 277.57 L252.5 277.76 L253.5 277.94 L254.5 278.12 L255.5 278.31 L256.5 278.49 L257.5 278.68 L258.5 278.86 L259.5 279.04 L260.5 279.23 L261.5 279.41 L262.5 279.59 L263.5 279.77 L264.5 279.95 L265.5 280.13 L266.5 280.31 L267.5 280.48 L268.5 280.66 L269.5 280.83 L270.5 281 L271.5 281.17 L272.5 281.34 L273.5 281.5 L274.5 281.66 L275.5 281.83 L276.5 281.99 L277.5 282.15 L278.5 282.31 L279.5 282.48 L280.5 282.64 L281.5 282.8 L282.5 282.96 L283.5 283.12 L284.5 283.28 L285.5 283.44 L286.5 283.6 L287.5 283.76 L288.5 283.92 L289.5 284.08 L290.5 284.24 L291.5 284.4 L292.5 284.56 L293.5 284.72 L294.5 284.88 L295.5 285.03 L296.5 285.19 L297.5 285.35 L298.5 285.5 L299.5 285.66 L300.5 285.82 L301.5 285.97 L302.5 286.13 L303.5 286.28 L304.5 286.44 L305.5 286.59 L306.5 286.75 L307.5 286.9 L308.5 287.05 L309.5 287.21 L310.5 287.36 L311.5 287.51 L312.5 287.66 L313.5 287.81 L314.5 287.97 L315.5 288.12 L316.5 288.27 L317.5 288.42 L318.5 288.57 L319.5 288.72 L320.5 288.87 L321.5 289.02 L322.5 289.16 L323.5 289.31 L324.5 289.46 L325.5 289.61 L326.5 289.75 L327.5 289.9 L328.5 290.05 L329.5 290.19 L330.5 290.34 L331.5 290.48 L332.5 290.63" fill="none" stroke="#87cefa" stroke-width="2.2" stroke-dasharray="6.2 2.1 1.7 2.1" clip-path="url(#Al)"/>
<path d="M37.5 324.1 L38.5 324.68 L39.5 325.28 L40.5 325.9 L41.5 326.54 L42.5 327.19 L43.5 327.86 L44.5 328.54 L45.5 329.22 L46.5 329.91 L47.5 330.61 L48.5 331.32 L49.5 332.02 L50.5 332.73 L51.5 333.44 L52.5 334.15 L53.5 334.85 L54.5 335.56 L55.5 336.26 L56.5 336.95 L57.5 337.65 L58.5 338.33 L59.5 339.01 L60.5 339.69 L61.5 340.36 L62.5 341.02 L63.5 341.68 L64.5 342.33 L65.5 342.97 L66.5 343.6 L67.5 344.23 L68.5 344.84 L69.5 345.45 L70.5 346.04 L71.5 346.62 L72.5 347.18 L73.5 347.74 L74.5 348.29 L75.5 348.82 L76.5 349.36 L77.5 349.88 L78.5 350.4 L79.5 350.9 L80.5 351.4 L81.5 351.89 L82.5 352.38 L83.5 352.85 L84.5 353.32 L85.5 353.78 L86.5 354.23 L87.5 354.68 L88.5 355.12 L89.5 355.55 L90.5 355.97 L91.5 356.39 L92.5 356.8 L93.5 357.2 L94.5 357.6 L95.5 357.99 L96.5 358.37 L97.5 358.75 L98.5 359.12 L99.5 359.48 L100.5 359.84 L101.5 360.19 L102.5 360.54 L103.5 360.88 L104.5 361.22 L105.5 361.54 L106.5 361.87 L107.5 362.19 L108.5 362.5 L109.5 362.81 L110.5 363.11 L111.5 363.41 L112.5 363.7 L113.5 363.99 L114.5 364.28 L115.5 364.56 L116.5 364.83 L117.5 365.1 L118.5 365.37 L119.5 365.63 L120.5 365.88 L121.5 366.12 L122.5 366.36 L123.5 366.59 L124.5 366.82 L125.5 367.04 L126.5 367.26 L127.5 367.48 L128.5 367.69 L129.5 367.9 L130.5 368.11 L131.5 368.31 L132.5 368.51 L133.5 368.71 L134.5 368.9 L135.5 369.09 L136.5 369.28 L137.5 369.46 L138.5 369.64 L139.5 369.82 L140.5 369.99 L141.5 370.17 L142.5 370.34 L143.5 370.5 L144.5 370.67 L145.5 370.83 L146.5 370.99 L147.5 371.14 L148.5 371.3 L149.5 371.45 L150.5 371.6 L151.5 371.74 L152.5 371.89 L153.5 372.03 L154.5 372.17 L155.5 372.31 L156.5 372.44 L157.5 372.58 L158.5 372.71 L159.5 372.84 L160.5 372.97 L161.5 373.09 L162.5 373.22 L163.5 373.34 L164.5 373.46 L165.5 373.58 L166.5 373.69 L167.5 373.81 L168.5 373.92 L169.5 374.03 L170.5 374.14 L171.5 374.25 L172.5 374.35 L173.5 374.46 L174.5 374.56 L175.5 374.66 L176.5 374.76 L177.5 374.86 L178.5 374.96 L179.5 375.06 L180.5 375.15 L181.5 375.24 L182.5 375.34 L183.5 375.43 L184.5 375.52 L185.5 375.6 L186.5 375.69 L187.5 375.77 L188.5 375.86 L189.5 375.94 L190.5 376.02 L191.5 376.1 L192.5 376.18 L193.5 376.26 L194.5 376.34 L195.5 376.42 L196.5 376.49 L197.5 376.57 L198.5 376.64 L199.5 376.71 L200.5 376.78 L201.5 376.85 L202.5 376.92 L203.5 376.99 L204.5 377.06 L205.5 377.12 L206.5 377.19 L207.5 377.25 L208.5 377.32 L209.5 377.38 L210.5 377.44 L211.5 377.5 L212.5 377.56 L213.5 377.62 L214.5 377.68 L215.5 377.74 L216.5 377.8 L217.5 377.85 L218.5 377.91 L219.5 377.96 L220.5 378.02 L221.5 378.07 L222.5 378.12 L223.5 378.18 L224.5 378.23 L225.5 378.28 L226.5 378.33 L227.5 378.38 L228.5 378.43 L229.5 378.47 L230.5 378.52 L231.5 378.57 L232.5 378.61 L233.5 378.66 L234.5 378.71 L235.5 378.75 L236.5 378.79 L237.5 378.84 L238.5 378.88 L239.5 378.92 L240.5 378.97 L241.5 379.01 L242.5 379.05 L243.5 379.09 L244.5 379.13 L245.5 379.17 L246.5 379.21 L247.5 379.24 L248.5 379.28 L249.5 379.32 L250.5 379.36 L251.5 379.39 L252.5 379.43 L253.5 379.46 L254.5 379.5 L255.5 379.53 L256.5 379.57 L257.5 379.6 L258.5 379.64 L259.5 379.67 L260.5 379.7 L261.5 379.73 L262.5 379.77 L263.5 379.8 L264.5 379.83 L265.5 379.86 L266.5 379.89 L267.5 379.92 L268.5 379.95 L269.5 379.98 L270.5 380.01 L271.5 380.04 L272.5 380.07 L273.5 380.09 L274.5 380.12 L275.5 380.15 L276.5 380.18 L277.5 380.2 L278.5 380.23 L279.5 380.25 L280.5 380.28 L281.5 380.31 L282.5 380.33 L283.5 380.36 L284.5 380.38 L285.5 380.41 L286.5 380.43 L287.5 380.45 L288.5 380.48 L289.5 380.5 L290.5 380.52 L291.5 380.55 L292.5 380.57 L293.5 380.59 L294.5 380.61 L295.5 380.63 L296.5 380.66 L297.5 380.68 L298.5 380.7 L299.5 380.72 L300.5 380.74 L301.5 380.76 L302.5 380.78 L303.5 380.8 L304.5 380.82 L305.5 380.84 L306.5 380.86 L307.5 380.88 L308.5 380.9 L309.5 380.91 L310.5 380.93 L311.5 380.95 L312.5 380.97 L313.5 380.99 L314.5 381 L315.5 381.02 L316.5 381.04 L317.5 381.06 L318.5 381.07 L319.5 381.09 L320.5 381.11 L321.5 381.12 L322.5 381.14 L323.5 381.15 L324.5 381.17 L325.5 381.18 L326.5 381.2 L327.5 381.22 L328.5 381.23 L329.5 381.25 L330.5 381.26 L331.5 381.28 L332.5 381.29 L332.5 382.49 L331.5 382.48 L330.5 382.47 L329.5 382.46 L328.5 382.45 L327.5 382.44 L326.5 382.43 L325.5 382.42 L324.5 382.41 L323.5 382.4 L322.5 382.39 L321.5 382.38 L320.5 382.37 L319.5 382.36 L318.5 382.35 L317.5 382.34 L316.5 382.33 L315.5 382.32 L314.5 382.3 L313.5 382.29 L312.5 382.28 L311.5 382.27 L310.5 382.26 L309.5 382.24 L308.5 382.23 L307.5 382.22 L306.5 382.2 L305.5 382.19 L304.5 382.18 L303.5 382.16 L302.5 382.15 L301.5 382.13 L300.5 382.12 L299.5 382.1 L298.5 382.09 L297.5 382.07 L296.5 382.06 L295.5 382.04 L294.5 382.03 L293.5 382.01 L292.5 381.99 L291.5 381.98 L290.5 381.96 L289.5 381.94 L288.5 381.92 L287.5 381.91 L286.5 381.89 L285.5 381.87 L284.5 381.85 L283.5 381.83 L282.5 381.81 L281.5 381.79 L280.5 381.77 L279.5 381.75 L278.5 381.73 L277.5 381.71 L276.5 381.69 L275.5 381.67 L274.5 381.65 L273.5 381.63 L272.5 381.6 L271.5 381.58 L270.5 381.56 L269.5 381.53 L268.5 381.51 L267.5 381.49 L266.5 381.46 L265.5 381.44 L264.5 381.41 L263.5 381.39 L262.5 381.36 L261.5 381.33 L260.5 381.31 L259.5 381.28 L258.5 381.25 L257.5 381.23 L256.5 381.2 L255.5 381.17 L254.5 381.14 L253.5 381.11 L252.5 381.08 L251.5 381.05 L250.5 381.02 L249.5 380.99 L248.5 380.96 L247.5 380.92 L246.5 380.89 L245.5 380.86 L244.5 380.82 L243.5 380.79 L242.5 380.76 L241.5 380.72 L240.5 380.68 L239.5 380.65 L238.5 380.61 L237.5 380.57 L236.5 380.54 L235.5 380.5 L234.5 380.46 L233.5 380.42 L232.5 380.38 L231.5 380.34 L230.5 380.3 L229.5 380.26 L228.5 380.21 L227.5 380.17 L226.5 380.13 L225.5 380.08 L224.5 380.04 L223.5 379.99 L222.5 379.94 L221.5 379.9 L220.5 379.85 L219.5 379.8 L218.5 379.75 L217.5 379.7 L216.5 379.65 L215.5 379.6 L214.5 379.55 L213.5 379.49 L212.5 379.44 L211.5 379.38 L210.5 379.33 L209.5 379.27 L208.5 379.22 L207.5 379.16 L206.5 379.1 L205.5 379.04 L204.5 378.98 L203.5 378.92 L202.5 378.85 L201.5 378.79 L200.5 378.73 L199.5 378.66 L198.5 378.59 L197.5 378.53 L196.5 378.46 L195.5 378.39 L194.5 378.32 L193.5 378.25 L192.5 378.17 L191.5 378.1 L190.5 378.03 L189.5 377.95 L188.5 377.87 L187.5 377.79 L186.5 377.71 L185.5 377.63 L184.5 377.55 L183.5 377.47 L182.5 377.38 L181.5 377.3 L180.5 377.21 L179.5 377.12 L178.5 377.03 L177.5 376.94 L176.5 376.84 L175.5 376.75 L174.5 376.65 L173.5 376.56 L172.5 376.46 L171.5 376.36 L170.5 376.25 L169.5 376.15 L168.5 376.05 L167.5 375.94 L166.5 375.83 L165.5 375.72 L164.5 375.61 L163.5 375.49 L162.5 375.38 L161.5 375.26 L160.5 375.14 L159.5 375.02 L158.5 374.89 L157.5 374.77 L156.5 374.64 L155.5 374.51 L154.5 374.38 L153.5 374.24 L152.5 374.11 L151.5 373.97 L150.5 373.83 L149.5 373.68 L148.5 373.54 L147.5 373.39 L146.5 373.24 L145.5 373.08 L144.5 372.93 L143.5 372.77 L142.5 372.61 L141.5 372.44 L140.5 372.28 L139.5 372.11 L138.5 371.94 L137.5 371.76 L136.5 371.58 L135.5 371.4 L134.5 371.22 L133.5 371.03 L132.5 370.84 L131.5 370.65 L130.5 370.45 L129.5 370.25 L128.5 370.04 L127.5 369.84 L126.5 369.62 L125.5 369.41 L124.5 369.19 L123.5 368.97 L122.5 368.74 L121.5 368.51 L120.5 368.28 L119.5 368.04 L118.5 367.81 L117.5 367.58 L116.5 367.34 L115.5 367.1 L114.5 366.85 L113.5 366.6 L112.5 366.34 L111.5 366.08 L110.5 365.82 L109.5 365.55 L108.5 365.27 L107.5 364.99 L106.5 364.7 L105.5 364.41 L104.5 364.11 L103.5 363.81 L102.5 363.5 L101.5 363.19 L100.5 362.86 L99.5 362.54 L98.5 362.21 L97.5 361.87 L96.5 361.52 L95.5 361.17 L94.5 360.81 L93.5 360.45 L92.5 360.08 L91.5 359.7 L90.5 359.32 L89.5 358.92 L88.5 358.52 L87.5 358.12 L86.5 357.71 L85.5 357.28 L84.5 356.86 L83.5 356.42 L82.5 355.98 L81.5 355.52 L80.5 355.07 L79.5 354.6 L78.5 354.12 L77.5 353.64 L76.5 353.15 L75.5 352.65 L74.5 352.14 L73.5 351.63 L72.5 351.1 L71.5 350.57 L70.5 350.03 L69.5 349.49 L68.5 348.95 L67.5 348.41 L66.5 347.86 L65.5 347.3 L64.5 346.73 L63.5 346.16 L62.5 345.58 L61.5 344.99 L60.5 344.39 L59.5 343.79 L58.5 343.18 L57.5 342.57 L56.5 341.95 L55.5 341.33 L54.5 340.7 L53.5 340.07 L52.5 339.44 L51.5 338.81 L50.5 338.17 L49.5 337.54 L48.5 336.91 L47.5 336.28 L46.5 335.65 L45.5 335.03 L44.5 334.42 L43.5 333.81 L42.5 333.22 L41.5 332.64 L40.5 332.08 L39.5 331.53 L38.5 331 L37.5 330.5Z" fill="#87cefa" fill-opacity="0.35" stroke="none" clip-path="url(#At)"/>
<line x1="37.5" y1="383.76" x2="332.5" y2="383.76" stroke="#ff8c00" stroke-width="2.0" stroke-dasharray="1.9 2.15"/>
<path d="M37.5 327.3 L38.5 327.84 L39.5 328.4 L40.5 328.99 L41.5 329.59 L42.5 330.21 L43.5 330.84 L44.5 331.48 L45.5 332.13 L46.5 332.78 L47.5 333.44 L48.5 334.11 L49.5 334.78 L50.5 335.45 L51.5 336.12 L52.5 336.79 L53.5 337.46 L54.5 338.13 L55.5 338.79 L56.5 339.45 L57.5 340.11 L58.5 340.76 L59.5 341.4 L60.5 342.04 L61.5 342.67 L62.5 343.3 L63.5 343.92 L64.5 344.53 L65.5 345.13 L66.5 345.73 L67.5 346.32 L68.5 346.9 L69.5 347.47 L70.5 348.04 L71.5 348.59 L72.5 349.14 L73.5 349.68 L74.5 350.21 L75.5 350.74 L76.5 351.25 L77.5 351.76 L78.5 352.26 L79.5 352.75 L80.5 353.23 L81.5 353.71 L82.5 354.18 L83.5 354.64 L84.5 355.09 L85.5 355.53 L86.5 355.97 L87.5 356.4 L88.5 356.82 L89.5 357.24 L90.5 357.64 L91.5 358.04 L92.5 358.44 L93.5 358.83 L94.5 359.21 L95.5 359.58 L96.5 359.95 L97.5 360.31 L98.5 360.66 L99.5 361.01 L100.5 361.35 L101.5 361.69 L102.5 362.02 L103.5 362.34 L104.5 362.66 L105.5 362.98 L106.5 363.29 L107.5 363.59 L108.5 363.89 L109.5 364.18 L110.5 364.46 L111.5 364.75 L112.5 365.02 L113.5 365.3 L114.5 365.56 L115.5 365.83 L116.5 366.09 L117.5 366.34 L118.5 366.59 L119.5 366.84 L120.5 367.08 L121.5 367.32 L122.5 367.55 L123.5 367.78 L124.5 368 L125.5 368.22 L126.5 368.44 L127.5 368.66 L128.5 368.87 L129.5 369.07 L130.5 369.28 L131.5 369.48 L132.5 369.67 L133.5 369.87 L134.5 370.06 L135.5 370.25 L136.5 370.43 L137.5 370.61 L138.5 370.79 L139.5 370.96 L140.5 371.14 L141.5 371.31 L142.5 371.47 L143.5 371.64 L144.5 371.8 L145.5 371.96 L146.5 372.11 L147.5 372.27 L148.5 372.42 L149.5 372.57 L150.5 372.71 L151.5 372.86 L152.5 373 L153.5 373.14 L154.5 373.27 L155.5 373.41 L156.5 373.54 L157.5 373.67 L158.5 373.8 L159.5 373.93 L160.5 374.05 L161.5 374.17 L162.5 374.3 L163.5 374.41 L164.5 374.53 L165.5 374.65 L166.5 374.76 L167.5 374.87 L168.5 374.98 L169.5 375.09 L170.5 375.2 L171.5 375.3 L172.5 375.41 L173.5 375.51 L174.5 375.61 L175.5 375.71 L176.5 375.8 L177.5 375.9 L178.5 376 L179.5 376.09 L180.5 376.18 L181.5 376.27 L182.5 376.36 L183.5 376.45 L184.5 376.53 L185.5 376.62 L186.5 376.7 L187.5 376.78 L188.5 376.87 L189.5 376.95 L190.5 377.02 L191.5 377.1 L192.5 377.18 L193.5 377.25 L194.5 377.33 L195.5 377.4 L196.5 377.47 L197.5 377.55 L198.5 377.62 L199.5 377.69 L200.5 377.75 L201.5 377.82 L202.5 377.89 L203.5 377.95 L204.5 378.02 L205.5 378.08 L206.5 378.14 L207.5 378.21 L208.5 378.27 L209.5 378.33 L210.5 378.38 L211.5 378.44 L212.5 378.5 L213.5 378.56 L214.5 378.61 L215.5 378.67 L216.5 378.72 L217.5 378.78 L218.5 378.83 L219.5 378.88 L220.5 378.93 L221.5 378.98 L222.5 379.03 L223.5 379.08 L224.5 379.13 L225.5 379.18 L226.5 379.23 L227.5 379.27 L228.5 379.32 L229.5 379.36 L230.5 379.41 L231.5 379.45 L232.5 379.5 L233.5 379.54 L234.5 379.58 L235.5 379.62 L236.5 379.67 L237.5 379.71 L238.5 379.75 L239.5 379.79 L240.5 379.82 L241.5 379.86 L242.5 379.9 L243.5 379.94 L244.5 379.98 L245.5 380.01 L246.5 380.05 L247.5 380.08 L248.5 380.12 L249.5 380.15 L250.5 380.19 L251.5 380.22 L252.5 380.25 L253.5 380.29 L254.5 380.32 L255.5 380.35 L256.5 380.38 L257.5 380.41 L258.5 380.44 L259.5 380.48 L260.5 380.51 L261.5 380.53 L262.5 380.56 L263.5 380.59 L264.5 380.62 L265.5 380.65 L266.5 380.68 L267.5 380.7 L268.5 380.73 L269.5 380.76 L270.5 380.78 L271.5 380.81 L272.5 380.83 L273.5 380.86 L274.5 380.88 L275.5 380.91 L276.5 380.93 L277.5 380.96 L278.5 380.98 L279.5 381 L280.5 381.03 L281.5 381.05 L282.5 381.07 L283.5 381.09 L284.5 381.12 L285.5 381.14 L286.5 381.16 L287.5 381.18 L288.5 381.2 L289.5 381.22 L290.5 381.24 L291.5 381.26 L292.5 381.28 L293.5 381.3 L294.5 381.32 L295.5 381.34 L296.5 381.36 L297.5 381.37 L298.5 381.39 L299.5 381.41 L300.5 381.43 L301.5 381.45 L302.5 381.46 L303.5 381.48 L304.5 381.5 L305.5 381.51 L306.5 381.53 L307.5 381.55 L308.5 381.56 L309.5 381.58 L310.5 381.59 L311.5 381.61 L312.5 381.62 L313.5 381.64 L314.5 381.65 L315.5 381.67 L316.5 381.68 L317.5 381.7 L318.5 381.71 L319.5 381.72 L320.5 381.74 L321.5 381.75 L322.5 381.77 L323.5 381.78 L324.5 381.79 L325.5 381.8 L326.5 381.82 L327.5 381.83 L328.5 381.84 L329.5 381.85 L330.5 381.87 L331.5 381.88 L332.5 381.89" fill="none" stroke="#87cefa" stroke-width="2.2" stroke-dasharray="1.9 2.15" clip-path="url(#At)"/>
<path d="M383.5 45 L384.5 45.63 L385.5 46.25 L386.5 46.86 L387.5 47.45 L388.5 48.04 L389.5 48.62 L390.5 49.18 L391.5 49.74 L392.5 50.29 L393.5 50.82 L394.5 51.35 L395.5 51.87 L396.5 52.39 L397.5 52.89 L398.5 53.39 L399.5 53.88 L400.5 54.36 L401.5 54.84 L402.5 55.3 L403.5 55.77 L404.5 56.22 L405.5 56.67 L406.5 57.11 L407.5 57.54 L408.5 57.97 L409.5 58.4 L410.5 58.81 L411.5 59.23 L412.5 59.63 L413.5 60.03 L414.5 60.43 L415.5 60.82 L416.5 61.2 L417.5 61.58 L418.5 61.96 L419.5 62.33 L420.5 62.69 L421.5 63.05 L422.5 63.41 L423.5 63.76 L424.5 64.11 L425.5 64.46 L426.5 64.8 L427.5 65.13 L428.5 65.46 L429.5 65.79 L430.5 66.11 L431.5 66.43 L432.5 66.75 L433.5 67.06 L434.5 67.37 L435.5 67.68 L436.5 67.98 L437.5 68.28 L438.5 68.58 L439.5 68.87 L440.5 69.16 L441.5 69.44 L442.5 69.73 L443.5 70.01 L444.5 70.28 L445.5 70.56 L446.5 70.83 L447.5 71.1 L448.5 71.36 L449.5 71.63 L450.5 71.89 L451.5 72.14 L452.5 72.4 L453.5 72.65 L454.5 72.9 L455.5 73.15 L456.5 73.39 L457.5 73.64 L458.5 73.88 L459.5 74.11 L460.5 74.35 L461.5 74.58 L462.5 74.81 L463.5 75.04 L464.5 75.27 L465.5 75.49 L466.5 75.72 L467.5 75.94 L468.5 76.15 L469.5 76.37 L470.5 76.58 L471.5 76.8 L472.5 77.01 L473.5 77.22 L474.5 77.42 L475.5 77.63 L476.5 77.83 L477.5 78.03 L478.5 78.23 L479.5 78.43 L480.5 78.62 L481.5 78.82 L482.5 79.01 L483.5 79.2 L484.5 79.39 L485.5 79.58 L486.5 79.76 L487.5 79.95 L488.5 80.13 L489.5 80.31 L490.5 80.49 L491.5 80.67 L492.5 80.85 L493.5 81.02 L494.5 81.2 L495.5 81.37 L496.5 81.54 L497.5 81.71 L498.5 81.88 L499.5 82.04 L500.5 82.21 L501.5 82.37 L502.5 82.54 L503.5 82.7 L504.5 82.86 L505.5 83.02 L506.5 83.17 L507.5 83.33 L508.5 83.49 L509.5 83.64 L510.5 83.79 L511.5 83.94 L512.5 84.1 L513.5 84.24 L514.5 84.39 L515.5 84.54 L516.5 84.69 L517.5 84.83 L518.5 84.97 L519.5 85.12 L520.5 85.26 L521.5 85.4 L522.5 85.54 L523.5 85.68 L524.5 85.81 L525.5 85.95 L526.5 86.09 L527.5 86.22 L528.5 86.35 L529.5 86.49 L530.5 86.62 L531.5 86.75 L532.5 86.88 L533.5 87.01 L534.5 87.13 L535.5 87.26 L536.5 87.39 L537.5 87.51 L538.5 87.64 L539.5 87.76 L540.5 87.88 L541.5 88 L542.5 88.12 L543.5 88.24 L544.5 88.36 L545.5 88.48 L546.5 88.6 L547.5 88.72 L548.5 88.83 L549.5 88.95 L550.5 89.06 L551.5 89.17 L552.5 89.29 L553.5 89.4 L554.5 89.51 L555.5 89.62 L556.5 89.73 L557.5 89.84 L558.5 89.95 L559.5 90.05 L560.5 90.16 L561.5 90.27 L562.5 90.37 L563.5 90.48 L564.5 90.58 L565.5 90.68 L566.5 90.79 L567.5 90.89 L568.5 90.99 L569.5 91.09 L570.5 91.19 L571.5 91.29 L572.5 91.39 L573.5 91.48 L574.5 91.58 L575.5 91.68 L576.5 91.77 L577.5 91.87 L578.5 91.97 L579.5 92.06 L580.5 92.15 L581.5 92.25 L582.5 92.34 L583.5 92.43 L584.5 92.52 L585.5 92.61 L586.5 92.7 L587.5 92.79 L588.5 92.88 L589.5 92.97 L590.5 93.06 L591.5 93.14 L592.5 93.23 L593.5 93.32 L594.5 93.4 L595.5 93.49 L596.5 93.57 L597.5 93.66 L598.5 93.74 L599.5 93.82 L600.5 93.91 L601.5 93.99 L602.5 94.07 L603.5 94.15 L604.5 94.23 L605.5 94.31 L606.5 94.39 L607.5 94.47 L608.5 94.55 L609.5 94.63 L610.5 94.7 L611.5 94.78 L612.5 94.86 L613.5 94.94 L614.5 95.01 L615.5 95.09 L616.5 95.16 L617.5 95.24 L618.5 95.31 L619.5 95.38 L620.5 95.46 L621.5 95.53 L622.5 95.6 L623.5 95.67 L624.5 95.74 L625.5 95.82 L626.5 95.89 L627.5 95.96 L628.5 96.03 L629.5 96.1 L630.5 96.17 L631.5 96.23 L632.5 96.3 L633.5 96.37 L634.5 96.44 L635.5 96.5 L636.5 96.57 L637.5 96.64 L638.5 96.7 L639.5 96.77 L640.5 96.83 L641.5 96.9 L642.5 96.96 L643.5 97.03 L644.5 97.09 L645.5 97.15 L646.5 97.22 L647.5 97.28 L648.5 97.34 L649.5 97.4 L650.5 97.46 L651.5 97.53 L652.5 97.59 L653.5 97.65 L654.5 97.71 L655.5 97.77 L656.5 97.83 L657.5 97.88 L658.5 97.94 L659.5 98 L660.5 98.06 L661.5 98.12 L662.5 98.18 L663.5 98.23 L664.5 98.29 L665.5 98.35 L666.5 98.4 L667.5 98.46 L668.5 98.51 L669.5 98.57 L670.5 98.62 L671.5 98.68 L672.5 98.73 L673.5 98.79 L674.5 98.84 L675.5 98.89 L676.5 98.95 L677.5 99 L678.5 99.05" fill="none" stroke="#87cefa" stroke-width="2.2" stroke-dasharray="1.9 2.15" clip-path="url(#Bmain)"/>
<path d="M383.5 75.01 L384.5 75.8 L385.5 76.58 L386.5 77.35 L387.5 78.1 L388.5 78.85 L389.5 79.58 L390.5 80.31 L391.5 81.02 L392.5 81.73 L393.5 82.42 L394.5 83.11 L395.5 83.79 L396.5 84.45 L397.5 85.11 L398.5 85.76 L399.5 86.4 L400.5 87.04 L401.5 87.66 L402.5 88.28 L403.5 88.89 L404.5 89.49 L405.5 90.08 L406.5 90.67 L407.5 91.25 L408.5 91.82 L409.5 92.39 L410.5 92.95 L411.5 93.5 L412.5 94.05 L413.5 94.59 L414.5 95.12 L415.5 95.65 L416.5 96.17 L417.5 96.68 L418.5 97.19 L419.5 97.7 L420.5 98.2 L421.5 98.69 L422.5 99.18 L423.5 99.66 L424.5 100.14 L425.5 100.61 L426.5 101.08 L427.5 101.54 L428.5 102 L429.5 102.45 L430.5 102.9 L431.5 103.35 L432.5 103.78 L433.5 104.22 L434.5 104.65 L435.5 105.08 L436.5 105.5 L437.5 105.92 L438.5 106.33 L439.5 106.74 L440.5 107.15 L441.5 107.55 L442.5 107.95 L443.5 108.34 L444.5 108.73 L445.5 109.12 L446.5 109.51 L447.5 109.89 L448.5 110.26 L449.5 110.64 L450.5 111.01 L451.5 111.37 L452.5 111.74 L453.5 112.1 L454.5 112.45 L455.5 112.81 L456.5 113.16 L457.5 113.5 L458.5 113.85 L459.5 114.19 L460.5 114.53 L461.5 114.87 L462.5 115.2 L463.5 115.53 L464.5 115.86 L465.5 116.18 L466.5 116.5 L467.5 116.82 L468.5 117.14 L469.5 117.45 L470.5 117.76 L471.5 118.07 L472.5 118.38 L473.5 118.68 L474.5 118.98 L475.5 119.28 L476.5 119.58 L477.5 119.87 L478.5 120.17 L479.5 120.46 L480.5 120.74 L481.5 121.03 L482.5 121.31 L483.5 121.59 L484.5 121.87 L485.5 122.15 L486.5 122.42 L487.5 122.69 L488.5 122.96 L489.5 123.23 L490.5 123.5 L491.5 123.76 L492.5 124.02 L493.5 124.29 L494.5 124.54 L495.5 124.8 L496.5 125.05 L497.5 125.31 L498.5 125.56 L499.5 125.81 L500.5 126.06 L501.5 126.3 L502.5 126.54 L503.5 126.79 L504.5 127.03 L505.5 127.27 L506.5 127.5 L507.5 127.74 L508.5 127.97 L509.5 128.2 L510.5 128.43 L511.5 128.66 L512.5 128.89 L513.5 129.12 L514.5 129.34 L515.5 129.56 L516.5 129.79 L517.5 130 L518.5 130.22 L519.5 130.44 L520.5 130.66 L521.5 130.87 L522.5 131.08 L523.5 131.29 L524.5 131.5 L525.5 131.71 L526.5 131.92 L527.5 132.12 L528.5 132.33 L529.5 132.53 L530.5 132.73 L531.5 132.93 L532.5 133.13 L533.5 133.33 L534.5 133.52 L535.5 133.72 L536.5 133.91 L537.5 134.11 L538.5 134.3 L539.5 134.49 L540.5 134.68 L541.5 134.87 L542.5 135.05 L543.5 135.24 L544.5 135.42 L545.5 135.61 L546.5 135.79 L547.5 135.97 L548.5 136.15 L549.5 136.33 L550.5 136.51 L551.5 136.68 L552.5 136.86 L553.5 137.03 L554.5 137.21 L555.5 137.38 L556.5 137.55 L557.5 137.72 L558.5 137.89 L559.5 138.06 L560.5 138.22 L561.5 138.39 L562.5 138.56 L563.5 138.72 L564.5 138.88 L565.5 139.05 L566.5 139.21 L567.5 139.37 L568.5 139.53 L569.5 139.69 L570.5 139.84 L571.5 140 L572.5 140.16 L573.5 140.31 L574.5 140.47 L575.5 140.62 L576.5 140.77 L577.5 140.92 L578.5 141.07 L579.5 141.22 L580.5 141.37 L581.5 141.52 L582.5 141.67 L583.5 141.81 L584.5 141.96 L585.5 142.11 L586.5 142.25 L587.5 142.39 L588.5 142.53 L589.5 142.68 L590.5 142.82 L591.5 142.96 L592.5 143.1 L593.5 143.24 L594.5 143.37 L595.5 143.51 L596.5 143.65 L597.5 143.78 L598.5 143.92 L599.5 144.05 L600.5 144.18 L601.5 144.32 L602.5 144.45 L603.5 144.58 L604.5 144.71 L605.5 144.84 L606.5 144.97 L607.5 145.1 L608.5 145.22 L609.5 145.35 L610.5 145.48 L611.5 145.6 L612.5 145.73 L613.5 145.85 L614.5 145.98 L615.5 146.1 L616.5 146.22 L617.5 146.34 L618.5 146.47 L619.5 146.59 L620.5 146.71 L621.5 146.83 L622.5 146.94 L623.5 147.06 L624.5 147.18 L625.5 147.3 L626.5 147.41 L627.5 147.53 L628.5 147.64 L629.5 147.76 L630.5 147.87 L631.5 147.98 L632.5 148.1 L633.5 148.21 L634.5 148.32 L635.5 148.43 L636.5 148.54 L637.5 148.65 L638.5 148.76 L639.5 148.87 L640.5 148.98 L641.5 149.09 L642.5 149.19 L643.5 149.3 L644.5 149.4 L645.5 149.51 L646.5 149.62 L647.5 149.72 L648.5 149.82 L649.5 149.93 L650.5 150.03 L651.5 150.13 L652.5 150.23 L653.5 150.34 L654.5 150.44 L655.5 150.54 L656.5 150.64 L657.5 150.74 L658.5 150.84 L659.5 150.93 L660.5 151.03 L661.5 151.13 L662.5 151.23 L663.5 151.32 L664.5 151.42 L665.5 151.51 L666.5 151.61 L667.5 151.7 L668.5 151.8 L669.5 151.89 L670.5 151.99 L671.5 152.08 L672.5 152.17 L673.5 152.26 L674.5 152.35 L675.5 152.44 L676.5 152.54 L677.5 152.63 L678.5 152.72" fill="none" stroke="#87cefa" stroke-width="2.2" stroke-dasharray="6.2 2.1 1.7 2.1" clip-path="url(#Bmain)"/>
<path d="M383.5 102.64 L384.5 103.15 L385.5 103.64 L386.5 104.13 L387.5 104.61 L388.5 105.09 L389.5 105.56 L390.5 106.02 L391.5 106.47 L392.5 106.93 L393.5 107.37 L394.5 107.81 L395.5 108.24 L396.5 108.67 L397.5 109.1 L398.5 109.51 L399.5 109.93 L400.5 110.33 L401.5 110.74 L402.5 111.14 L403.5 111.53 L404.5 111.92 L405.5 112.3 L406.5 112.69 L407.5 113.06 L408.5 113.43 L409.5 113.8 L410.5 114.16 L411.5 114.52 L412.5 114.88 L413.5 115.23 L414.5 115.58 L415.5 115.93 L416.5 116.27 L417.5 116.6 L418.5 116.94 L419.5 117.27 L420.5 117.6 L421.5 117.92 L422.5 118.24 L423.5 118.56 L424.5 118.87 L425.5 119.18 L426.5 119.49 L427.5 119.8 L428.5 120.1 L429.5 120.4 L430.5 120.7 L431.5 120.99 L432.5 121.28 L433.5 121.57 L434.5 121.86 L435.5 122.14 L436.5 122.42 L437.5 122.7 L438.5 122.97 L439.5 123.25 L440.5 123.52 L441.5 123.79 L442.5 124.05 L443.5 124.32 L444.5 124.58 L445.5 124.84 L446.5 125.09 L447.5 125.35 L448.5 125.6 L449.5 125.85 L450.5 126.1 L451.5 126.35 L452.5 126.59 L453.5 126.83 L454.5 127.07 L455.5 127.31 L456.5 127.55 L457.5 127.78 L458.5 128.02 L459.5 128.25 L460.5 128.48 L461.5 128.7 L462.5 128.93 L463.5 129.15 L464.5 129.38 L465.5 129.6 L466.5 129.81 L467.5 130.03 L468.5 130.25 L469.5 130.46 L470.5 130.67 L471.5 130.88 L472.5 131.09 L473.5 131.3 L474.5 131.51 L475.5 131.71 L476.5 131.91 L477.5 132.12 L478.5 132.32 L479.5 132.51 L480.5 132.71 L481.5 132.91 L482.5 133.1 L483.5 133.3 L484.5 133.49 L485.5 133.68 L486.5 133.87 L487.5 134.05 L488.5 134.24 L489.5 134.43 L490.5 134.61 L491.5 134.79 L492.5 134.97 L493.5 135.15 L494.5 135.33 L495.5 135.51 L496.5 135.69 L497.5 135.86 L498.5 136.04 L499.5 136.21 L500.5 136.38 L501.5 136.56 L502.5 136.72 L503.5 136.89 L504.5 137.06 L505.5 137.23 L506.5 137.39 L507.5 137.56 L508.5 137.72 L509.5 137.88 L510.5 138.05 L511.5 138.21 L512.5 138.37 L513.5 138.52 L514.5 138.68 L515.5 138.84 L516.5 138.99 L517.5 139.15 L518.5 139.3 L519.5 139.46 L520.5 139.61 L521.5 139.76 L522.5 139.91 L523.5 140.06 L524.5 140.21 L525.5 140.35 L526.5 140.5 L527.5 140.65 L528.5 140.79 L529.5 140.94 L530.5 141.08 L531.5 141.22 L532.5 141.36 L533.5 141.5 L534.5 141.64 L535.5 141.78 L536.5 141.92 L537.5 142.06 L538.5 142.19 L539.5 142.33 L540.5 142.47 L541.5 142.6 L542.5 142.73 L543.5 142.87 L544.5 143 L545.5 143.13 L546.5 143.26 L547.5 143.39 L548.5 143.52 L549.5 143.65 L550.5 143.78 L551.5 143.91 L552.5 144.03 L553.5 144.16 L554.5 144.28 L555.5 144.41 L556.5 144.53 L557.5 144.65 L558.5 144.78 L559.5 144.9 L560.5 145.02 L561.5 145.14 L562.5 145.26 L563.5 145.38 L564.5 145.5 L565.5 145.62 L566.5 145.74 L567.5 145.85 L568.5 145.97 L569.5 146.08 L570.5 146.2 L571.5 146.31 L572.5 146.43 L573.5 146.54 L574.5 146.65 L575.5 146.77 L576.5 146.88 L577.5 146.99 L578.5 147.1 L579.5 147.21 L580.5 147.32 L581.5 147.43 L582.5 147.54 L583.5 147.65 L584.5 147.75 L585.5 147.86 L586.5 147.97 L587.5 148.07 L588.5 148.18 L589.5 148.28 L590.5 148.39 L591.5 148.49 L592.5 148.59 L593.5 148.7 L594.5 148.8 L595.5 148.9 L596.5 149 L597.5 149.1 L598.5 149.2 L599.5 149.3 L600.5 149.4 L601.5 149.5 L602.5 149.6 L603.5 149.7 L604.5 149.8 L605.5 149.89 L606.5 149.99 L607.5 150.09 L608.5 150.18 L609.5 150.28 L610.5 150.37 L611.5 150.47 L612.5 150.56 L613.5 150.65 L614.5 150.75 L615.5 150.84 L616.5 150.93 L617.5 151.02 L618.5 151.12 L619.5 151.21 L620.5 151.3 L621.5 151.39 L622.5 151.48 L623.5 151.57 L624.5 151.66 L625.5 151.74 L626.5 151.83 L627.5 151.92 L628.5 152.01 L629.5 152.1 L630.5 152.18 L631.5 152.27 L632.5 152.35 L633.5 152.44 L634.5 152.53 L635.5 152.61 L636.5 152.7 L637.5 152.78 L638.5 152.86 L639.5 152.95 L640.5 153.03 L641.5 153.11 L642.5 153.19 L643.5 153.28 L644.5 153.36 L645.5 153.44 L646.5 153.52 L647.5 153.6 L648.5 153.68 L649.5 153.76 L650.5 153.84 L651.5 153.92 L652.5 154 L653.5 154.08 L654.5 154.16 L655.5 154.23 L656.5 154.31 L657.5 154.39 L658.5 154.47 L659.5 154.54 L660.5 154.62 L661.5 154.69 L662.5 154.77 L663.5 154.85 L664.5 154.92 L665.5 155 L666.5 155.07 L667.5 155.14 L668.5 155.22 L669.5 155.29 L670.5 155.37 L671.5 155.44 L672.5 155.51 L673.5 155.58 L674.5 155.66 L675.5 155.73 L676.5 155.8 L677.5 155.87 L678.5 155.94" fill="none" stroke="#ff8c00" stroke-width="2.2" stroke-dasharray="6.2 2.1 1.7 2.1" clip-path="url(#Bmain)"/>
<path d="M383.5 111.02 L384.5 111.2 L385.5 111.38 L386.5 111.56 L387.5 111.73 L388.5 111.91 L389.5 112.08 L390.5 112.25 L391.5 112.43 L392.5 112.6 L393.5 112.77 L394.5 112.93 L395.5 113.1 L396.5 113.27 L397.5 113.43 L398.5 113.6 L399.5 113.76 L400.5 113.92 L401.5 114.08 L402.5 114.24 L403.5 114.4 L404.5 114.56 L405.5 114.71 L406.5 114.86 L407.5 115.02 L408.5 115.17 L409.5 115.32 L410.5 115.47 L411.5 115.62 L412.5 115.76 L413.5 115.91 L414.5 116.05 L415.5 116.2 L416.5 116.34 L417.5 116.48 L418.5 116.62 L419.5 116.76 L420.5 116.89 L421.5 117.03 L422.5 117.16 L423.5 117.3 L424.5 117.43 L425.5 117.56 L426.5 117.69 L427.5 117.82 L428.5 117.95 L429.5 118.08 L430.5 118.2 L431.5 118.33 L432.5 118.45 L433.5 118.57 L434.5 118.69 L435.5 118.81 L436.5 118.93 L437.5 119.05 L438.5 119.17 L439.5 119.29 L440.5 119.4 L441.5 119.52 L442.5 119.63 L443.5 119.74 L444.5 119.85 L445.5 119.96 L446.5 120.07 L447.5 120.18 L448.5 120.29 L449.5 120.4 L450.5 120.5 L451.5 120.61 L452.5 120.71 L453.5 120.82 L454.5 120.92 L455.5 121.02 L456.5 121.12 L457.5 121.22 L458.5 121.32 L459.5 121.42 L460.5 121.52 L461.5 121.61 L462.5 121.71 L463.5 121.8 L464.5 121.9 L465.5 121.99 L466.5 122.09 L467.5 122.18 L468.5 122.27 L469.5 122.36 L470.5 122.45 L471.5 122.54 L472.5 122.63 L473.5 122.71 L474.5 122.8 L475.5 122.89 L476.5 122.97 L477.5 123.06 L478.5 123.14 L479.5 123.22 L480.5 123.31 L481.5 123.39 L482.5 123.47 L483.5 123.55 L484.5 123.63 L485.5 123.71 L486.5 123.79 L487.5 123.87 L488.5 123.94 L489.5 124.02 L490.5 124.1 L491.5 124.17 L492.5 124.25 L493.5 124.32 L494.5 124.4 L495.5 124.47 L496.5 124.54 L497.5 124.62 L498.5 124.69 L499.5 124.76 L500.5 124.83 L501.5 124.9 L502.5 124.97 L503.5 125.04 L504.5 125.1 L505.5 125.17 L506.5 125.24 L507.5 125.31 L508.5 125.37 L509.5 125.44 L510.5 125.5 L511.5 125.57 L512.5 125.63 L513.5 125.69 L514.5 125.76 L515.5 125.82 L516.5 125.88 L517.5 125.94 L518.5 126.01 L519.5 126.07 L520.5 126.13 L521.5 126.19 L522.5 126.25 L523.5 126.3 L524.5 126.36 L525.5 126.42 L526.5 126.48 L527.5 126.53 L528.5 126.59 L529.5 126.65 L530.5 126.7 L531.5 126.76 L532.5 126.81 L533.5 126.87 L534.5 126.92 L535.5 126.98 L536.5 127.03 L537.5 127.08 L538.5 127.13 L539.5 127.19 L540.5 127.24 L541.5 127.29 L542.5 127.34 L543.5 127.39 L544.5 127.44 L545.5 127.49 L546.5 127.54 L547.5 127.59 L548.5 127.64 L549.5 127.68 L550.5 127.73 L551.5 127.78 L552.5 127.83 L553.5 127.87 L554.5 127.92 L555.5 127.97 L556.5 128.01 L557.5 128.06 L558.5 128.1 L559.5 128.15 L560.5 128.19 L561.5 128.23 L562.5 128.28 L563.5 128.32 L564.5 128.36 L565.5 128.41 L566.5 128.45 L567.5 128.49 L568.5 128.53 L569.5 128.57 L570.5 128.61 L571.5 128.66 L572.5 128.7 L573.5 128.74 L574.5 128.78 L575.5 128.82 L576.5 128.85 L577.5 128.89 L578.5 128.93 L579.5 128.97 L580.5 129.01 L581.5 129.05 L582.5 129.08 L583.5 129.12 L584.5 129.16 L585.5 129.19 L586.5 129.23 L587.5 129.27 L588.5 129.3 L589.5 129.34 L590.5 129.37 L591.5 129.41 L592.5 129.44 L593.5 129.48 L594.5 129.51 L595.5 129.54 L596.5 129.58 L597.5 129.61 L598.5 129.64 L599.5 129.68 L600.5 129.71 L601.5 129.74 L602.5 129.77 L603.5 129.81 L604.5 129.84 L605.5 129.87 L606.5 129.9 L607.5 129.93 L608.5 129.96 L609.5 129.99 L610.5 130.02 L611.5 130.05 L612.5 130.08 L613.5 130.11 L614.5 130.14 L615.5 130.17 L616.5 130.2 L617.5 130.23 L618.5 130.25 L619.5 130.28 L620.5 130.31 L621.5 130.34 L622.5 130.36 L623.5 130.39 L624.5 130.42 L625.5 130.45 L626.5 130.47 L627.5 130.5 L628.5 130.52 L629.5 130.55 L630.5 130.58 L631.5 130.6 L632.5 130.63 L633.5 130.65 L634.5 130.68 L635.5 130.7 L636.5 130.73 L637.5 130.75 L638.5 130.77 L639.5 130.8 L640.5 130.82 L641.5 130.84 L642.5 130.87 L643.5 130.89 L644.5 130.91 L645.5 130.94 L646.5 130.96 L647.5 130.98 L648.5 131 L649.5 131.03 L650.5 131.05 L651.5 131.07 L652.5 131.09 L653.5 131.11 L654.5 131.13 L655.5 131.15 L656.5 131.17 L657.5 131.2 L658.5 131.22 L659.5 131.24 L660.5 131.26 L661.5 131.28 L662.5 131.3 L663.5 131.31 L664.5 131.33 L665.5 131.35 L666.5 131.37 L667.5 131.39 L668.5 131.41 L669.5 131.43 L670.5 131.45 L671.5 131.47 L672.5 131.48 L673.5 131.5 L674.5 131.52 L675.5 131.54 L676.5 131.55 L677.5 131.57 L678.5 131.59" fill="none" stroke="#ff8c00" stroke-width="2.2" stroke-dasharray="1.9 2.15" clip-path="url(#Bmain)"/>
<path d="M383.5 113.57 L384.5 114.16 L385.5 114.73 L386.5 115.3 L387.5 115.85 L388.5 116.4 L389.5 116.94 L390.5 117.46 L391.5 117.98 L392.5 118.49 L393.5 118.99 L394.5 119.49 L395.5 119.97 L396.5 120.45 L397.5 120.92 L398.5 121.38 L399.5 121.84 L400.5 122.29 L401.5 122.73 L402.5 123.16 L403.5 123.59 L404.5 124.01 L405.5 124.43 L406.5 124.84 L407.5 125.24 L408.5 125.64 L409.5 126.04 L410.5 126.42 L411.5 126.81 L412.5 127.18 L413.5 127.56 L414.5 127.92 L415.5 128.29 L416.5 128.65 L417.5 129 L418.5 129.35 L419.5 129.69 L420.5 130.03 L421.5 130.37 L422.5 130.7 L423.5 131.03 L424.5 131.35 L425.5 131.67 L426.5 131.99 L427.5 132.3 L428.5 132.61 L429.5 132.91 L430.5 133.22 L431.5 133.51 L432.5 133.81 L433.5 134.1 L434.5 134.39 L435.5 134.67 L436.5 134.96 L437.5 135.24 L438.5 135.51 L439.5 135.78 L440.5 136.05 L441.5 136.32 L442.5 136.59 L443.5 136.85 L444.5 137.11 L445.5 137.36 L446.5 137.62 L447.5 137.87 L448.5 138.11 L449.5 138.36 L450.5 138.6 L451.5 138.85 L452.5 139.08 L453.5 139.32 L454.5 139.55 L455.5 139.79 L456.5 140.02 L457.5 140.24 L458.5 140.47 L459.5 140.69 L460.5 140.91 L461.5 141.13 L462.5 141.35 L463.5 141.56 L464.5 141.78 L465.5 141.99 L466.5 142.2 L467.5 142.4 L468.5 142.61 L469.5 142.81 L470.5 143.01 L471.5 143.21 L472.5 143.41 L473.5 143.61 L474.5 143.8 L475.5 144 L476.5 144.19 L477.5 144.38 L478.5 144.56 L479.5 144.75 L480.5 144.94 L481.5 145.12 L482.5 145.3 L483.5 145.48 L484.5 145.66 L485.5 145.84 L486.5 146.01 L487.5 146.19 L488.5 146.36 L489.5 146.53 L490.5 146.7 L491.5 146.87 L492.5 147.04 L493.5 147.21 L494.5 147.37 L495.5 147.54 L496.5 147.7 L497.5 147.86 L498.5 148.02 L499.5 148.18 L500.5 148.34 L501.5 148.49 L502.5 148.65 L503.5 148.8 L504.5 148.95 L505.5 149.1 L506.5 149.26 L507.5 149.4 L508.5 149.55 L509.5 149.7 L510.5 149.85 L511.5 149.99 L512.5 150.14 L513.5 150.28 L514.5 150.42 L515.5 150.56 L516.5 150.7 L517.5 150.84 L518.5 150.98 L519.5 151.12 L520.5 151.25 L521.5 151.39 L522.5 151.52 L523.5 151.65 L524.5 151.79 L525.5 151.92 L526.5 152.05 L527.5 152.18 L528.5 152.31 L529.5 152.43 L530.5 152.56 L531.5 152.69 L532.5 152.81 L533.5 152.94 L534.5 153.06 L535.5 153.18 L536.5 153.3 L537.5 153.42 L538.5 153.54 L539.5 153.66 L540.5 153.78 L541.5 153.9 L542.5 154.02 L543.5 154.13 L544.5 154.25 L545.5 154.36 L546.5 154.48 L547.5 154.59 L548.5 154.71 L549.5 154.82 L550.5 154.93 L551.5 155.04 L552.5 155.15 L553.5 155.26 L554.5 155.37 L555.5 155.47 L556.5 155.58 L557.5 155.69 L558.5 155.79 L559.5 155.9 L560.5 156 L561.5 156.11 L562.5 156.21 L563.5 156.31 L564.5 156.42 L565.5 156.52 L566.5 156.62 L567.5 156.72 L568.5 156.82 L569.5 156.92 L570.5 157.01 L571.5 157.11 L572.5 157.21 L573.5 157.31 L574.5 157.4 L575.5 157.5 L576.5 157.59 L577.5 157.69 L578.5 157.78 L579.5 157.87 L580.5 157.97 L581.5 158.06 L582.5 158.15 L583.5 158.24 L584.5 158.33 L585.5 158.42 L586.5 158.51 L587.5 158.6 L588.5 158.69 L589.5 158.78 L590.5 158.87 L591.5 158.95 L592.5 159.04 L593.5 159.13 L594.5 159.21 L595.5 159.3 L596.5 159.38 L597.5 159.46 L598.5 159.55 L599.5 159.63 L600.5 159.71 L601.5 159.8 L602.5 159.88 L603.5 159.96 L604.5 160.04 L605.5 160.12 L606.5 160.2 L607.5 160.28 L608.5 160.36 L609.5 160.44 L610.5 160.52 L611.5 160.6 L612.5 160.67 L613.5 160.75 L614.5 160.83 L615.5 160.9 L616.5 160.98 L617.5 161.06 L618.5 161.13 L619.5 161.21 L620.5 161.28 L621.5 161.35 L622.5 161.43 L623.5 161.5 L624.5 161.57 L625.5 161.65 L626.5 161.72 L627.5 161.79 L628.5 161.86 L629.5 161.93 L630.5 162 L631.5 162.07 L632.5 162.14 L633.5 162.21 L634.5 162.28 L635.5 162.35 L636.5 162.42 L637.5 162.49 L638.5 162.55 L639.5 162.62 L640.5 162.69 L641.5 162.76 L642.5 162.82 L643.5 162.89 L644.5 162.95 L645.5 163.02 L646.5 163.08 L647.5 163.15 L648.5 163.21 L649.5 163.28 L650.5 163.34 L651.5 163.4 L652.5 163.47 L653.5 163.53 L654.5 163.59 L655.5 163.66 L656.5 163.72 L657.5 163.78 L658.5 163.84 L659.5 163.9 L660.5 163.96 L661.5 164.02 L662.5 164.08 L663.5 164.14 L664.5 164.2 L665.5 164.26 L666.5 164.32 L667.5 164.38 L668.5 164.44 L669.5 164.5 L670.5 164.55 L671.5 164.61 L672.5 164.67 L673.5 164.73 L674.5 164.78 L675.5 164.84 L676.5 164.9 L677.5 164.95 L678.5 165.01" fill="none" stroke="#87cefa" stroke-width="2.2" clip-path="url(#Bmain)"/>
<path d="M383.5 131.03 L384.5 131.32 L385.5 131.62 L386.5 131.91 L387.5 132.2 L388.5 132.49 L389.5 132.78 L390.5 133.07 L391.5 133.36 L392.5 133.65 L393.5 133.93 L394.5 134.22 L395.5 134.5 L396.5 134.78 L397.5 135.06 L398.5 135.34 L399.5 135.62 L400.5 135.89 L401.5 136.17 L402.5 136.44 L403.5 136.71 L404.5 136.98 L405.5 137.24 L406.5 137.51 L407.5 137.77 L408.5 138.03 L409.5 138.29 L410.5 138.55 L411.5 138.8 L412.5 139.06 L413.5 139.31 L414.5 139.56 L415.5 139.81 L416.5 140.05 L417.5 140.3 L418.5 140.54 L419.5 140.78 L420.5 141.02 L421.5 141.25 L422.5 141.49 L423.5 141.72 L424.5 141.95 L425.5 142.18 L426.5 142.41 L427.5 142.64 L428.5 142.86 L429.5 143.08 L430.5 143.31 L431.5 143.52 L432.5 143.74 L433.5 143.96 L434.5 144.17 L435.5 144.38 L436.5 144.59 L437.5 144.8 L438.5 145.01 L439.5 145.22 L440.5 145.42 L441.5 145.62 L442.5 145.83 L443.5 146.02 L444.5 146.22 L445.5 146.42 L446.5 146.61 L447.5 146.81 L448.5 147 L449.5 147.19 L450.5 147.38 L451.5 147.56 L452.5 147.75 L453.5 147.94 L454.5 148.12 L455.5 148.3 L456.5 148.48 L457.5 148.66 L458.5 148.84 L459.5 149.01 L460.5 149.19 L461.5 149.36 L462.5 149.53 L463.5 149.7 L464.5 149.87 L465.5 150.04 L466.5 150.21 L467.5 150.37 L468.5 150.54 L469.5 150.7 L470.5 150.86 L471.5 151.02 L472.5 151.18 L473.5 151.34 L474.5 151.49 L475.5 151.65 L476.5 151.8 L477.5 151.96 L478.5 152.11 L479.5 152.26 L480.5 152.41 L481.5 152.56 L482.5 152.71 L483.5 152.85 L484.5 153 L485.5 153.14 L486.5 153.29 L487.5 153.43 L488.5 153.57 L489.5 153.71 L490.5 153.85 L491.5 153.99 L492.5 154.12 L493.5 154.26 L494.5 154.39 L495.5 154.53 L496.5 154.66 L497.5 154.79 L498.5 154.92 L499.5 155.05 L500.5 155.18 L501.5 155.31 L502.5 155.44 L503.5 155.56 L504.5 155.69 L505.5 155.81 L506.5 155.94 L507.5 156.06 L508.5 156.18 L509.5 156.3 L510.5 156.42 L511.5 156.54 L512.5 156.66 L513.5 156.77 L514.5 156.89 L515.5 157.01 L516.5 157.12 L517.5 157.23 L518.5 157.35 L519.5 157.46 L520.5 157.57 L521.5 157.68 L522.5 157.79 L523.5 157.9 L524.5 158.01 L525.5 158.12 L526.5 158.22 L527.5 158.33 L528.5 158.43 L529.5 158.54 L530.5 158.64 L531.5 158.75 L532.5 158.85 L533.5 158.95 L534.5 159.05 L535.5 159.15 L536.5 159.25 L537.5 159.35 L538.5 159.45 L539.5 159.54 L540.5 159.64 L541.5 159.74 L542.5 159.83 L543.5 159.93 L544.5 160.02 L545.5 160.11 L546.5 160.21 L547.5 160.3 L548.5 160.39 L549.5 160.48 L550.5 160.57 L551.5 160.66 L552.5 160.75 L553.5 160.84 L554.5 160.92 L555.5 161.01 L556.5 161.1 L557.5 161.18 L558.5 161.27 L559.5 161.35 L560.5 161.44 L561.5 161.52 L562.5 161.6 L563.5 161.68 L564.5 161.77 L565.5 161.85 L566.5 161.93 L567.5 162.01 L568.5 162.09 L569.5 162.16 L570.5 162.24 L571.5 162.32 L572.5 162.4 L573.5 162.47 L574.5 162.55 L575.5 162.63 L576.5 162.7 L577.5 162.77 L578.5 162.85 L579.5 162.92 L580.5 163 L581.5 163.07 L582.5 163.14 L583.5 163.21 L584.5 163.28 L585.5 163.35 L586.5 163.42 L587.5 163.49 L588.5 163.56 L589.5 163.63 L590.5 163.7 L591.5 163.76 L592.5 163.83 L593.5 163.9 L594.5 163.96 L595.5 164.03 L596.5 164.1 L597.5 164.16 L598.5 164.22 L599.5 164.29 L600.5 164.35 L601.5 164.41 L602.5 164.48 L603.5 164.54 L604.5 164.6 L605.5 164.66 L606.5 164.72 L607.5 164.78 L608.5 164.84 L609.5 164.9 L610.5 164.96 L611.5 165.02 L612.5 165.08 L613.5 165.14 L614.5 165.19 L615.5 165.25 L616.5 165.31 L617.5 165.36 L618.5 165.42 L619.5 165.47 L620.5 165.53 L621.5 165.58 L622.5 165.64 L623.5 165.69 L624.5 165.75 L625.5 165.8 L626.5 165.85 L627.5 165.9 L628.5 165.96 L629.5 166.01 L630.5 166.06 L631.5 166.11 L632.5 166.16 L633.5 166.21 L634.5 166.26 L635.5 166.31 L636.5 166.36 L637.5 166.41 L638.5 166.46 L639.5 166.51 L640.5 166.55 L641.5 166.6 L642.5 166.65 L643.5 166.69 L644.5 166.74 L645.5 166.79 L646.5 166.83 L647.5 166.88 L648.5 166.92 L649.5 166.97 L650.5 167.01 L651.5 167.06 L652.5 167.1 L653.5 167.14 L654.5 167.19 L655.5 167.23 L656.5 167.27 L657.5 167.31 L658.5 167.36 L659.5 167.4 L660.5 167.44 L661.5 167.48 L662.5 167.52 L663.5 167.56 L664.5 167.6 L665.5 167.64 L666.5 167.68 L667.5 167.72 L668.5 167.76 L669.5 167.8 L670.5 167.84 L671.5 167.87 L672.5 167.91 L673.5 167.95 L674.5 167.99 L675.5 168.02 L676.5 168.06 L677.5 168.1 L678.5 168.13" fill="none" stroke="#ff8c00" stroke-width="2.2" clip-path="url(#Bmain)"/>
<line x1="383.5" y1="249.1" x2="678.5" y2="249.1" stroke="#ff8c00" stroke-width="2.0"/>
<path d="M383.5 190.05 L384.5 190.27 L385.5 190.58 L386.5 190.97 L387.5 191.42 L388.5 191.93 L389.5 192.49 L390.5 193.08 L391.5 193.7 L392.5 194.34 L393.5 195 L394.5 195.67 L395.5 196.36 L396.5 197.05 L397.5 197.74 L398.5 198.43 L399.5 199.12 L400.5 199.81 L401.5 200.5 L402.5 201.18 L403.5 201.85 L404.5 202.51 L405.5 203.17 L406.5 203.81 L407.5 204.45 L408.5 205.08 L409.5 205.69 L410.5 206.3 L411.5 206.89 L412.5 207.48 L413.5 208.05 L414.5 208.61 L415.5 209.16 L416.5 209.71 L417.5 210.24 L418.5 210.76 L419.5 211.26 L420.5 211.76 L421.5 212.25 L422.5 212.73 L423.5 213.2 L424.5 213.66 L425.5 214.11 L426.5 214.55 L427.5 214.98 L428.5 215.4 L429.5 215.82 L430.5 216.22 L431.5 216.62 L432.5 217.01 L433.5 217.39 L434.5 217.76 L435.5 218.13 L436.5 218.49 L437.5 218.84 L438.5 219.18 L439.5 219.52 L440.5 219.85 L441.5 220.17 L442.5 220.49 L443.5 220.8 L444.5 221.11 L445.5 221.4 L446.5 221.7 L447.5 221.99 L448.5 222.27 L449.5 222.54 L450.5 222.82 L451.5 223.08 L452.5 223.34 L453.5 223.6 L454.5 223.85 L455.5 224.1 L456.5 224.34 L457.5 224.58 L458.5 224.82 L459.5 225.05 L460.5 225.27 L461.5 225.49 L462.5 225.71 L463.5 225.93 L464.5 226.14 L465.5 226.34 L466.5 226.55 L467.5 226.75 L468.5 226.94 L469.5 227.14 L470.5 227.33 L471.5 227.52 L472.5 227.7 L473.5 227.88 L474.5 228.06 L475.5 228.23 L476.5 228.41 L477.5 228.58 L478.5 228.74 L479.5 228.91 L480.5 229.07 L481.5 229.23 L482.5 229.39 L483.5 229.54 L484.5 229.69 L485.5 229.84 L486.5 229.99 L487.5 230.14 L488.5 230.28 L489.5 230.42 L490.5 230.56 L491.5 230.7 L492.5 230.83 L493.5 230.97 L494.5 231.1 L495.5 231.23 L496.5 231.35 L497.5 231.48 L498.5 231.6 L499.5 231.73 L500.5 231.85 L501.5 231.97 L502.5 232.09 L503.5 232.2 L504.5 232.32 L505.5 232.43 L506.5 232.54 L507.5 232.65 L508.5 232.76 L509.5 232.87 L510.5 232.97 L511.5 233.08 L512.5 233.18 L513.5 233.28 L514.5 233.38 L515.5 233.48 L516.5 233.58 L517.5 233.68 L518.5 233.77 L519.5 233.87 L520.5 233.96 L521.5 234.06 L522.5 234.15 L523.5 234.24 L524.5 234.33 L525.5 234.41 L526.5 234.5 L527.5 234.59 L528.5 234.67 L529.5 234.76 L530.5 234.84 L531.5 234.92 L532.5 235 L533.5 235.08 L534.5 235.16 L535.5 235.24 L536.5 235.32 L537.5 235.4 L538.5 235.47 L539.5 235.55 L540.5 235.62 L541.5 235.7 L542.5 235.77 L543.5 235.84 L544.5 235.91 L545.5 235.99 L546.5 236.06 L547.5 236.12 L548.5 236.19 L549.5 236.26 L550.5 236.33 L551.5 236.39 L552.5 236.46 L553.5 236.53 L554.5 236.59 L555.5 236.65 L556.5 236.72 L557.5 236.78 L558.5 236.84 L559.5 236.9 L560.5 236.96 L561.5 237.02 L562.5 237.08 L563.5 237.14 L564.5 237.2 L565.5 237.26 L566.5 237.32 L567.5 237.37 L568.5 237.43 L569.5 237.49 L570.5 237.54 L571.5 237.6 L572.5 237.65 L573.5 237.71 L574.5 237.76 L575.5 237.81 L576.5 237.86 L577.5 237.92 L578.5 237.97 L579.5 238.02 L580.5 238.07 L581.5 238.12 L582.5 238.17 L583.5 238.22 L584.5 238.27 L585.5 238.32 L586.5 238.36 L587.5 238.41 L588.5 238.46 L589.5 238.51 L590.5 238.55 L591.5 238.6 L592.5 238.64 L593.5 238.69 L594.5 238.73 L595.5 238.78 L596.5 238.82 L597.5 238.87 L598.5 238.91 L599.5 238.95 L600.5 239 L601.5 239.04 L602.5 239.08 L603.5 239.12 L604.5 239.16 L605.5 239.21 L606.5 239.25 L607.5 239.29 L608.5 239.33 L609.5 239.37 L610.5 239.41 L611.5 239.45 L612.5 239.49 L613.5 239.52 L614.5 239.56 L615.5 239.6 L616.5 239.64 L617.5 239.68 L618.5 239.71 L619.5 239.75 L620.5 239.79 L621.5 239.82 L622.5 239.86 L623.5 239.9 L624.5 239.93 L625.5 239.97 L626.5 240 L627.5 240.04 L628.5 240.07 L629.5 240.11 L630.5 240.14 L631.5 240.17 L632.5 240.21 L633.5 240.24 L634.5 240.28 L635.5 240.31 L636.5 240.34 L637.5 240.37 L638.5 240.41 L639.5 240.44 L640.5 240.47 L641.5 240.5 L642.5 240.53 L643.5 240.56 L644.5 240.6 L645.5 240.63 L646.5 240.66 L647.5 240.69 L648.5 240.72 L649.5 240.75 L650.5 240.78 L651.5 240.81 L652.5 240.84 L653.5 240.87 L654.5 240.89 L655.5 240.92 L656.5 240.95 L657.5 240.98 L658.5 241.01 L659.5 241.04 L660.5 241.07 L661.5 241.09 L662.5 241.12 L663.5 241.15 L664.5 241.18 L665.5 241.2 L666.5 241.23 L667.5 241.26 L668.5 241.28 L669.5 241.31 L670.5 241.34 L671.5 241.36 L672.5 241.39 L673.5 241.41 L674.5 241.44 L675.5 241.46 L676.5 241.49 L677.5 241.52 L678.5 241.54" fill="none" stroke="#87cefa" stroke-width="2.2" clip-path="url(#Bb)"/>
<path d="M383.5 257.66 L384.5 258.29 L385.5 258.95 L386.5 259.63 L387.5 260.33 L388.5 261.05 L389.5 261.78 L390.5 262.52 L391.5 263.27 L392.5 264.02 L393.5 264.77 L394.5 265.53 L395.5 266.28 L396.5 267.04 L397.5 267.79 L398.5 268.54 L399.5 269.28 L400.5 270.01 L401.5 270.74 L402.5 271.46 L403.5 272.17 L404.5 272.88 L405.5 273.58 L406.5 274.26 L407.5 274.94 L408.5 275.61 L409.5 276.27 L410.5 276.91 L411.5 277.55 L412.5 278.18 L413.5 278.8 L414.5 279.41 L415.5 280 L416.5 280.59 L417.5 281.17 L418.5 281.74 L419.5 282.3 L420.5 282.85 L421.5 283.38 L422.5 283.91 L423.5 284.43 L424.5 284.94 L425.5 285.45 L426.5 285.94 L427.5 286.42 L428.5 286.9 L429.5 287.36 L430.5 287.82 L431.5 288.27 L432.5 288.71 L433.5 289.14 L434.5 289.57 L435.5 289.99 L436.5 290.4 L437.5 290.8 L438.5 291.19 L439.5 291.58 L440.5 291.96 L441.5 292.34 L442.5 292.7 L443.5 293.05 L444.5 293.4 L445.5 293.74 L446.5 294.07 L447.5 294.39 L448.5 294.71 L449.5 295.03 L450.5 295.34 L451.5 295.64 L452.5 295.93 L453.5 296.23 L454.5 296.51 L455.5 296.79 L456.5 297.07 L457.5 297.34 L458.5 297.61 L459.5 297.87 L460.5 298.12 L461.5 298.38 L462.5 298.62 L463.5 298.87 L464.5 299.11 L465.5 299.34 L466.5 299.57 L467.5 299.8 L468.5 300.02 L469.5 300.24 L470.5 300.45 L471.5 300.66 L472.5 300.87 L473.5 301.08 L474.5 301.28 L475.5 301.47 L476.5 301.67 L477.5 301.86 L478.5 302.04 L479.5 302.23 L480.5 302.41 L481.5 302.59 L482.5 302.76 L483.5 302.93 L484.5 303.1 L485.5 303.27 L486.5 303.43 L487.5 303.59 L488.5 303.75 L489.5 303.91 L490.5 304.06 L491.5 304.21 L492.5 304.36 L493.5 304.5 L494.5 304.65 L495.5 304.79 L496.5 304.93 L497.5 305.06 L498.5 305.2 L499.5 305.33 L500.5 305.46 L501.5 305.59 L502.5 305.72 L503.5 305.84 L504.5 305.96 L505.5 306.08 L506.5 306.2 L507.5 306.32 L508.5 306.43 L509.5 306.55 L510.5 306.66 L511.5 306.77 L512.5 306.88 L513.5 306.98 L514.5 307.09 L515.5 307.19 L516.5 307.29 L517.5 307.39 L518.5 307.49 L519.5 307.59 L520.5 307.68 L521.5 307.78 L522.5 307.87 L523.5 307.96 L524.5 308.05 L525.5 308.14 L526.5 308.23 L527.5 308.32 L528.5 308.4 L529.5 308.49 L530.5 308.57 L531.5 308.65 L532.5 308.73 L533.5 308.81 L534.5 308.89 L535.5 308.96 L536.5 309.04 L537.5 309.11 L538.5 309.19 L539.5 309.26 L540.5 309.33 L541.5 309.4 L542.5 309.47 L543.5 309.54 L544.5 309.61 L545.5 309.68 L546.5 309.74 L547.5 309.81 L548.5 309.87 L549.5 309.94 L550.5 310 L551.5 310.06 L552.5 310.12 L553.5 310.18 L554.5 310.24 L555.5 310.3 L556.5 310.36 L557.5 310.41 L558.5 310.47 L559.5 310.52 L560.5 310.58 L561.5 310.63 L562.5 310.69 L563.5 310.74 L564.5 310.79 L565.5 310.84 L566.5 310.89 L567.5 310.94 L568.5 310.99 L569.5 311.04 L570.5 311.09 L571.5 311.14 L572.5 311.18 L573.5 311.23 L574.5 311.27 L575.5 311.32 L576.5 311.36 L577.5 311.41 L578.5 311.45 L579.5 311.49 L580.5 311.54 L581.5 311.58 L582.5 311.62 L583.5 311.66 L584.5 311.7 L585.5 311.74 L586.5 311.78 L587.5 311.82 L588.5 311.85 L589.5 311.89 L590.5 311.93 L591.5 311.97 L592.5 312 L593.5 312.04 L594.5 312.07 L595.5 312.11 L596.5 312.14 L597.5 312.18 L598.5 312.21 L599.5 312.25 L600.5 312.28 L601.5 312.31 L602.5 312.34 L603.5 312.37 L604.5 312.41 L605.5 312.44 L606.5 312.47 L607.5 312.5 L608.5 312.53 L609.5 312.56 L610.5 312.59 L611.5 312.62 L612.5 312.64 L613.5 312.67 L614.5 312.7 L615.5 312.73 L616.5 312.76 L617.5 312.78 L618.5 312.81 L619.5 312.84 L620.5 312.86 L621.5 312.89 L622.5 312.91 L623.5 312.94 L624.5 312.96 L625.5 312.99 L626.5 313.01 L627.5 313.04 L628.5 313.06 L629.5 313.08 L630.5 313.11 L631.5 313.13 L632.5 313.15 L633.5 313.18 L634.5 313.2 L635.5 313.22 L636.5 313.24 L637.5 313.26 L638.5 313.28 L639.5 313.31 L640.5 313.33 L641.5 313.35 L642.5 313.37 L643.5 313.39 L644.5 313.41 L645.5 313.43 L646.5 313.45 L647.5 313.47 L648.5 313.48 L649.5 313.5 L650.5 313.52 L651.5 313.54 L652.5 313.56 L653.5 313.58 L654.5 313.59 L655.5 313.61 L656.5 313.63 L657.5 313.65 L658.5 313.66 L659.5 313.68 L660.5 313.7 L661.5 313.71 L662.5 313.73 L663.5 313.75 L664.5 313.76 L665.5 313.78 L666.5 313.79 L667.5 313.81 L668.5 313.82 L669.5 313.84 L670.5 313.86 L671.5 313.87 L672.5 313.88 L673.5 313.9 L674.5 313.91 L675.5 313.93 L676.5 313.94 L677.5 313.96 L678.5 313.97 L678.5 314.77 L677.5 314.76 L676.5 314.75 L675.5 314.73 L674.5 314.72 L673.5 314.71 L672.5 314.69 L671.5 314.68 L670.5 314.67 L669.5 314.66 L668.5 314.64 L667.5 314.63 L666.5 314.61 L665.5 314.6 L664.5 314.59 L663.5 314.57 L662.5 314.56 L661.5 314.54 L660.5 314.53 L659.5 314.51 L658.5 314.5 L657.5 314.48 L656.5 314.47 L655.5 314.45 L654.5 314.43 L653.5 314.42 L652.5 314.4 L651.5 314.39 L650.5 314.37 L649.5 314.35 L648.5 314.34 L647.5 314.32 L646.5 314.3 L645.5 314.28 L644.5 314.26 L643.5 314.25 L642.5 314.23 L641.5 314.21 L640.5 314.19 L639.5 314.17 L638.5 314.15 L637.5 314.13 L636.5 314.11 L635.5 314.09 L634.5 314.07 L633.5 314.05 L632.5 314.03 L631.5 314.01 L630.5 313.99 L629.5 313.97 L628.5 313.95 L627.5 313.92 L626.5 313.9 L625.5 313.88 L624.5 313.86 L623.5 313.83 L622.5 313.81 L621.5 313.78 L620.5 313.76 L619.5 313.74 L618.5 313.71 L617.5 313.69 L616.5 313.66 L615.5 313.64 L614.5 313.61 L613.5 313.58 L612.5 313.56 L611.5 313.53 L610.5 313.5 L609.5 313.48 L608.5 313.45 L607.5 313.42 L606.5 313.39 L605.5 313.36 L604.5 313.33 L603.5 313.3 L602.5 313.27 L601.5 313.24 L600.5 313.21 L599.5 313.18 L598.5 313.15 L597.5 313.12 L596.5 313.08 L595.5 313.05 L594.5 313.02 L593.5 312.98 L592.5 312.95 L591.5 312.91 L590.5 312.88 L589.5 312.84 L588.5 312.81 L587.5 312.77 L586.5 312.73 L585.5 312.7 L584.5 312.66 L583.5 312.62 L582.5 312.58 L581.5 312.54 L580.5 312.5 L579.5 312.46 L578.5 312.42 L577.5 312.38 L576.5 312.34 L575.5 312.29 L574.5 312.25 L573.5 312.21 L572.5 312.16 L571.5 312.12 L570.5 312.07 L569.5 312.03 L568.5 311.98 L567.5 311.93 L566.5 311.88 L565.5 311.83 L564.5 311.78 L563.5 311.73 L562.5 311.68 L561.5 311.63 L560.5 311.58 L559.5 311.53 L558.5 311.47 L557.5 311.42 L556.5 311.36 L555.5 311.31 L554.5 311.25 L553.5 311.19 L552.5 311.13 L551.5 311.08 L550.5 311.02 L549.5 310.95 L548.5 310.89 L547.5 310.83 L546.5 310.77 L545.5 310.7 L544.5 310.64 L543.5 310.57 L542.5 310.5 L541.5 310.44 L540.5 310.37 L539.5 310.3 L538.5 310.23 L537.5 310.15 L536.5 310.08 L535.5 310.01 L534.5 309.93 L533.5 309.85 L532.5 309.78 L531.5 309.7 L530.5 309.62 L529.5 309.54 L528.5 309.46 L527.5 309.37 L526.5 309.29 L525.5 309.2 L524.5 309.11 L523.5 309.03 L522.5 308.94 L521.5 308.84 L520.5 308.75 L519.5 308.66 L518.5 308.56 L517.5 308.46 L516.5 308.37 L515.5 308.27 L514.5 308.16 L513.5 308.06 L512.5 307.96 L511.5 307.85 L510.5 307.74 L509.5 307.63 L508.5 307.52 L507.5 307.41 L506.5 307.29 L505.5 307.18 L504.5 307.06 L503.5 306.94 L502.5 306.81 L501.5 306.69 L500.5 306.56 L499.5 306.43 L498.5 306.3 L497.5 306.17 L496.5 306.04 L495.5 305.9 L494.5 305.76 L493.5 305.62 L492.5 305.47 L491.5 305.33 L490.5 305.18 L489.5 305.03 L488.5 304.87 L487.5 304.72 L486.5 304.56 L485.5 304.4 L484.5 304.23 L483.5 304.06 L482.5 303.89 L481.5 303.72 L480.5 303.54 L479.5 303.37 L478.5 303.18 L477.5 303 L476.5 302.81 L475.5 302.62 L474.5 302.42 L473.5 302.22 L472.5 302.02 L471.5 301.82 L470.5 301.61 L469.5 301.39 L468.5 301.18 L467.5 300.95 L466.5 300.73 L465.5 300.5 L464.5 300.27 L463.5 300.03 L462.5 299.79 L461.5 299.54 L460.5 299.29 L459.5 299.04 L458.5 298.78 L457.5 298.51 L456.5 298.25 L455.5 297.97 L454.5 297.69 L453.5 297.41 L452.5 297.12 L451.5 296.82 L450.5 296.52 L449.5 296.22 L448.5 295.9 L447.5 295.58 L446.5 295.26 L445.5 294.93 L444.5 294.59 L443.5 294.25 L442.5 293.9 L441.5 293.55 L440.5 293.2 L439.5 292.84 L438.5 292.47 L437.5 292.1 L436.5 291.72 L435.5 291.33 L434.5 290.93 L433.5 290.53 L432.5 290.11 L431.5 289.69 L430.5 289.26 L429.5 288.83 L428.5 288.38 L427.5 287.93 L426.5 287.46 L425.5 286.99 L424.5 286.51 L423.5 286.02 L422.5 285.52 L421.5 285.01 L420.5 284.49 L419.5 283.96 L418.5 283.43 L417.5 282.88 L416.5 282.32 L415.5 281.75 L414.5 281.18 L413.5 280.59 L412.5 279.99 L411.5 279.38 L410.5 278.76 L409.5 278.14 L408.5 277.5 L407.5 276.85 L406.5 276.19 L405.5 275.53 L404.5 274.85 L403.5 274.17 L402.5 273.47 L401.5 272.77 L400.5 272.07 L399.5 271.35 L398.5 270.63 L397.5 269.9 L396.5 269.17 L395.5 268.44 L394.5 267.71 L393.5 266.97 L392.5 266.23 L391.5 265.5 L390.5 264.78 L389.5 264.06 L388.5 263.35 L387.5 262.65 L386.5 261.97 L385.5 261.31 L384.5 260.67 L383.5 260.06Z" fill="#87cefa" fill-opacity="0.35" stroke="none" clip-path="url(#Bl)"/>
<line x1="383.5" y1="317.7" x2="678.5" y2="317.7" stroke="#ff8c00" stroke-width="2.0" stroke-dasharray="6.2 2.1 1.7 2.1"/>
<path d="M383.5 258.86 L384.5 259.48 L385.5 260.13 L386.5 260.8 L387.5 261.49 L388.5 262.2 L389.5 262.92 L390.5 263.65 L391.5 264.38 L392.5 265.13 L393.5 265.87 L394.5 266.62 L395.5 267.36 L396.5 268.11 L397.5 268.85 L398.5 269.58 L399.5 270.31 L400.5 271.04 L401.5 271.76 L402.5 272.47 L403.5 273.17 L404.5 273.87 L405.5 274.55 L406.5 275.23 L407.5 275.89 L408.5 276.55 L409.5 277.2 L410.5 277.84 L411.5 278.47 L412.5 279.08 L413.5 279.69 L414.5 280.29 L415.5 280.88 L416.5 281.46 L417.5 282.02 L418.5 282.58 L419.5 283.13 L420.5 283.67 L421.5 284.2 L422.5 284.72 L423.5 285.23 L424.5 285.73 L425.5 286.22 L426.5 286.7 L427.5 287.17 L428.5 287.64 L429.5 288.09 L430.5 288.54 L431.5 288.98 L432.5 289.41 L433.5 289.84 L434.5 290.25 L435.5 290.66 L436.5 291.06 L437.5 291.45 L438.5 291.83 L439.5 292.21 L440.5 292.58 L441.5 292.95 L442.5 293.3 L443.5 293.65 L444.5 294 L445.5 294.33 L446.5 294.66 L447.5 294.99 L448.5 295.31 L449.5 295.62 L450.5 295.93 L451.5 296.23 L452.5 296.53 L453.5 296.82 L454.5 297.1 L455.5 297.38 L456.5 297.66 L457.5 297.93 L458.5 298.19 L459.5 298.45 L460.5 298.71 L461.5 298.96 L462.5 299.21 L463.5 299.45 L464.5 299.69 L465.5 299.92 L466.5 300.15 L467.5 300.38 L468.5 300.6 L469.5 300.82 L470.5 301.03 L471.5 301.24 L472.5 301.45 L473.5 301.65 L474.5 301.85 L475.5 302.05 L476.5 302.24 L477.5 302.43 L478.5 302.61 L479.5 302.8 L480.5 302.98 L481.5 303.15 L482.5 303.33 L483.5 303.5 L484.5 303.67 L485.5 303.83 L486.5 303.99 L487.5 304.15 L488.5 304.31 L489.5 304.47 L490.5 304.62 L491.5 304.77 L492.5 304.92 L493.5 305.06 L494.5 305.2 L495.5 305.34 L496.5 305.48 L497.5 305.62 L498.5 305.75 L499.5 305.88 L500.5 306.01 L501.5 306.14 L502.5 306.26 L503.5 306.39 L504.5 306.51 L505.5 306.63 L506.5 306.75 L507.5 306.86 L508.5 306.98 L509.5 307.09 L510.5 307.2 L511.5 307.31 L512.5 307.42 L513.5 307.52 L514.5 307.63 L515.5 307.73 L516.5 307.83 L517.5 307.93 L518.5 308.03 L519.5 308.12 L520.5 308.22 L521.5 308.31 L522.5 308.4 L523.5 308.49 L524.5 308.58 L525.5 308.67 L526.5 308.76 L527.5 308.84 L528.5 308.93 L529.5 309.01 L530.5 309.09 L531.5 309.17 L532.5 309.25 L533.5 309.33 L534.5 309.41 L535.5 309.49 L536.5 309.56 L537.5 309.63 L538.5 309.71 L539.5 309.78 L540.5 309.85 L541.5 309.92 L542.5 309.99 L543.5 310.06 L544.5 310.12 L545.5 310.19 L546.5 310.26 L547.5 310.32 L548.5 310.38 L549.5 310.45 L550.5 310.51 L551.5 310.57 L552.5 310.63 L553.5 310.69 L554.5 310.75 L555.5 310.8 L556.5 310.86 L557.5 310.92 L558.5 310.97 L559.5 311.03 L560.5 311.08 L561.5 311.13 L562.5 311.18 L563.5 311.24 L564.5 311.29 L565.5 311.34 L566.5 311.39 L567.5 311.44 L568.5 311.48 L569.5 311.53 L570.5 311.58 L571.5 311.63 L572.5 311.67 L573.5 311.72 L574.5 311.76 L575.5 311.81 L576.5 311.85 L577.5 311.89 L578.5 311.94 L579.5 311.98 L580.5 312.02 L581.5 312.06 L582.5 312.1 L583.5 312.14 L584.5 312.18 L585.5 312.22 L586.5 312.26 L587.5 312.29 L588.5 312.33 L589.5 312.37 L590.5 312.4 L591.5 312.44 L592.5 312.48 L593.5 312.51 L594.5 312.55 L595.5 312.58 L596.5 312.61 L597.5 312.65 L598.5 312.68 L599.5 312.71 L600.5 312.74 L601.5 312.78 L602.5 312.81 L603.5 312.84 L604.5 312.87 L605.5 312.9 L606.5 312.93 L607.5 312.96 L608.5 312.99 L609.5 313.02 L610.5 313.05 L611.5 313.07 L612.5 313.1 L613.5 313.13 L614.5 313.16 L615.5 313.18 L616.5 313.21 L617.5 313.23 L618.5 313.26 L619.5 313.29 L620.5 313.31 L621.5 313.34 L622.5 313.36 L623.5 313.39 L624.5 313.41 L625.5 313.43 L626.5 313.46 L627.5 313.48 L628.5 313.5 L629.5 313.53 L630.5 313.55 L631.5 313.57 L632.5 313.59 L633.5 313.61 L634.5 313.63 L635.5 313.66 L636.5 313.68 L637.5 313.7 L638.5 313.72 L639.5 313.74 L640.5 313.76 L641.5 313.78 L642.5 313.8 L643.5 313.82 L644.5 313.84 L645.5 313.85 L646.5 313.87 L647.5 313.89 L648.5 313.91 L649.5 313.93 L650.5 313.95 L651.5 313.96 L652.5 313.98 L653.5 314 L654.5 314.01 L655.5 314.03 L656.5 314.05 L657.5 314.06 L658.5 314.08 L659.5 314.1 L660.5 314.11 L661.5 314.13 L662.5 314.14 L663.5 314.16 L664.5 314.17 L665.5 314.19 L666.5 314.2 L667.5 314.22 L668.5 314.23 L669.5 314.25 L670.5 314.26 L671.5 314.28 L672.5 314.29 L673.5 314.3 L674.5 314.32 L675.5 314.33 L676.5 314.34 L677.5 314.36 L678.5 314.37" fill="none" stroke="#87cefa" stroke-width="2.2" stroke-dasharray="6.2 2.1 1.7 2.1" clip-path="url(#Bl)"/>
<path d="M383.5 323.63 L384.5 324.48 L385.5 325.36 L386.5 326.28 L387.5 327.22 L388.5 328.18 L389.5 329.14 L390.5 330.11 L391.5 331.09 L392.5 332.06 L393.5 333.02 L394.5 333.98 L395.5 334.92 L396.5 335.86 L397.5 336.78 L398.5 337.69 L399.5 338.59 L400.5 339.47 L401.5 340.33 L402.5 341.18 L403.5 342.01 L404.5 342.83 L405.5 343.63 L406.5 344.42 L407.5 345.19 L408.5 345.95 L409.5 346.69 L410.5 347.37 L411.5 347.98 L412.5 348.58 L413.5 349.17 L414.5 349.74 L415.5 350.3 L416.5 350.85 L417.5 351.38 L418.5 351.9 L419.5 352.41 L420.5 352.91 L421.5 353.4 L422.5 353.88 L423.5 354.34 L424.5 354.8 L425.5 355.24 L426.5 355.68 L427.5 356.1 L428.5 356.52 L429.5 356.93 L430.5 357.3 L431.5 357.63 L432.5 357.95 L433.5 358.26 L434.5 358.56 L435.5 358.86 L436.5 359.15 L437.5 359.44 L438.5 359.71 L439.5 359.99 L440.5 360.25 L441.5 360.51 L442.5 360.76 L443.5 361.01 L444.5 361.25 L445.5 361.49 L446.5 361.72 L447.5 361.94 L448.5 362.16 L449.5 362.38 L450.5 362.59 L451.5 362.8 L452.5 363 L453.5 363.2 L454.5 363.4 L455.5 363.59 L456.5 363.78 L457.5 363.96 L458.5 364.14 L459.5 364.31 L460.5 364.49 L461.5 364.66 L462.5 364.82 L463.5 364.99 L464.5 365.15 L465.5 365.3 L466.5 365.46 L467.5 365.61 L468.5 365.76 L469.5 365.9 L470.5 366.05 L471.5 366.19 L472.5 366.33 L473.5 366.46 L474.5 366.6 L475.5 366.73 L476.5 366.86 L477.5 366.99 L478.5 367.11 L479.5 367.23 L480.5 367.36 L481.5 367.47 L482.5 367.59 L483.5 367.71 L484.5 367.82 L485.5 367.93 L486.5 368.04 L487.5 368.15 L488.5 368.26 L489.5 368.37 L490.5 368.47 L491.5 368.57 L492.5 368.67 L493.5 368.77 L494.5 368.87 L495.5 368.97 L496.5 369.06 L497.5 369.16 L498.5 369.25 L499.5 369.34 L500.5 369.43 L501.5 369.51 L502.5 369.59 L503.5 369.67 L504.5 369.75 L505.5 369.83 L506.5 369.91 L507.5 369.99 L508.5 370.06 L509.5 370.14 L510.5 370.21 L511.5 370.28 L512.5 370.35 L513.5 370.42 L514.5 370.49 L515.5 370.56 L516.5 370.63 L517.5 370.7 L518.5 370.76 L519.5 370.83 L520.5 370.89 L521.5 370.96 L522.5 371.02 L523.5 371.08 L524.5 371.14 L525.5 371.21 L526.5 371.27 L527.5 371.33 L528.5 371.38 L529.5 371.44 L530.5 371.5 L531.5 371.56 L532.5 371.61 L533.5 371.67 L534.5 371.72 L535.5 371.78 L536.5 371.83 L537.5 371.88 L538.5 371.94 L539.5 371.99 L540.5 372.04 L541.5 372.09 L542.5 372.14 L543.5 372.19 L544.5 372.24 L545.5 372.29 L546.5 372.34 L547.5 372.39 L548.5 372.43 L549.5 372.48 L550.5 372.53 L551.5 372.57 L552.5 372.62 L553.5 372.66 L554.5 372.71 L555.5 372.75 L556.5 372.8 L557.5 372.84 L558.5 372.88 L559.5 372.93 L560.5 372.97 L561.5 373.01 L562.5 373.05 L563.5 373.09 L564.5 373.13 L565.5 373.17 L566.5 373.21 L567.5 373.25 L568.5 373.29 L569.5 373.33 L570.5 373.37 L571.5 373.41 L572.5 373.45 L573.5 373.48 L574.5 373.52 L575.5 373.56 L576.5 373.59 L577.5 373.63 L578.5 373.67 L579.5 373.7 L580.5 373.74 L581.5 373.77 L582.5 373.81 L583.5 373.84 L584.5 373.88 L585.5 373.91 L586.5 373.95 L587.5 373.98 L588.5 374.01 L589.5 374.04 L590.5 374.08 L591.5 374.11 L592.5 374.14 L593.5 374.17 L594.5 374.21 L595.5 374.24 L596.5 374.27 L597.5 374.3 L598.5 374.33 L599.5 374.36 L600.5 374.39 L601.5 374.42 L602.5 374.45 L603.5 374.48 L604.5 374.51 L605.5 374.54 L606.5 374.57 L607.5 374.6 L608.5 374.63 L609.5 374.66 L610.5 374.68 L611.5 374.71 L612.5 374.74 L613.5 374.77 L614.5 374.79 L615.5 374.82 L616.5 374.85 L617.5 374.88 L618.5 374.9 L619.5 374.93 L620.5 374.96 L621.5 374.98 L622.5 375.01 L623.5 375.03 L624.5 375.06 L625.5 375.09 L626.5 375.11 L627.5 375.14 L628.5 375.16 L629.5 375.19 L630.5 375.21 L631.5 375.24 L632.5 375.26 L633.5 375.28 L634.5 375.31 L635.5 375.33 L636.5 375.36 L637.5 375.38 L638.5 375.4 L639.5 375.43 L640.5 375.45 L641.5 375.47 L642.5 375.5 L643.5 375.52 L644.5 375.54 L645.5 375.56 L646.5 375.59 L647.5 375.61 L648.5 375.63 L649.5 375.65 L650.5 375.68 L651.5 375.7 L652.5 375.72 L653.5 375.74 L654.5 375.76 L655.5 375.78 L656.5 375.8 L657.5 375.83 L658.5 375.85 L659.5 375.87 L660.5 375.89 L661.5 375.91 L662.5 375.93 L663.5 375.95 L664.5 375.97 L665.5 375.99 L666.5 376.01 L667.5 376.03 L668.5 376.05 L669.5 376.07 L670.5 376.09 L671.5 376.11 L672.5 376.13 L673.5 376.15 L674.5 376.17 L675.5 376.19 L676.5 376.21 L677.5 376.22 L678.5 376.24 L678.5 377.24 L677.5 377.23 L676.5 377.21 L675.5 377.19 L674.5 377.18 L673.5 377.16 L672.5 377.14 L671.5 377.12 L670.5 377.11 L669.5 377.09 L668.5 377.07 L667.5 377.05 L666.5 377.04 L665.5 377.02 L664.5 377 L663.5 376.98 L662.5 376.97 L661.5 376.95 L660.5 376.93 L659.5 376.91 L658.5 376.89 L657.5 376.87 L656.5 376.85 L655.5 376.84 L654.5 376.82 L653.5 376.8 L652.5 376.78 L651.5 376.76 L650.5 376.74 L649.5 376.72 L648.5 376.7 L647.5 376.68 L646.5 376.66 L645.5 376.64 L644.5 376.62 L643.5 376.6 L642.5 376.58 L641.5 376.56 L640.5 376.54 L639.5 376.51 L638.5 376.49 L637.5 376.47 L636.5 376.45 L635.5 376.43 L634.5 376.41 L633.5 376.39 L632.5 376.36 L631.5 376.34 L630.5 376.32 L629.5 376.3 L628.5 376.27 L627.5 376.25 L626.5 376.23 L625.5 376.2 L624.5 376.18 L623.5 376.16 L622.5 376.13 L621.5 376.11 L620.5 376.09 L619.5 376.06 L618.5 376.04 L617.5 376.01 L616.5 375.99 L615.5 375.96 L614.5 375.94 L613.5 375.91 L612.5 375.89 L611.5 375.86 L610.5 375.84 L609.5 375.81 L608.5 375.78 L607.5 375.76 L606.5 375.73 L605.5 375.7 L604.5 375.68 L603.5 375.65 L602.5 375.62 L601.5 375.59 L600.5 375.57 L599.5 375.54 L598.5 375.51 L597.5 375.48 L596.5 375.45 L595.5 375.42 L594.5 375.39 L593.5 375.36 L592.5 375.34 L591.5 375.31 L590.5 375.27 L589.5 375.24 L588.5 375.21 L587.5 375.18 L586.5 375.15 L585.5 375.12 L584.5 375.09 L583.5 375.06 L582.5 375.02 L581.5 374.99 L580.5 374.96 L579.5 374.92 L578.5 374.89 L577.5 374.86 L576.5 374.82 L575.5 374.79 L574.5 374.75 L573.5 374.72 L572.5 374.68 L571.5 374.65 L570.5 374.61 L569.5 374.58 L568.5 374.54 L567.5 374.5 L566.5 374.46 L565.5 374.43 L564.5 374.39 L563.5 374.35 L562.5 374.31 L561.5 374.27 L560.5 374.23 L559.5 374.19 L558.5 374.15 L557.5 374.11 L556.5 374.07 L555.5 374.03 L554.5 373.99 L553.5 373.94 L552.5 373.9 L551.5 373.86 L550.5 373.81 L549.5 373.77 L548.5 373.72 L547.5 373.68 L546.5 373.63 L545.5 373.59 L544.5 373.54 L543.5 373.49 L542.5 373.45 L541.5 373.4 L540.5 373.35 L539.5 373.3 L538.5 373.25 L537.5 373.2 L536.5 373.15 L535.5 373.1 L534.5 373.05 L533.5 372.99 L532.5 372.94 L531.5 372.89 L530.5 372.83 L529.5 372.78 L528.5 372.72 L527.5 372.66 L526.5 372.61 L525.5 372.55 L524.5 372.49 L523.5 372.43 L522.5 372.37 L521.5 372.31 L520.5 372.25 L519.5 372.19 L518.5 372.12 L517.5 372.06 L516.5 371.99 L515.5 371.93 L514.5 371.86 L513.5 371.79 L512.5 371.73 L511.5 371.66 L510.5 371.59 L509.5 371.51 L508.5 371.44 L507.5 371.37 L506.5 371.29 L505.5 371.22 L504.5 371.14 L503.5 371.07 L502.5 370.99 L501.5 370.91 L500.5 370.83 L499.5 370.75 L498.5 370.67 L497.5 370.59 L496.5 370.51 L495.5 370.43 L494.5 370.35 L493.5 370.26 L492.5 370.18 L491.5 370.09 L490.5 370 L489.5 369.92 L488.5 369.82 L487.5 369.73 L486.5 369.64 L485.5 369.54 L484.5 369.44 L483.5 369.34 L482.5 369.24 L481.5 369.14 L480.5 369.03 L479.5 368.93 L478.5 368.82 L477.5 368.71 L476.5 368.59 L475.5 368.48 L474.5 368.36 L473.5 368.24 L472.5 368.12 L471.5 368 L470.5 367.87 L469.5 367.74 L468.5 367.61 L467.5 367.47 L466.5 367.34 L465.5 367.2 L464.5 367.05 L463.5 366.91 L462.5 366.76 L461.5 366.61 L460.5 366.45 L459.5 366.29 L458.5 366.13 L457.5 365.97 L456.5 365.8 L455.5 365.62 L454.5 365.45 L453.5 365.27 L452.5 365.08 L451.5 364.89 L450.5 364.7 L449.5 364.5 L448.5 364.3 L447.5 364.09 L446.5 363.88 L445.5 363.67 L444.5 363.44 L443.5 363.22 L442.5 362.98 L441.5 362.74 L440.5 362.5 L439.5 362.25 L438.5 361.99 L437.5 361.73 L436.5 361.46 L435.5 361.18 L434.5 360.9 L433.5 360.61 L432.5 360.31 L431.5 360 L430.5 359.69 L429.5 359.4 L428.5 359.13 L427.5 358.85 L426.5 358.57 L425.5 358.27 L424.5 357.97 L423.5 357.65 L422.5 357.33 L421.5 356.99 L420.5 356.64 L419.5 356.28 L418.5 355.91 L417.5 355.53 L416.5 355.14 L415.5 354.73 L414.5 354.31 L413.5 353.88 L412.5 353.43 L411.5 352.97 L410.5 352.5 L409.5 352.05 L408.5 351.65 L407.5 351.22 L406.5 350.78 L405.5 350.33 L404.5 349.86 L403.5 349.37 L402.5 348.87 L401.5 348.35 L400.5 347.82 L399.5 347.27 L398.5 346.71 L397.5 346.13 L396.5 345.54 L395.5 344.94 L394.5 344.32 L393.5 343.7 L392.5 343.07 L391.5 342.43 L390.5 341.79 L389.5 341.15 L388.5 340.52 L387.5 339.89 L386.5 339.28 L385.5 338.7 L384.5 338.15 L383.5 337.63Z" fill="#87cefa" fill-opacity="0.35" stroke="none" clip-path="url(#Bt)"/>
<line x1="383.5" y1="383.91" x2="678.5" y2="383.91" stroke="#ff8c00" stroke-width="2.0" stroke-dasharray="1.9 2.15"/>
<path d="M383.5 330.63 L384.5 331.31 L385.5 332.03 L386.5 332.78 L387.5 333.56 L388.5 334.35 L389.5 335.15 L390.5 335.95 L391.5 336.76 L392.5 337.56 L393.5 338.36 L394.5 339.15 L395.5 339.93 L396.5 340.7 L397.5 341.46 L398.5 342.2 L399.5 342.93 L400.5 343.64 L401.5 344.34 L402.5 345.03 L403.5 345.69 L404.5 346.35 L405.5 346.98 L406.5 347.6 L407.5 348.21 L408.5 348.8 L409.5 349.37 L410.5 349.93 L411.5 350.48 L412.5 351.01 L413.5 351.52 L414.5 352.03 L415.5 352.52 L416.5 352.99 L417.5 353.46 L418.5 353.91 L419.5 354.35 L420.5 354.78 L421.5 355.19 L422.5 355.6 L423.5 356 L424.5 356.38 L425.5 356.76 L426.5 357.12 L427.5 357.48 L428.5 357.83 L429.5 358.16 L430.5 358.49 L431.5 358.82 L432.5 359.13 L433.5 359.43 L434.5 359.73 L435.5 360.02 L436.5 360.31 L437.5 360.58 L438.5 360.85 L439.5 361.12 L440.5 361.38 L441.5 361.63 L442.5 361.87 L443.5 362.11 L444.5 362.35 L445.5 362.58 L446.5 362.8 L447.5 363.02 L448.5 363.23 L449.5 363.44 L450.5 363.65 L451.5 363.85 L452.5 364.04 L453.5 364.23 L454.5 364.42 L455.5 364.61 L456.5 364.79 L457.5 364.96 L458.5 365.13 L459.5 365.3 L460.5 365.47 L461.5 365.63 L462.5 365.79 L463.5 365.95 L464.5 366.1 L465.5 366.25 L466.5 366.4 L467.5 366.54 L468.5 366.68 L469.5 366.82 L470.5 366.96 L471.5 367.09 L472.5 367.22 L473.5 367.35 L474.5 367.48 L475.5 367.6 L476.5 367.73 L477.5 367.85 L478.5 367.96 L479.5 368.08 L480.5 368.19 L481.5 368.31 L482.5 368.42 L483.5 368.53 L484.5 368.63 L485.5 368.74 L486.5 368.84 L487.5 368.94 L488.5 369.04 L489.5 369.14 L490.5 369.24 L491.5 369.33 L492.5 369.43 L493.5 369.52 L494.5 369.61 L495.5 369.7 L496.5 369.79 L497.5 369.87 L498.5 369.96 L499.5 370.04 L500.5 370.13 L501.5 370.21 L502.5 370.29 L503.5 370.37 L504.5 370.45 L505.5 370.53 L506.5 370.6 L507.5 370.68 L508.5 370.75 L509.5 370.83 L510.5 370.9 L511.5 370.97 L512.5 371.04 L513.5 371.11 L514.5 371.18 L515.5 371.24 L516.5 371.31 L517.5 371.38 L518.5 371.44 L519.5 371.51 L520.5 371.57 L521.5 371.63 L522.5 371.7 L523.5 371.76 L524.5 371.82 L525.5 371.88 L526.5 371.94 L527.5 371.99 L528.5 372.05 L529.5 372.11 L530.5 372.17 L531.5 372.22 L532.5 372.28 L533.5 372.33 L534.5 372.38 L535.5 372.44 L536.5 372.49 L537.5 372.54 L538.5 372.59 L539.5 372.64 L540.5 372.7 L541.5 372.74 L542.5 372.79 L543.5 372.84 L544.5 372.89 L545.5 372.94 L546.5 372.99 L547.5 373.03 L548.5 373.08 L549.5 373.13 L550.5 373.17 L551.5 373.22 L552.5 373.26 L553.5 373.3 L554.5 373.35 L555.5 373.39 L556.5 373.43 L557.5 373.48 L558.5 373.52 L559.5 373.56 L560.5 373.6 L561.5 373.64 L562.5 373.68 L563.5 373.72 L564.5 373.76 L565.5 373.8 L566.5 373.84 L567.5 373.88 L568.5 373.92 L569.5 373.95 L570.5 373.99 L571.5 374.03 L572.5 374.06 L573.5 374.1 L574.5 374.14 L575.5 374.17 L576.5 374.21 L577.5 374.24 L578.5 374.28 L579.5 374.31 L580.5 374.35 L581.5 374.38 L582.5 374.42 L583.5 374.45 L584.5 374.48 L585.5 374.52 L586.5 374.55 L587.5 374.58 L588.5 374.61 L589.5 374.64 L590.5 374.68 L591.5 374.71 L592.5 374.74 L593.5 374.77 L594.5 374.8 L595.5 374.83 L596.5 374.86 L597.5 374.89 L598.5 374.92 L599.5 374.95 L600.5 374.98 L601.5 375.01 L602.5 375.04 L603.5 375.07 L604.5 375.09 L605.5 375.12 L606.5 375.15 L607.5 375.18 L608.5 375.21 L609.5 375.23 L610.5 375.26 L611.5 375.29 L612.5 375.31 L613.5 375.34 L614.5 375.37 L615.5 375.39 L616.5 375.42 L617.5 375.44 L618.5 375.47 L619.5 375.5 L620.5 375.52 L621.5 375.55 L622.5 375.57 L623.5 375.6 L624.5 375.62 L625.5 375.65 L626.5 375.67 L627.5 375.69 L628.5 375.72 L629.5 375.74 L630.5 375.76 L631.5 375.79 L632.5 375.81 L633.5 375.83 L634.5 375.86 L635.5 375.88 L636.5 375.9 L637.5 375.93 L638.5 375.95 L639.5 375.97 L640.5 375.99 L641.5 376.01 L642.5 376.04 L643.5 376.06 L644.5 376.08 L645.5 376.1 L646.5 376.12 L647.5 376.14 L648.5 376.17 L649.5 376.19 L650.5 376.21 L651.5 376.23 L652.5 376.25 L653.5 376.27 L654.5 376.29 L655.5 376.31 L656.5 376.33 L657.5 376.35 L658.5 376.37 L659.5 376.39 L660.5 376.41 L661.5 376.43 L662.5 376.45 L663.5 376.47 L664.5 376.49 L665.5 376.5 L666.5 376.52 L667.5 376.54 L668.5 376.56 L669.5 376.58 L670.5 376.6 L671.5 376.62 L672.5 376.64 L673.5 376.65 L674.5 376.67 L675.5 376.69 L676.5 376.71 L677.5 376.73 L678.5 376.74" fill="none" stroke="#87cefa" stroke-width="2.2" stroke-dasharray="1.9 2.15" clip-path="url(#Bt)"/>
<rect x="37.5" y="0.5" width="295" height="178" fill="none" stroke="#000" stroke-width="1.2"/>
<rect x="37.5" y="187" width="295" height="66" fill="none" stroke="#000" stroke-width="1.2"/>
<path d="M37.5 253V319.5H332.5V253" fill="none" stroke="#000" stroke-width="1.2"/>
<rect x="37.5" y="319.5" width="295" height="66.8" fill="none" stroke="#000" stroke-width="1.2"/>
<rect x="383.5" y="0.5" width="295" height="177.4" fill="none" stroke="#000" stroke-width="1.2"/>
<rect x="383.5" y="186.7" width="295" height="65.6" fill="none" stroke="#000" stroke-width="1.2"/>
<rect x="383.5" y="255" width="295" height="65.5" fill="none" stroke="#000" stroke-width="1.2"/>
<rect x="383.5" y="320.5" width="295" height="65.8" fill="none" stroke="#000" stroke-width="1.2"/>
<text x="17.52" y="183.60" font-size="10.6" textLength="11.57" lengthAdjust="spacingAndGlyphs">10</text>
<text x="29.1" y="176.4" font-size="7.2">0</text>
<text x="17.52" y="151.50" font-size="10.6" textLength="11.57" lengthAdjust="spacingAndGlyphs">10</text>
<text x="29.1" y="144.3" font-size="7.2">1</text>
<text x="17.52" y="119.40" font-size="10.6" textLength="11.57" lengthAdjust="spacingAndGlyphs">10</text>
<text x="29.1" y="112.2" font-size="7.2">2</text>
<text x="17.52" y="87.30" font-size="10.6" textLength="11.57" lengthAdjust="spacingAndGlyphs">10</text>
<text x="29.1" y="80.1" font-size="7.2">3</text>
<text x="17.52" y="55.20" font-size="10.6" textLength="11.57" lengthAdjust="spacingAndGlyphs">10</text>
<text x="29.1" y="48" font-size="7.2">4</text>
<text x="17.52" y="23.10" font-size="10.6" textLength="11.57" lengthAdjust="spacingAndGlyphs">10</text>
<text x="29.1" y="15.9" font-size="7.2">5</text>
<text x="48.50" y="17.30" font-size="10.4" font-weight="bold" font-style="italic" textLength="32.74" lengthAdjust="spacingAndGlyphs">ATLAS</text>
<text x="83.94" y="17.30" font-size="10.4" textLength="48.07" lengthAdjust="spacingAndGlyphs">Simulation</text>
<path d="M48.4 26.3 L50.5 30.6 L53.3 22.3 H62" fill="none" stroke="#000" stroke-width="0.95" stroke-linejoin="miter"/>
<text x="55.60" y="30.00" font-size="10.8" font-style="italic" textLength="5.10" lengthAdjust="spacingAndGlyphs">s</text>
<text x="64.40" y="29.50" font-size="10.5" textLength="8.19" lengthAdjust="spacingAndGlyphs">=</text>
<text x="74.83" y="30.40" font-size="10.5" textLength="22.65" lengthAdjust="spacingAndGlyphs">13.6</text>
<text x="99.66" y="30.00" font-size="10.4" textLength="22.80" lengthAdjust="spacingAndGlyphs">TeV,</text>
<text x="124.45" y="30.40" font-size="11.8" font-style="italic" textLength="3.40" lengthAdjust="spacingAndGlyphs">t</text>
<text x="127.80" y="30.40" font-size="11.8" font-style="italic" textLength="4.32" lengthAdjust="spacingAndGlyphs">t</text>
<line x1="128.8" y1="21.4" x2="132.9" y2="21.4" stroke="#000" stroke-width="0.9"/>
<text x="135.39" y="30.00" font-size="10.4" textLength="30.18" lengthAdjust="spacingAndGlyphs">events</text>
<text x="47.37" y="43.40" font-size="10.5" textLength="11.83" lengthAdjust="spacingAndGlyphs">20</text>
<text x="61.50" y="43.40" font-size="10.5" textLength="6.98" lengthAdjust="spacingAndGlyphs">&lt;</text>
<text x="70.95" y="43.40" font-size="10.5" font-style="italic" textLength="5.56" lengthAdjust="spacingAndGlyphs">p</text>
<text x="84.22" y="43.40" font-size="10.5" textLength="6.74" lengthAdjust="spacingAndGlyphs">&lt;</text>
<text x="93.29" y="43.40" font-size="10.5" textLength="17.00" lengthAdjust="spacingAndGlyphs">250</text>
<text x="113.25" y="43.40" font-size="10.4" textLength="24.22" lengthAdjust="spacingAndGlyphs">GeV,</text>
<text x="139.68" y="43.40" font-size="10.5" textLength="3.25" lengthAdjust="spacingAndGlyphs">|</text>
<text x="143.23" y="43.40" font-size="10.5" font-style="italic" textLength="6.28" lengthAdjust="spacingAndGlyphs">η</text>
<text x="149.78" y="43.40" font-size="10.5" textLength="3.25" lengthAdjust="spacingAndGlyphs">|</text>
<text x="155.35" y="43.40" font-size="10.5" textLength="7.59" lengthAdjust="spacingAndGlyphs">&lt;</text>
<text x="165.22" y="43.40" font-size="10.5" textLength="16.04" lengthAdjust="spacingAndGlyphs">2.5</text>
<text x="76.20" y="45.50" font-size="7.7" textLength="6.00" lengthAdjust="spacingAndGlyphs">T</text>
<line x1="269.3" y1="13.1" x2="292" y2="13.1" stroke="#87cefa" stroke-width="2.2"/>
<line x1="269.3" y1="28" x2="292" y2="28" stroke="#ff8c00" stroke-width="2.2"/>
<text x="298.68" y="16.90" font-size="10.4" textLength="21.56" lengthAdjust="spacingAndGlyphs">GN2</text>
<text x="298.88" y="31.80" font-size="10.4" textLength="24.54" lengthAdjust="spacingAndGlyphs">DL1d</text>
<text x="33.7" y="201.55" font-size="11" text-anchor="end">2.0</text>
<text x="33.7" y="227.6" font-size="11" text-anchor="end">1.5</text>
<line x1="267.2" y1="200.7" x2="289.7" y2="200.7" stroke="#000" stroke-width="1.5"/>
<text x="297.14" y="203.90" font-size="10.4" font-style="italic" textLength="5.78" lengthAdjust="spacingAndGlyphs">b</text>
<text x="303.24" y="203.90" font-size="10.4" textLength="19.31" lengthAdjust="spacingAndGlyphs">-jets</text>
<text x="33.7" y="276.45" font-size="11" text-anchor="end">2</text>
<text x="33.7" y="318.45" font-size="11" text-anchor="end">1</text>
<line x1="253.6" y1="266" x2="274.1" y2="266" stroke="#000" stroke-width="1.5" stroke-dasharray="4.9 1.5 1 1.5"/>
<text x="282.19" y="269.60" font-size="10.4" textLength="41.04" lengthAdjust="spacingAndGlyphs">Light-jets</text>
<text x="30.61" y="397.80" font-size="11" textLength="13.42" lengthAdjust="spacingAndGlyphs">0.1</text>
<text x="89.38" y="397.80" font-size="11" textLength="14.54" lengthAdjust="spacingAndGlyphs">0.2</text>
<text x="148.38" y="397.80" font-size="11" textLength="14.43" lengthAdjust="spacingAndGlyphs">0.3</text>
<text x="207.39" y="397.80" font-size="11" textLength="14.27" lengthAdjust="spacingAndGlyphs">0.4</text>
<text x="266.38" y="397.80" font-size="11" textLength="14.43" lengthAdjust="spacingAndGlyphs">0.5</text>
<text x="325.38" y="397.80" font-size="11" textLength="14.43" lengthAdjust="spacingAndGlyphs">0.6</text>
<text x="33.7" y="351.35" font-size="11" text-anchor="end">50</text>
<text x="33.7" y="388.45" font-size="11" text-anchor="end">0</text>
<line x1="269.4" y1="334.5" x2="289.4" y2="334.5" stroke="#000" stroke-width="1.3" stroke-dasharray="1.3 1.4"/>
<text x="298.59" y="336.90" font-size="10.4" font-style="italic" textLength="4.41" lengthAdjust="spacingAndGlyphs">τ</text>
<text x="303.94" y="336.90" font-size="10.4" textLength="19.52" lengthAdjust="spacingAndGlyphs">-jets</text>
<g transform="rotate(-90)">
<text x="-133.74" y="10.60" font-size="14.2" textLength="133.59" lengthAdjust="spacingAndGlyphs">Background rejection</text>
</g>
<g transform="rotate(-90)">
<text x="-386.83" y="10.40" font-size="14.2" textLength="86.38" lengthAdjust="spacingAndGlyphs">Ratio to DL1d</text>
</g>
<text x="240.65" y="414.60" font-size="14.2" font-style="italic" textLength="7.50" lengthAdjust="spacingAndGlyphs">c</text>
<text x="248.15" y="414.60" font-size="14.2" textLength="83.41" lengthAdjust="spacingAndGlyphs">-jet efficiency</text>
<text x="178.22" y="444.90" font-size="13.6" textLength="13.78" lengthAdjust="spacingAndGlyphs">(a)</text>
<text x="363.52" y="183.00" font-size="10.6" textLength="11.57" lengthAdjust="spacingAndGlyphs">10</text>
<text x="375.1" y="175.8" font-size="7.2">0</text>
<text x="363.52" y="141.65" font-size="10.6" textLength="11.57" lengthAdjust="spacingAndGlyphs">10</text>
<text x="375.1" y="134.45" font-size="7.2">1</text>
<text x="363.52" y="100.30" font-size="10.6" textLength="11.57" lengthAdjust="spacingAndGlyphs">10</text>
<text x="375.1" y="93.1" font-size="7.2">2</text>
<text x="363.52" y="58.95" font-size="10.6" textLength="11.57" lengthAdjust="spacingAndGlyphs">10</text>
<text x="375.1" y="51.75" font-size="7.2">3</text>
<text x="363.52" y="17.60" font-size="10.6" textLength="11.57" lengthAdjust="spacingAndGlyphs">10</text>
<text x="375.1" y="10.4" font-size="7.2">4</text>
<text x="394.40" y="17.30" font-size="10.4" font-weight="bold" font-style="italic" textLength="32.74" lengthAdjust="spacingAndGlyphs">ATLAS</text>
<text x="429.84" y="17.30" font-size="10.4" textLength="48.07" lengthAdjust="spacingAndGlyphs">Simulation</text>
<path d="M394.3 26.3 L396.4 30.6 L399.2 22.3 H407.9" fill="none" stroke="#000" stroke-width="0.95" stroke-linejoin="miter"/>
<text x="401.50" y="30.00" font-size="10.8" font-style="italic" textLength="5.10" lengthAdjust="spacingAndGlyphs">s</text>
<text x="410.30" y="29.50" font-size="10.5" textLength="8.19" lengthAdjust="spacingAndGlyphs">=</text>
<text x="420.73" y="30.40" font-size="10.5" textLength="22.65" lengthAdjust="spacingAndGlyphs">13.6</text>
<text x="445.56" y="30.00" font-size="10.4" textLength="22.80" lengthAdjust="spacingAndGlyphs">TeV,</text>
<text x="470.15" y="30.00" font-size="10.4" textLength="9.24" lengthAdjust="spacingAndGlyphs">Z'</text>
<text x="481.29" y="30.00" font-size="10.4" textLength="30.08" lengthAdjust="spacingAndGlyphs">events</text>
<text x="393.19" y="43.40" font-size="10.5" textLength="17.11" lengthAdjust="spacingAndGlyphs">250</text>
<text x="413.32" y="43.40" font-size="10.5" textLength="6.74" lengthAdjust="spacingAndGlyphs">&lt;</text>
<text x="422.35" y="43.40" font-size="10.5" font-style="italic" textLength="5.56" lengthAdjust="spacingAndGlyphs">p</text>
<text x="436.02" y="43.40" font-size="10.5" textLength="6.74" lengthAdjust="spacingAndGlyphs">&lt;</text>
<text x="444.37" y="43.40" font-size="10.5" textLength="23.70" lengthAdjust="spacingAndGlyphs">6000</text>
<text x="470.35" y="43.40" font-size="10.4" textLength="23.90" lengthAdjust="spacingAndGlyphs">GeV,</text>
<text x="496.57" y="43.40" font-size="10.5" textLength="3.25" lengthAdjust="spacingAndGlyphs">|</text>
<text x="500.03" y="43.40" font-size="10.5" font-style="italic" textLength="6.28" lengthAdjust="spacingAndGlyphs">η</text>
<text x="506.48" y="43.40" font-size="10.5" textLength="3.25" lengthAdjust="spacingAndGlyphs">|</text>
<text x="512.25" y="43.40" font-size="10.5" textLength="7.59" lengthAdjust="spacingAndGlyphs">&lt;</text>
<text x="522.02" y="43.40" font-size="10.5" textLength="16.04" lengthAdjust="spacingAndGlyphs">2.5</text>
<text x="427.60" y="45.50" font-size="7.7" textLength="6.00" lengthAdjust="spacingAndGlyphs">T</text>
<line x1="614.9" y1="13.1" x2="637.5" y2="13.1" stroke="#87cefa" stroke-width="2.2"/>
<line x1="614.9" y1="27.8" x2="637.5" y2="27.8" stroke="#ff8c00" stroke-width="2.2"/>
<text x="644.48" y="16.90" font-size="10.4" textLength="21.46" lengthAdjust="spacingAndGlyphs">GN2</text>
<text x="644.58" y="31.80" font-size="10.4" textLength="24.65" lengthAdjust="spacingAndGlyphs">DL1d</text>
<text x="379.7" y="217.35" font-size="11" text-anchor="end">2</text>
<text x="379.7" y="253.05" font-size="11" text-anchor="end">1</text>
<line x1="612.9" y1="199.7" x2="634.8" y2="199.7" stroke="#000" stroke-width="1.5"/>
<text x="643.14" y="203.40" font-size="10.4" font-style="italic" textLength="5.78" lengthAdjust="spacingAndGlyphs">b</text>
<text x="649.24" y="203.40" font-size="10.4" textLength="19.31" lengthAdjust="spacingAndGlyphs">-jets</text>
<text x="379.7" y="274.55" font-size="11" text-anchor="end">4</text>
<text x="379.7" y="305.95" font-size="11" text-anchor="end">2</text>
<line x1="599.2" y1="267.6" x2="619.7" y2="267.6" stroke="#000" stroke-width="1.5" stroke-dasharray="4.9 1.5 1 1.5"/>
<text x="628.19" y="271.90" font-size="10.4" textLength="41.04" lengthAdjust="spacingAndGlyphs">Light-jets</text>
<text x="376.61" y="397.80" font-size="11" textLength="13.42" lengthAdjust="spacingAndGlyphs">0.1</text>
<text x="435.38" y="397.80" font-size="11" textLength="14.54" lengthAdjust="spacingAndGlyphs">0.2</text>
<text x="494.38" y="397.80" font-size="11" textLength="14.43" lengthAdjust="spacingAndGlyphs">0.3</text>
<text x="553.39" y="397.80" font-size="11" textLength="14.27" lengthAdjust="spacingAndGlyphs">0.4</text>
<text x="612.38" y="397.80" font-size="11" textLength="14.43" lengthAdjust="spacingAndGlyphs">0.5</text>
<text x="671.38" y="397.80" font-size="11" textLength="14.43" lengthAdjust="spacingAndGlyphs">0.6</text>
<text x="379.7" y="333.77" font-size="11" text-anchor="end">40</text>
<text x="379.7" y="361.51" font-size="11" text-anchor="end">20</text>
<line x1="614.8" y1="335.5" x2="634.8" y2="335.5" stroke="#000" stroke-width="1.3" stroke-dasharray="1.3 1.4"/>
<text x="644.49" y="337.90" font-size="10.4" font-style="italic" textLength="4.41" lengthAdjust="spacingAndGlyphs">τ</text>
<text x="649.84" y="337.90" font-size="10.4" textLength="19.52" lengthAdjust="spacingAndGlyphs">-jets</text>
<g transform="rotate(-90)">
<text x="-134.14" y="356.20" font-size="14.2" textLength="133.99" lengthAdjust="spacingAndGlyphs">Background rejection</text>
</g>
<g transform="rotate(-90)">
<text x="-386.13" y="356.60" font-size="14.2" textLength="86.38" lengthAdjust="spacingAndGlyphs">Ratio to DL1d</text>
</g>
<text x="586.65" y="414.60" font-size="14.2" font-style="italic" textLength="7.50" lengthAdjust="spacingAndGlyphs">c</text>
<text x="594.16" y="414.60" font-size="14.2" textLength="83.21" lengthAdjust="spacingAndGlyphs">-jet efficiency</text>
<text x="523.49" y="444.90" font-size="13.6" textLength="14.44" lengthAdjust="spacingAndGlyphs">(b)</text>
</svg>
</body></html>
